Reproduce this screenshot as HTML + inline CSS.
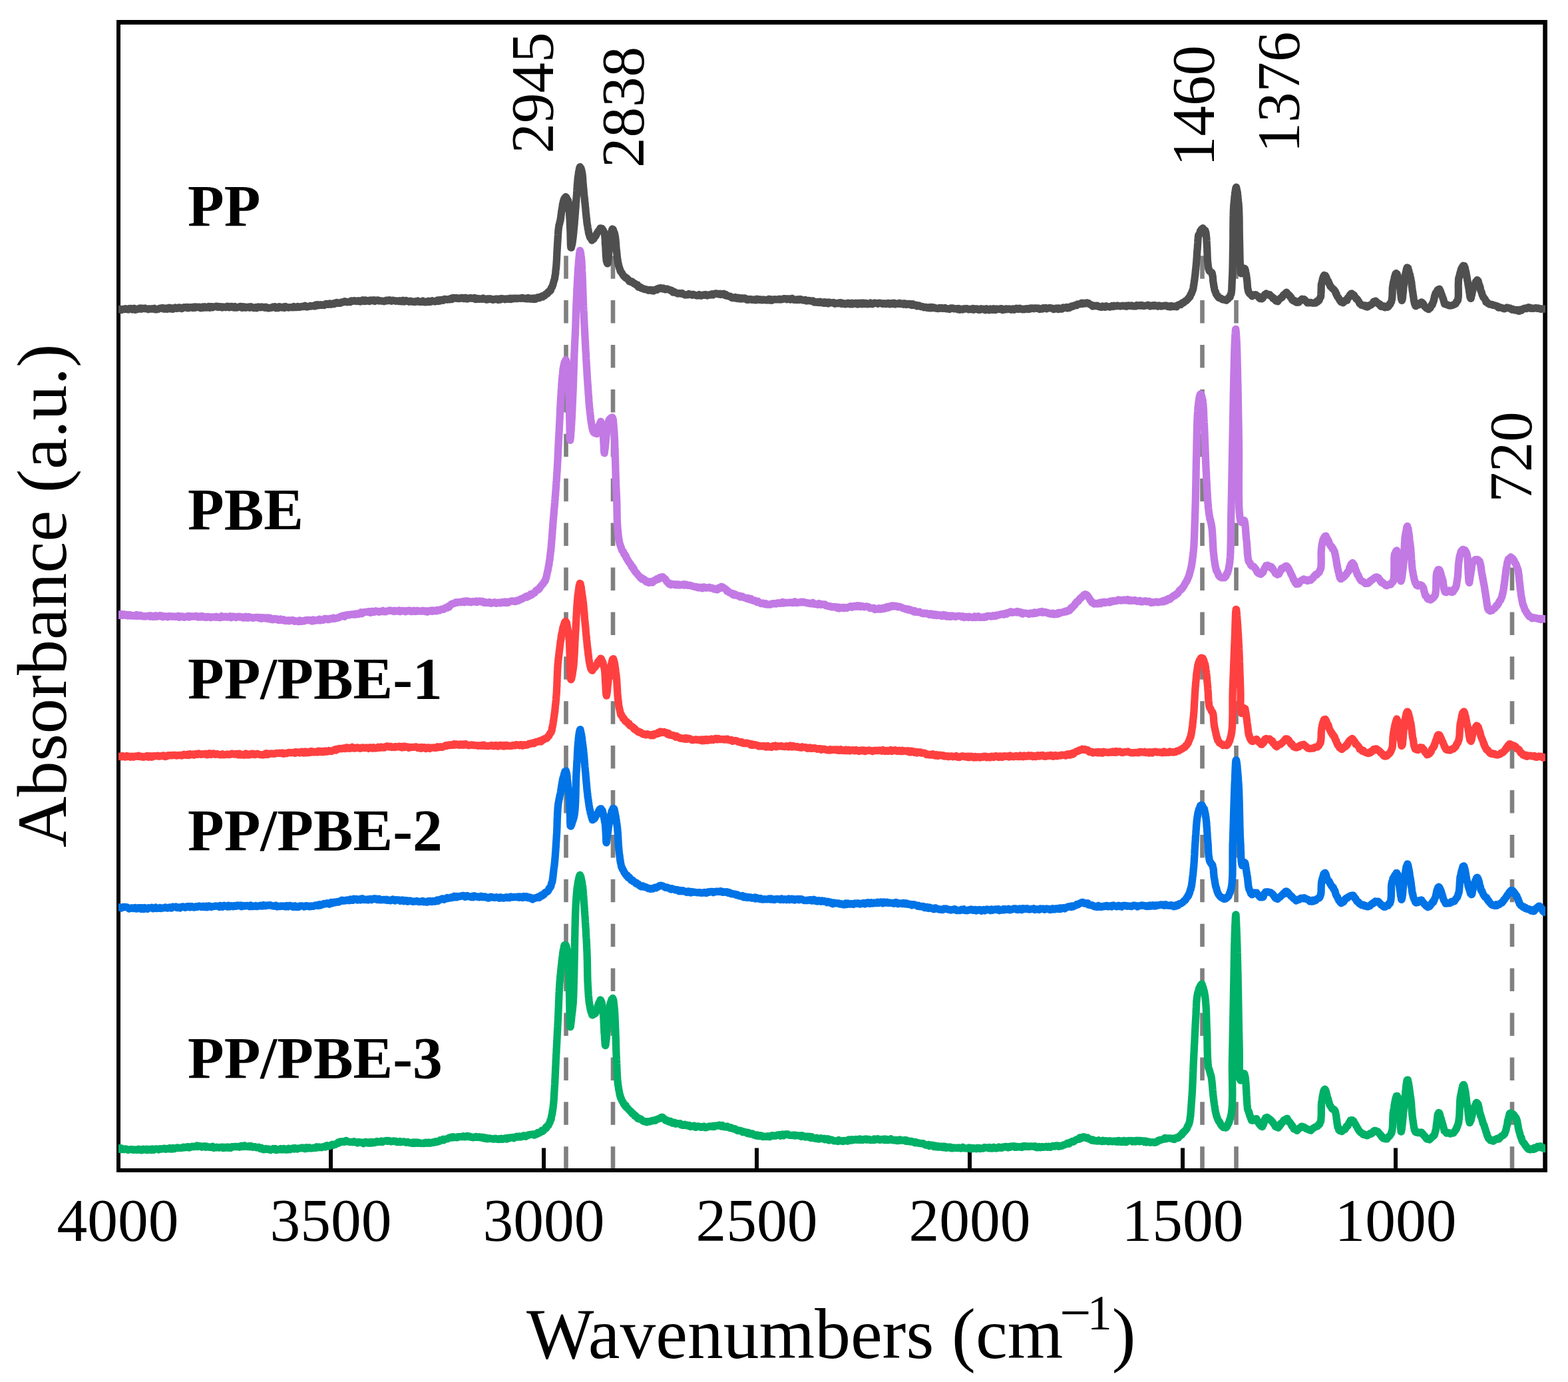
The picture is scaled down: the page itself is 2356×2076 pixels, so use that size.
<!DOCTYPE html>
<html><head><meta charset="utf-8"><title>FTIR spectra</title><style>html,body{margin:0;padding:0;background:#fff;}svg{display:block;}</style></head><body>
<svg width="2356" height="2076" viewBox="0 0 2356 2076">
<rect x="0" y="0" width="2356" height="2076" fill="#fff"/>
<line x1="850.5" y1="384.2" x2="850.5" y2="1755" stroke="#808080" stroke-width="6.6" stroke-dasharray="34.5 32.4"/>
<line x1="921.0" y1="384.2" x2="921.0" y2="1755" stroke="#808080" stroke-width="6.6" stroke-dasharray="34.5 32.4"/>
<line x1="1806.5" y1="384.2" x2="1806.5" y2="1755" stroke="#808080" stroke-width="6.6" stroke-dasharray="34.5 32.4"/>
<line x1="1857.5" y1="384.2" x2="1857.5" y2="1755" stroke="#808080" stroke-width="6.6" stroke-dasharray="34.5 32.4"/>
<line x1="2272" y1="852.5" x2="2272" y2="1755" stroke="#808080" stroke-width="6.6" stroke-dasharray="34.5 32.4"/>
<rect x="494" y="1724.5" width="6" height="32" fill="#000"/>
<rect x="814" y="1724.5" width="6" height="32" fill="#000"/>
<rect x="1134" y="1724.5" width="6" height="32" fill="#000"/>
<rect x="1454" y="1724.5" width="6" height="32" fill="#000"/>
<rect x="1774" y="1724.5" width="6" height="32" fill="#000"/>
<rect x="2094" y="1724.5" width="6" height="32" fill="#000"/>
<rect x="175" y="30" width="6" height="1731" fill="#000"/>
<rect x="2318.3" y="30" width="6.7" height="1731" fill="#000"/>
<rect x="175" y="30" width="2150" height="6.9" fill="#000"/>
<rect x="175" y="1755" width="2150" height="6" fill="#000"/>
<clipPath id="pc"><rect x="178" y="30" width="2144" height="1731"/></clipPath>
<g clip-path="url(#pc)" fill="none" stroke-width="11.3" stroke-linejoin="round" stroke-linecap="round">
<path stroke="#4f4f4f" d="M178.0,464.6L179.5,464.5L181.0,464.7L182.5,465.5L184.0,464.4L185.5,464.5L187.0,464.7L188.4,463.7L189.9,464.4L191.4,464.7L192.8,465.0L194.3,463.5L195.7,463.9L197.2,463.4L198.7,465.0L200.1,464.7L201.6,463.2L203.0,465.3L204.5,465.2L206.0,464.5L207.4,464.4L208.9,463.4L210.4,463.0L211.9,464.2L213.4,463.1L214.9,463.4L216.4,463.5L217.9,463.0L219.4,463.9L220.9,463.8L222.5,464.7L224.0,463.9L225.6,464.2L227.2,463.8L228.8,464.2L230.4,463.7L232.0,463.3L233.6,464.8L235.3,464.8L236.9,464.4L238.6,464.1L240.0,463.2L241.3,462.9L242.7,463.0L244.1,462.5L245.5,464.0L246.9,463.2L248.4,464.1L249.8,463.1L251.3,464.3L252.7,464.0L254.2,462.1L255.7,462.5L257.2,464.0L258.7,463.0L260.2,464.1L261.8,462.7L263.3,462.0L264.8,463.1L266.4,463.4L268.0,462.2L269.5,461.8L271.1,462.3L272.7,463.6L274.2,463.1L275.8,461.6L277.4,461.9L279.0,461.5L280.6,461.3L282.2,462.9L283.8,461.5L285.4,462.3L287.0,462.0L288.6,461.4L290.1,462.5L291.7,461.1L293.3,462.2L294.9,461.0L296.5,461.6L298.1,461.1L299.7,461.2L301.3,462.7L302.8,462.3L304.4,461.1L306.0,462.4L307.5,460.8L309.1,461.2L310.6,462.2L312.2,461.7L313.7,460.4L315.2,462.4L316.7,460.6L318.2,460.7L319.7,461.8L321.2,460.8L322.7,460.7L324.1,460.2L325.6,460.2L327.0,461.3L328.4,460.5L329.8,461.3L331.2,460.7L332.6,460.9L334.0,462.0L335.7,461.0L337.3,461.2L338.9,461.8L340.6,460.3L342.2,460.2L343.8,461.9L345.3,461.7L346.9,460.5L348.5,460.4L350.0,461.6L351.6,462.1L353.1,460.5L354.6,462.2L356.2,462.1L357.7,461.5L359.2,461.1L360.7,460.5L362.2,460.4L363.6,462.4L365.1,460.9L366.6,462.0L368.1,461.0L369.6,462.3L371.0,461.8L372.5,461.2L374.0,461.0L375.4,462.2L376.9,460.8L378.3,461.2L379.8,462.0L381.3,462.7L382.7,462.2L384.2,461.5L385.7,462.9L387.2,461.3L388.6,460.9L390.1,461.5L391.6,461.9L393.1,461.0L394.6,461.3L396.1,461.7L397.6,462.2L399.1,461.2L400.6,461.7L402.2,462.8L403.7,463.0L405.3,462.3L406.9,462.3L408.4,462.1L410.0,461.1L411.6,460.8L413.2,460.7L414.8,462.7L416.4,462.2L417.9,462.7L419.5,460.6L421.1,461.9L422.7,461.5L424.3,462.0L425.9,461.1L427.5,462.5L429.1,460.5L430.7,461.5L432.2,461.8L433.8,462.1L435.3,461.7L436.9,461.6L438.4,461.7L440.0,461.9L441.5,460.6L443.0,461.3L444.5,461.7L445.9,461.6L447.4,460.5L448.8,461.3L450.3,461.4L451.7,460.7L453.1,460.7L454.4,460.1L455.8,460.5L457.1,460.5L458.4,459.2L459.7,460.4L461.0,461.1L462.8,460.7L464.5,460.3L466.1,459.4L467.8,460.0L469.4,459.6L470.9,459.1L472.5,459.9L474.0,458.1L475.5,459.4L477.0,457.7L478.4,458.8L479.9,458.4L481.3,457.7L482.7,458.6L484.2,458.0L485.6,458.1L487.1,458.6L488.5,457.0L490.0,456.3L491.5,456.7L493.0,457.4L494.5,456.2L496.0,455.9L497.5,457.3L498.9,456.6L500.4,455.9L501.8,456.7L503.3,455.2L504.7,455.7L506.1,454.5L507.6,454.8L509.1,455.4L510.5,455.4L512.0,455.1L513.5,453.8L515.1,454.0L516.6,453.2L518.2,452.6L519.9,453.3L521.5,453.8L523.2,453.7L525.0,453.3L526.3,453.7L527.5,452.1L528.8,451.8L530.2,452.4L531.5,451.9L532.9,451.7L534.3,452.1L535.7,452.5L537.1,452.2L538.5,451.7L540.0,452.8L541.4,453.1L542.9,451.9L544.4,451.0L545.9,450.9L547.4,452.7L548.9,450.9L550.5,452.3L552.0,452.0L553.6,451.4L555.1,452.5L556.7,450.8L558.3,451.0L559.8,451.7L561.4,450.8L563.0,452.5L564.6,451.2L566.2,451.0L567.8,450.8L569.3,452.1L570.9,451.7L572.5,452.1L574.1,452.1L575.7,452.5L577.2,452.8L578.8,452.2L580.3,451.1L581.9,451.8L583.4,451.1L585.0,450.7L586.5,451.7L588.0,452.3L589.5,451.1L591.1,451.3L592.6,451.5L594.2,452.3L595.7,451.9L597.3,452.1L598.9,452.5L600.5,451.7L602.1,452.6L603.7,452.9L605.3,451.2L606.9,453.1L608.5,452.7L610.1,451.4L611.7,452.2L613.3,452.6L614.9,453.3L616.6,452.1L618.2,452.6L619.8,453.3L621.4,453.2L622.9,453.6L624.5,452.6L626.1,453.0L627.7,452.1L629.2,453.2L630.8,453.5L632.3,453.1L633.8,453.3L635.3,452.2L636.8,453.7L638.3,453.9L639.7,453.9L641.2,452.9L642.6,453.5L644.0,452.4L645.4,453.7L646.8,453.5L648.1,452.4L649.4,451.7L650.7,452.4L652.0,452.6L653.8,453.0L655.4,452.2L657.1,451.0L658.6,452.5L660.2,450.7L661.6,452.0L663.1,450.4L664.5,450.5L665.9,451.2L667.3,449.6L668.7,449.3L670.1,449.9L671.5,450.0L672.9,450.1L674.4,449.5L675.9,449.8L677.4,448.6L679.0,449.4L680.6,447.4L682.3,447.5L684.0,448.1L685.3,447.5L686.5,448.4L687.9,448.1L689.2,447.9L690.6,448.5L692.0,447.9L693.4,447.4L694.8,447.5L696.2,448.6L697.7,448.7L699.2,447.2L700.7,448.7L702.2,449.0L703.7,448.0L705.3,448.2L706.8,447.4L708.4,448.2L710.0,448.2L711.5,448.5L713.1,447.3L714.7,449.5L716.3,448.6L717.9,448.4L719.5,449.4L721.1,448.9L722.7,448.8L724.3,449.3L725.8,448.0L727.4,449.2L729.0,449.0L730.6,450.2L732.1,450.2L733.7,448.8L735.2,449.3L736.7,448.6L738.3,449.3L739.8,450.2L741.2,450.4L742.7,449.5L744.2,449.2L745.6,448.9L747.0,449.9L748.6,450.5L750.3,448.8L751.9,450.2L753.6,448.4L755.4,448.8L757.1,448.8L758.9,449.8L760.6,448.9L762.4,448.9L764.1,449.4L765.9,448.2L767.6,449.5L769.4,448.1L771.1,448.8L772.8,448.2L774.5,448.0L776.1,448.6L777.8,448.4L779.3,448.1L780.9,448.2L782.4,448.3L783.9,447.5L785.3,447.5L786.6,448.4L787.9,448.4L789.1,448.1L790.3,448.8L791.4,448.2L792.4,448.7L793.4,447.4L794.2,448.5L795.0,448.7L797.0,449.1L798.3,448.1L800.0,448.2L801.3,449.5L802.7,447.8L804.2,449.3L805.8,448.8L807.5,446.9L809.2,446.7L810.8,447.4L812.4,445.9L813.9,444.9L815.4,445.9L816.9,444.2L818.4,444.2L819.9,441.8L821.3,441.4L822.6,441.0L823.8,438.4L825.0,437.5L825.9,437.5L826.8,436.8L827.6,435.6L828.3,432.4L829.0,431.9L829.7,431.0L830.3,428.9L830.9,427.8L831.4,425.2L831.9,423.4L832.3,422.1L832.7,420.6L833.0,420.4L833.3,418.9L833.6,417.6L833.8,415.2L834.1,413.9L834.3,412.4L834.5,412.3L834.7,411.1L834.8,409.3L835.0,405.9L835.2,404.2L835.4,404.5L835.5,402.1L835.7,401.4L835.8,399.0L835.9,397.9L836.0,396.5L836.1,394.8L836.2,393.7L836.3,390.9L836.4,390.8L836.5,389.6L836.5,386.5L836.6,385.6L836.7,384.6L836.8,382.3L836.8,380.3L836.9,378.6L837.0,377.8L837.1,375.2L837.1,375.6L837.2,373.9L837.3,372.2L837.4,371.0L837.5,369.1L837.6,366.9L837.7,365.7L837.8,363.8L837.9,363.2L838.0,361.1L838.1,358.2L838.2,357.9L838.3,355.9L838.4,354.3L838.5,352.8L838.6,350.3L838.7,349.8L838.8,348.3L838.9,346.5L839.1,345.3L839.2,344.0L839.4,342.0L839.6,341.5L839.9,338.2L840.4,337.2L840.8,336.0L841.2,333.4L841.6,332.4L841.9,331.8L842.1,330.4L842.3,328.1L842.5,328.2L842.7,326.0L842.9,323.7L843.1,322.8L843.3,321.0L843.5,319.3L843.7,317.4L844.0,317.2L844.2,315.0L844.4,313.7L844.7,312.1L845.0,310.8L845.3,307.0L845.6,306.7L846.0,305.3L846.3,302.8L846.7,301.8L847.2,299.8L848.0,298.2L849.0,297.0L850.0,295.7L851.1,296.7L852.4,299.7L853.4,300.9L853.8,301.8L854.1,303.9L854.3,304.3L854.5,306.6L854.7,307.3L854.8,309.2L855.0,309.2L855.0,312.0L855.1,314.1L855.2,314.2L855.3,317.8L855.4,317.8L855.5,320.2L855.6,320.9L855.7,323.1L855.8,324.8L855.9,325.1L856.0,328.6L856.1,329.0L856.2,330.8L856.2,332.5L856.3,333.6L856.4,335.0L856.4,337.5L856.5,338.8L856.6,339.8L856.6,342.3L856.7,343.0L856.8,343.9L856.8,345.9L856.9,347.0L857.0,348.9L857.0,352.1L857.1,353.3L857.1,356.5L857.2,358.3L857.2,358.8L857.3,362.9L857.3,364.7L857.4,364.6L857.4,368.1L857.5,368.5L857.6,369.8L857.7,371.8L857.9,370.8L858.0,371.6L858.3,372.1L858.7,370.5L859.1,368.2L859.6,367.3L860.0,364.7L860.4,362.1L860.6,359.8L860.7,359.7L860.9,358.0L861.1,356.1L861.3,354.3L861.4,353.8L861.6,351.4L861.7,350.6L861.9,349.4L862.0,347.3L862.2,345.3L862.3,344.3L862.4,342.3L862.6,341.4L862.7,339.1L862.9,338.5L863.0,336.7L863.2,334.6L863.3,332.1L863.4,330.4L863.5,330.6L863.7,328.9L863.8,327.1L863.9,325.0L864.0,323.3L864.1,322.7L864.3,320.9L864.4,319.5L864.5,318.0L864.6,316.8L864.7,314.0L864.9,312.6L865.0,312.7L865.1,311.0L865.2,309.4L865.3,306.0L865.4,304.5L865.6,303.4L865.7,302.3L865.8,301.2L865.9,298.5L866.0,298.0L866.2,295.4L866.3,293.8L866.4,293.5L866.5,291.7L866.6,290.2L866.7,288.0L866.8,286.6L866.9,284.4L867.0,283.1L867.1,282.3L867.2,281.0L867.4,277.7L867.5,276.2L867.6,276.2L867.7,274.3L867.8,273.2L868.0,270.5L868.1,269.6L868.2,267.9L868.4,267.8L868.5,265.6L868.7,265.0L869.0,263.6L869.3,260.0L869.6,258.3L870.0,256.6L870.3,255.2L870.7,252.7L871.1,251.6L871.5,250.6L872.2,252.9L872.9,252.6L873.6,254.7L874.3,257.9L874.5,258.9L874.8,260.6L875.0,261.2L875.1,263.7L875.3,263.8L875.4,265.7L875.6,268.4L875.7,268.9L875.8,271.1L875.9,273.8L876.0,275.5L876.2,276.4L876.3,277.8L876.5,279.7L876.6,282.0L876.8,282.7L876.9,283.6L877.1,286.4L877.2,287.6L877.4,289.9L877.5,291.5L877.7,293.0L877.8,293.5L878.0,295.9L878.1,296.4L878.3,298.0L878.5,299.7L878.6,302.5L878.8,304.0L878.9,304.2L879.1,306.0L879.3,307.5L879.4,309.0L879.6,310.6L879.7,312.2L879.9,313.3L880.0,315.7L880.2,317.9L880.3,318.9L880.5,321.2L880.6,322.2L880.8,322.9L881.0,325.8L881.1,327.6L881.3,327.8L881.5,328.8L881.6,331.4L881.8,332.9L882.0,334.4L882.2,336.6L882.4,337.3L882.6,338.9L882.9,339.1L883.1,341.9L883.4,344.1L883.7,344.2L884.0,345.8L884.3,348.8L884.6,350.7L884.9,350.3L885.3,352.8L885.6,353.0L886.1,355.5L886.8,357.1L887.7,358.0L888.6,359.3L889.5,361.0L890.7,360.0L891.9,359.1L893.2,356.5L894.4,354.6L895.2,354.6L896.0,352.5L896.8,350.7L897.6,349.3L898.4,348.3L899.2,347.0L900.6,345.6L902.0,342.9L903.4,343.1L904.5,343.3L905.6,345.0L906.7,346.7L907.6,348.7L907.9,350.0L908.3,351.4L908.5,352.1L908.7,353.4L908.9,355.4L909.0,357.3L909.1,358.2L909.2,360.0L909.3,361.1L909.3,364.2L909.4,366.5L909.5,366.9L909.6,368.1L909.8,369.8L909.9,371.9L910.0,373.4L910.1,376.6L910.1,376.3L910.2,378.6L910.3,379.9L910.4,382.8L910.5,384.6L910.6,384.9L910.7,386.1L910.9,388.3L911.0,389.8L911.4,392.8L911.8,393.2L912.3,395.0L912.7,395.9L912.9,395.7L913.1,395.1L913.3,395.1L913.5,393.5L913.7,391.0L913.9,389.1L914.1,387.4L914.3,385.0L914.4,384.2L914.6,381.1L914.8,379.6L915.0,378.2L915.2,375.7L915.4,373.7L915.5,373.5L915.7,371.9L915.8,368.9L915.9,367.6L916.1,366.8L916.2,364.0L916.4,361.7L916.5,359.6L916.7,360.0L916.9,358.0L917.0,355.6L917.2,354.5L917.5,353.1L917.7,351.3L918.0,351.8L918.6,348.9L919.3,346.0L920.0,344.0L920.7,344.4L921.3,344.6L921.8,346.5L922.3,347.8L922.9,349.3L923.3,350.3L923.8,352.3L924.2,354.5L924.5,355.7L924.7,358.5L924.9,359.2L925.1,361.1L925.2,363.5L925.4,363.5L925.5,365.8L925.6,366.6L925.7,369.7L925.8,369.7L926.0,373.2L926.1,374.9L926.3,376.4L926.5,376.3L926.6,378.3L926.8,380.8L927.0,381.0L927.1,383.4L927.3,384.9L927.5,387.5L927.7,388.2L927.9,390.3L928.1,390.6L928.3,393.1L928.5,393.7L928.8,396.2L929.1,395.7L929.5,399.0L929.9,399.4L930.4,401.8L930.9,403.4L931.4,404.1L932.0,407.0L932.6,407.3L933.2,408.6L934.2,409.7L935.3,411.7L936.4,413.4L937.6,415.2L938.8,415.7L940.1,417.6L941.5,417.5L942.9,419.2L944.3,420.4L945.7,422.6L947.1,423.1L948.4,423.5L949.7,422.9L951.1,424.5L952.7,426.2L953.9,425.9L955.1,427.4L956.5,428.1L957.8,428.0L959.2,431.2L960.7,431.7L962.2,431.3L963.6,433.0L965.1,433.0L966.6,433.8L968.1,434.6L969.6,434.5L971.1,434.9L972.7,435.4L974.2,436.2L975.8,435.4L977.3,435.4L978.9,436.6L980.4,435.7L982.0,437.0L983.4,435.8L984.9,435.8L986.4,434.5L987.8,435.1L989.3,433.0L990.9,432.8L992.6,432.5L994.3,433.7L995.5,433.9L996.8,432.9L998.1,433.6L999.5,434.9L1000.8,434.7L1002.2,434.0L1003.7,434.8L1005.1,435.1L1006.6,435.6L1008.1,436.7L1009.6,436.5L1011.1,438.9L1012.6,438.3L1014.2,439.0L1015.7,439.8L1017.2,440.5L1018.8,441.1L1020.3,440.5L1021.8,440.6L1023.3,441.1L1024.7,440.4L1026.2,441.5L1027.7,442.3L1029.2,443.1L1030.7,442.9L1032.2,442.7L1033.7,442.8L1035.2,441.6L1036.8,442.4L1038.3,442.5L1039.8,443.3L1041.4,442.2L1042.9,442.8L1044.4,443.2L1046.0,443.9L1047.5,444.0L1049.0,443.6L1050.6,442.6L1052.1,444.0L1053.6,444.3L1055.1,443.5L1056.7,443.0L1058.2,443.3L1059.8,442.4L1061.4,443.6L1063.0,444.0L1064.6,442.8L1066.2,443.1L1067.8,443.2L1069.4,441.7L1071.0,443.1L1072.6,442.3L1074.1,441.2L1075.7,440.8L1077.2,441.1L1078.6,441.8L1080.1,442.0L1081.5,441.2L1082.8,442.5L1084.1,441.4L1085.4,441.7L1087.2,441.3L1088.8,443.5L1090.2,442.1L1091.6,444.3L1093.0,444.1L1094.4,444.7L1095.8,445.3L1097.4,445.2L1099.1,447.1L1101.0,447.7L1102.1,447.5L1103.3,447.2L1104.5,446.4L1105.8,448.1L1107.1,447.1L1108.5,448.7L1109.9,447.4L1111.3,448.3L1112.8,449.1L1114.4,447.8L1115.9,448.8L1117.5,447.9L1119.1,448.0L1120.7,448.4L1122.3,450.4L1123.9,450.4L1125.6,449.9L1127.2,449.3L1128.9,450.2L1130.5,450.4L1132.2,449.8L1133.8,450.3L1135.5,450.9L1137.1,449.2L1138.7,449.7L1140.2,450.4L1141.8,449.7L1143.3,450.3L1144.8,450.8L1146.2,449.9L1147.6,450.7L1149.0,450.2L1150.6,450.9L1152.2,450.3L1153.8,450.9L1155.3,449.5L1156.8,450.8L1158.2,449.6L1159.7,451.2L1161.1,450.3L1162.5,449.9L1163.9,449.6L1165.3,449.9L1166.8,449.9L1168.2,449.9L1169.6,449.8L1171.1,449.1L1172.6,450.1L1174.2,449.7L1175.7,449.6L1177.4,448.6L1179.1,448.6L1180.8,448.9L1182.1,449.7L1183.4,448.9L1184.7,449.0L1186.0,448.9L1187.4,450.0L1188.8,448.8L1190.2,448.3L1191.7,449.9L1193.2,450.4L1194.6,450.2L1196.1,450.0L1197.7,450.5L1199.2,449.7L1200.7,450.5L1202.3,449.5L1203.8,449.8L1205.4,450.7L1207.0,451.0L1208.6,451.0L1210.2,450.4L1211.8,452.0L1213.4,451.8L1215.0,451.4L1216.6,451.7L1218.2,452.1L1219.9,452.0L1221.5,451.8L1223.1,453.9L1224.7,454.2L1226.3,453.7L1227.8,454.3L1229.4,453.5L1231.0,454.5L1232.5,453.4L1234.1,454.7L1235.6,454.5L1237.1,455.3L1238.6,453.7L1240.1,455.3L1241.5,454.0L1243.0,455.0L1244.4,456.0L1246.0,454.0L1247.7,454.6L1249.3,454.8L1250.9,454.9L1252.5,454.4L1254.0,456.3L1255.6,456.2L1257.2,455.3L1258.7,455.3L1260.3,455.8L1261.8,454.7L1263.3,454.7L1264.8,456.6L1266.4,455.4L1267.9,455.8L1269.4,456.8L1270.9,456.9L1272.4,455.8L1273.9,455.2L1275.4,455.4L1276.9,456.8L1278.4,456.8L1279.9,455.2L1281.4,456.7L1282.9,455.6L1284.4,455.9L1285.9,455.2L1287.4,456.8L1288.9,457.1L1290.5,455.3L1292.0,456.3L1293.5,455.3L1295.1,456.9L1296.7,455.0L1298.2,455.2L1299.8,456.5L1301.4,455.6L1303.0,456.9L1304.6,456.8L1306.2,456.5L1307.8,455.2L1309.3,456.4L1310.9,456.9L1312.5,455.8L1314.1,455.0L1315.7,455.3L1317.3,455.5L1318.9,456.4L1320.4,455.2L1322.0,455.2L1323.6,455.3L1325.1,456.2L1326.6,456.5L1328.2,455.6L1329.7,456.2L1331.2,456.7L1332.6,456.1L1334.1,455.3L1335.6,455.5L1337.0,456.9L1338.4,456.3L1339.8,455.5L1341.5,456.4L1343.1,455.2L1344.8,457.2L1346.4,456.0L1348.1,456.3L1349.7,456.3L1351.3,455.3L1352.9,456.6L1354.5,456.0L1356.0,456.0L1357.6,457.2L1359.1,455.7L1360.6,456.3L1362.1,457.4L1363.5,456.4L1364.9,456.5L1366.3,457.2L1367.7,456.6L1369.0,458.3L1370.3,458.6L1371.6,456.7L1373.4,457.9L1375.0,458.8L1376.5,458.3L1377.9,459.9L1379.4,459.3L1380.8,459.0L1382.3,460.2L1383.9,460.7L1385.6,460.4L1387.5,461.3L1388.6,461.8L1389.8,461.3L1391.1,461.4L1392.3,462.3L1393.6,462.1L1395.0,461.9L1396.4,462.9L1397.8,461.3L1399.2,462.8L1400.7,461.6L1402.2,462.6L1403.7,461.9L1405.2,462.5L1406.8,463.3L1408.4,463.4L1410.0,463.5L1411.6,462.4L1413.3,463.0L1414.9,462.5L1416.6,463.4L1418.3,463.3L1419.9,462.4L1421.6,463.7L1423.3,464.0L1425.0,463.8L1426.7,464.5L1428.3,463.0L1430.0,463.0L1431.7,462.8L1433.3,463.9L1435.0,463.9L1436.4,463.9L1437.8,463.6L1439.3,464.8L1440.7,463.3L1442.2,465.1L1443.6,464.4L1445.1,464.4L1446.6,465.0L1448.0,463.8L1449.5,463.6L1451.0,464.0L1452.5,463.5L1454.1,464.1L1455.6,464.8L1457.1,464.6L1458.6,464.1L1460.2,464.8L1461.7,463.7L1463.2,465.3L1464.8,463.9L1466.3,464.1L1467.9,463.9L1469.4,465.1L1471.0,465.4L1472.5,465.3L1474.1,463.7L1475.6,464.5L1477.2,464.4L1478.7,464.1L1480.3,465.8L1481.9,463.7L1483.4,464.7L1485.0,465.3L1486.5,465.8L1488.1,464.0L1489.6,464.6L1491.2,465.3L1492.7,463.7L1494.2,464.1L1495.8,465.6L1497.3,463.9L1498.8,464.5L1500.3,464.2L1501.9,464.5L1503.4,463.7L1505.0,463.6L1506.5,465.7L1508.1,465.2L1509.7,465.1L1511.2,464.0L1512.8,464.0L1514.4,464.6L1516.0,463.9L1517.6,464.3L1519.2,465.3L1520.8,464.1L1522.4,464.0L1524.0,465.3L1525.6,464.5L1527.2,463.2L1528.8,463.9L1530.4,464.5L1532.0,463.1L1533.6,463.7L1535.1,464.4L1536.7,464.8L1538.2,464.1L1539.8,464.7L1541.3,463.8L1542.8,463.6L1544.3,464.5L1545.8,463.5L1547.3,464.3L1548.8,463.0L1550.2,463.3L1551.7,462.9L1553.1,463.7L1554.5,462.8L1555.8,462.8L1557.2,462.8L1558.5,463.4L1559.8,463.0L1561.1,463.3L1562.4,464.5L1564.2,463.8L1565.9,464.2L1567.6,462.7L1569.3,463.2L1570.9,462.5L1572.5,463.9L1574.1,463.2L1575.7,463.0L1577.3,462.5L1578.8,462.9L1580.3,463.1L1581.8,463.4L1583.2,464.6L1584.7,464.1L1586.1,463.2L1587.5,463.3L1588.8,462.9L1590.1,464.6L1591.5,463.2L1592.7,464.1L1594.0,463.9L1595.8,464.1L1597.6,462.0L1599.2,462.5L1600.8,462.4L1602.4,461.6L1603.9,463.1L1605.4,461.6L1606.9,462.3L1608.4,461.4L1610.0,460.0L1611.5,460.4L1613.0,459.6L1614.5,458.7L1616.0,458.4L1617.5,458.8L1619.0,457.0L1620.5,457.1L1621.9,456.9L1623.3,456.7L1624.7,455.4L1626.0,456.5L1627.7,455.2L1629.4,456.1L1631.0,455.9L1632.6,454.8L1634.1,455.1L1635.5,455.5L1637.1,457.1L1638.5,457.4L1640.0,458.4L1642.0,460.2L1642.9,459.0L1644.0,459.3L1645.1,459.6L1646.4,459.5L1647.7,459.2L1649.1,459.2L1650.5,460.6L1652.0,460.5L1653.6,461.1L1655.2,461.4L1656.9,460.0L1658.6,460.8L1660.3,461.3L1662.0,459.7L1663.8,460.7L1665.5,460.6L1667.3,461.2L1669.0,461.0L1670.8,459.5L1672.5,460.4L1674.2,459.1L1675.8,459.9L1677.4,459.8L1679.0,459.0L1680.5,459.7L1682.1,459.6L1683.6,460.0L1685.1,459.5L1686.6,459.2L1688.2,459.7L1689.7,459.8L1691.2,459.1L1692.7,460.2L1694.3,459.2L1695.8,458.9L1697.3,459.4L1698.8,459.5L1700.4,458.9L1701.9,459.8L1703.4,460.0L1704.9,459.7L1706.5,460.0L1708.0,458.5L1709.5,459.2L1711.0,459.2L1712.6,458.5L1714.1,459.2L1715.6,458.4L1717.1,459.4L1718.7,459.6L1720.3,459.3L1721.9,459.0L1723.5,458.8L1725.2,458.2L1726.8,458.9L1728.4,460.1L1730.1,459.4L1731.7,458.7L1733.4,459.6L1735.0,458.5L1736.6,459.1L1738.2,459.4L1739.7,460.2L1741.3,458.9L1742.8,459.4L1744.2,460.2L1745.7,459.8L1747.0,459.5L1748.4,459.5L1749.6,459.1L1750.8,459.2L1752.0,458.9L1753.9,460.3L1755.6,460.6L1757.2,459.8L1758.7,461.2L1760.1,459.5L1761.6,459.9L1763.0,460.7L1764.5,460.2L1766.1,460.0L1767.7,460.9L1769.3,458.6L1770.9,458.1L1772.4,457.4L1774.0,457.7L1775.4,455.9L1776.8,454.6L1778.2,454.9L1779.5,453.7L1780.8,452.3L1782.0,451.9L1783.1,451.1L1784.2,449.7L1785.3,448.7L1786.2,447.3L1787.1,446.7L1788.0,445.7L1788.8,442.9L1789.5,441.5L1790.2,441.3L1790.9,438.5L1791.5,437.8L1791.9,436.4L1792.4,435.0L1792.7,434.2L1793.0,432.4L1793.3,429.4L1793.6,428.9L1793.8,427.1L1794.1,425.6L1794.3,423.6L1794.5,421.8L1794.8,421.2L1795.0,419.1L1795.2,417.0L1795.4,415.6L1795.6,414.3L1795.8,412.4L1796.0,411.6L1796.1,409.3L1796.3,407.6L1796.4,406.0L1796.6,404.5L1796.8,404.3L1796.9,401.4L1797.0,400.6L1797.2,399.7L1797.3,397.5L1797.5,395.3L1797.6,395.3L1797.7,393.8L1797.9,390.4L1798.0,389.3L1798.1,388.3L1798.2,387.3L1798.3,384.9L1798.4,384.0L1798.5,381.4L1798.6,380.9L1798.7,378.5L1798.8,377.0L1798.9,376.4L1799.0,375.1L1799.2,373.6L1799.3,371.6L1799.4,369.8L1799.5,368.8L1799.6,366.9L1799.7,365.7L1799.8,364.0L1799.9,360.9L1800.0,359.9L1800.1,359.0L1800.3,356.6L1800.5,355.0L1800.8,353.3L1801.2,353.2L1801.9,352.2L1802.7,350.3L1803.6,346.6L1804.5,346.1L1805.5,344.1L1806.4,343.6L1807.3,342.7L1808.6,344.5L1809.9,346.3L1811.0,346.4L1811.4,348.9L1811.7,348.7L1811.9,349.8L1812.2,351.6L1812.4,354.1L1812.5,356.2L1812.7,355.9L1812.8,358.0L1812.9,359.0L1813.0,361.8L1813.1,363.4L1813.2,364.9L1813.3,366.4L1813.4,369.1L1813.5,370.7L1813.6,371.0L1813.7,372.8L1813.8,374.9L1813.8,376.8L1813.9,378.9L1814.0,379.2L1814.0,381.5L1814.0,382.8L1814.1,385.0L1814.1,385.1L1814.2,386.7L1814.3,388.1L1814.3,391.4L1814.4,391.3L1814.6,393.2L1814.7,393.7L1814.9,395.9L1815.1,397.0L1815.3,399.9L1815.5,400.6L1815.8,403.3L1816.1,403.9L1816.5,405.1L1817.0,406.8L1818.2,407.8L1819.6,408.5L1820.8,409.4L1821.3,410.6L1821.7,413.8L1822.0,414.1L1822.2,415.3L1822.4,417.3L1822.6,419.8L1822.7,422.7L1822.9,422.7L1823.2,425.8L1823.5,426.6L1823.7,428.0L1823.9,430.5L1824.2,431.1L1824.5,431.9L1824.8,434.5L1825.2,436.2L1825.7,437.6L1826.4,438.3L1827.1,441.3L1828.0,442.7L1828.9,444.4L1829.8,444.6L1830.8,446.7L1831.8,447.5L1833.3,447.6L1834.8,448.4L1836.4,449.5L1838.0,450.0L1839.5,450.1L1841.1,450.6L1842.6,451.2L1844.0,449.6L1845.2,449.2L1846.3,447.0L1847.3,446.2L1848.2,446.3L1849.0,442.4L1849.4,442.5L1849.7,442.0L1850.0,440.7L1850.2,439.3L1850.4,437.1L1850.5,436.6L1850.7,435.1L1850.8,433.4L1850.9,432.3L1850.9,428.7L1851.0,428.8L1851.1,425.9L1851.1,424.8L1851.2,422.0L1851.3,421.7L1851.4,418.0L1851.5,417.9L1851.5,415.8L1851.6,414.8L1851.7,413.4L1851.7,412.7L1851.8,411.6L1851.8,409.2L1851.9,408.4L1851.9,406.3L1852.0,404.6L1852.0,404.5L1852.0,401.7L1852.1,399.7L1852.1,398.7L1852.1,398.0L1852.2,395.3L1852.2,394.8L1852.2,392.8L1852.2,391.5L1852.3,388.8L1852.3,387.0L1852.3,385.5L1852.3,384.3L1852.4,382.9L1852.4,380.3L1852.4,379.8L1852.4,377.9L1852.5,376.1L1852.5,375.0L1852.5,374.2L1852.6,371.0L1852.6,370.8L1852.6,368.2L1852.7,367.6L1852.7,364.7L1852.7,365.1L1852.7,362.4L1852.7,362.0L1852.8,358.8L1852.8,357.6L1852.8,356.7L1852.8,353.9L1852.8,352.5L1852.8,351.8L1852.8,350.8L1852.8,347.7L1852.8,345.8L1852.8,344.6L1852.9,344.3L1852.9,340.8L1852.9,340.3L1852.9,338.1L1852.9,337.0L1852.9,334.5L1852.9,333.7L1853.0,332.7L1853.0,331.1L1853.0,329.0L1853.0,327.2L1853.1,325.8L1853.1,323.3L1853.1,323.4L1853.2,321.5L1853.2,319.6L1853.3,318.6L1853.3,316.6L1853.4,315.2L1853.5,313.5L1853.5,312.9L1853.6,311.6L1853.7,310.2L1853.8,307.9L1853.9,307.3L1854.1,305.0L1854.3,303.3L1854.5,301.3L1854.7,300.0L1854.9,296.2L1855.1,294.9L1855.3,294.2L1855.5,291.7L1855.7,289.0L1856.0,288.3L1856.2,287.4L1856.4,284.8L1856.6,284.7L1856.9,282.1L1857.1,283.4L1857.3,281.8L1857.5,281.1L1857.7,282.6L1857.9,282.6L1858.1,284.0L1858.4,284.7L1858.6,285.7L1858.8,286.5L1859.0,289.0L1859.3,288.7L1859.5,292.2L1859.7,293.7L1859.9,294.7L1860.1,297.9L1860.3,299.1L1860.5,301.3L1860.7,304.1L1860.9,304.6L1861.1,306.6L1861.2,309.2L1861.3,309.3L1861.4,311.7L1861.5,313.6L1861.6,314.3L1861.6,315.2L1861.7,317.9L1861.7,319.5L1861.8,320.8L1861.8,321.9L1861.9,324.2L1861.9,325.5L1862.0,325.6L1862.0,327.7L1862.0,328.7L1862.0,330.1L1862.1,332.4L1862.1,335.2L1862.1,336.7L1862.1,336.7L1862.1,338.5L1862.1,340.6L1862.2,343.2L1862.2,344.3L1862.2,346.5L1862.2,346.3L1862.2,349.9L1862.3,349.7L1862.3,352.2L1862.3,354.3L1862.3,355.5L1862.4,355.8L1862.4,358.4L1862.4,359.4L1862.5,360.1L1862.5,362.5L1862.6,364.1L1862.6,366.5L1862.6,367.4L1862.7,369.8L1862.7,371.7L1862.7,372.3L1862.8,373.9L1862.8,376.8L1862.8,378.0L1862.8,379.0L1862.9,380.6L1862.9,384.0L1863.0,384.9L1863.0,385.9L1863.0,387.1L1863.1,390.4L1863.1,391.2L1863.2,392.7L1863.2,393.3L1863.3,394.5L1863.3,396.0L1863.4,396.7L1863.5,398.9L1863.5,399.5L1863.6,401.4L1863.7,402.7L1863.8,405.0L1863.9,407.1L1864.1,409.7L1864.4,409.6L1864.8,410.8L1865.4,409.3L1866.2,408.7L1867.1,406.1L1868.1,405.5L1868.9,402.8L1869.7,403.6L1870.2,403.5L1870.6,403.8L1871.0,405.9L1871.4,406.1L1871.7,408.5L1872.0,410.0L1872.3,411.6L1872.6,412.6L1872.9,415.3L1873.1,416.8L1873.4,418.8L1873.6,421.4L1873.8,421.5L1874.0,424.1L1874.1,425.7L1874.2,426.4L1874.3,428.5L1874.4,429.5L1874.6,432.7L1874.8,432.8L1875.0,434.6L1875.4,435.8L1875.8,438.0L1876.7,439.9L1877.7,440.9L1878.8,442.3L1880.0,442.4L1881.3,444.9L1883.1,443.0L1884.9,442.9L1886.9,442.7L1888.1,444.0L1889.4,444.8L1890.8,445.2L1892.1,447.6L1893.4,448.7L1894.7,447.4L1895.9,448.9L1897.1,447.9L1898.2,446.2L1899.3,444.7L1900.3,442.6L1901.4,441.9L1902.6,441.0L1903.9,441.8L1905.2,442.3L1906.6,443.2L1908.0,442.8L1909.4,444.7L1910.5,445.2L1911.6,446.5L1912.8,448.4L1913.9,447.7L1915.0,449.8L1916.2,450.7L1917.3,452.0L1918.4,451.4L1919.7,452.9L1921.1,450.4L1922.4,449.7L1923.8,448.0L1925.1,447.3L1926.3,446.9L1927.5,444.3L1928.6,443.0L1929.7,442.5L1930.8,441.1L1931.9,440.5L1933.0,439.1L1934.1,440.7L1935.2,441.7L1936.3,443.3L1937.4,443.6L1938.6,446.0L1939.8,446.4L1941.0,449.4L1942.2,450.9L1943.5,452.0L1944.8,451.2L1946.1,452.9L1947.5,454.0L1948.8,454.4L1950.3,453.2L1951.8,453.9L1953.3,451.7L1954.8,451.0L1956.3,449.3L1957.8,449.9L1959.1,449.4L1960.4,450.1L1961.6,452.1L1962.9,452.7L1964.2,454.8L1965.6,454.2L1967.1,454.9L1968.7,454.3L1970.5,454.8L1972.2,455.2L1973.9,455.3L1975.5,454.7L1976.9,455.1L1978.3,452.7L1979.5,453.5L1980.7,450.9L1981.8,451.5L1982.8,449.1L1983.6,447.3L1984.0,446.7L1984.4,446.0L1984.6,444.8L1984.8,442.1L1984.9,439.7L1985.0,438.4L1985.1,438.2L1985.1,436.3L1985.1,434.6L1985.2,431.7L1985.2,430.9L1985.3,428.2L1985.4,426.8L1985.6,425.9L1985.9,426.0L1986.3,423.6L1986.8,422.2L1987.4,418.5L1987.9,417.6L1988.5,415.3L1989.1,414.5L1989.8,413.3L1990.4,414.7L1991.3,413.8L1992.2,415.3L1993.1,417.3L1994.0,419.7L1994.9,421.5L1995.6,422.0L1996.2,423.3L1996.8,425.7L1997.4,426.2L1998.0,427.5L1998.6,429.9L1999.4,430.1L2000.4,431.6L2001.6,432.8L2002.7,433.9L2003.9,434.7L2005.0,436.1L2005.8,437.4L2006.5,437.9L2007.2,441.1L2007.9,440.9L2008.5,443.4L2009.2,444.9L2009.9,446.0L2010.7,446.9L2011.7,448.3L2012.8,450.6L2013.9,452.1L2015.1,453.6L2016.3,453.7L2017.9,454.8L2019.6,453.4L2021.3,451.2L2023.0,450.8L2024.0,451.0L2025.1,447.5L2026.1,447.2L2027.0,446.4L2028.0,443.5L2029.0,442.8L2030.0,441.4L2031.0,440.9L2032.1,441.8L2033.2,442.7L2034.4,443.3L2035.5,445.3L2036.6,446.9L2037.7,449.0L2038.8,448.8L2039.9,450.3L2041.0,452.1L2042.0,453.6L2043.0,456.1L2044.2,456.5L2045.5,458.4L2047.0,458.2L2048.7,458.6L2050.4,460.0L2052.2,459.0L2054.0,461.1L2055.7,460.6L2057.1,459.0L2058.6,458.2L2060.0,458.1L2061.4,456.8L2062.8,455.3L2064.2,453.0L2065.6,453.9L2066.9,452.1L2068.3,453.7L2069.6,454.4L2070.8,456.4L2072.1,457.0L2073.3,457.0L2074.6,460.1L2075.9,460.5L2077.5,460.7L2079.1,459.9L2080.8,461.8L2082.3,461.1L2083.8,461.4L2085.1,461.4L2086.4,460.2L2087.6,457.1L2088.7,457.2L2089.6,454.8L2090.5,453.7L2090.9,451.7L2091.2,450.6L2091.5,449.2L2091.7,447.1L2091.8,446.0L2091.9,445.4L2092.0,442.3L2092.0,440.7L2092.0,440.6L2092.1,438.6L2092.1,436.6L2092.2,434.0L2092.3,432.4L2092.4,431.2L2092.6,431.1L2092.8,428.8L2093.1,427.9L2093.5,424.4L2093.9,422.9L2094.4,421.1L2094.9,419.8L2095.3,416.3L2095.8,416.2L2096.3,413.7L2096.8,411.4L2097.3,411.2L2097.8,410.5L2098.2,410.9L2098.6,411.7L2099.0,411.4L2099.5,412.9L2099.9,413.6L2100.3,416.0L2100.7,416.3L2101.1,419.7L2101.5,420.4L2101.8,423.3L2102.2,424.5L2102.6,426.7L2102.9,428.0L2103.2,429.9L2103.5,432.1L2103.7,433.8L2104.0,435.4L2104.2,437.8L2104.4,440.3L2104.7,441.2L2104.9,443.6L2105.1,445.1L2105.3,447.8L2105.5,447.8L2105.7,449.8L2106.0,449.7L2106.2,450.3L2106.4,451.5L2106.6,451.0L2106.8,449.8L2107.0,448.5L2107.2,449.1L2107.4,446.8L2107.6,446.1L2107.7,443.8L2107.9,442.3L2108.1,440.3L2108.3,439.1L2108.5,436.9L2108.7,433.8L2108.9,431.8L2109.1,429.2L2109.3,428.4L2109.5,425.2L2109.8,423.9L2110.0,423.6L2110.3,420.1L2110.6,419.8L2110.9,417.6L2111.2,415.6L2111.5,413.2L2111.9,410.9L2112.2,410.8L2112.5,408.6L2112.9,407.2L2113.3,404.2L2113.6,404.6L2114.0,402.4L2114.3,401.8L2114.7,402.4L2115.2,402.8L2115.6,402.4L2116.1,405.0L2116.6,406.0L2117.1,408.4L2117.6,410.4L2118.1,411.8L2118.6,413.0L2119.0,416.2L2119.4,417.5L2119.7,417.9L2120.0,420.6L2120.2,421.9L2120.5,422.4L2120.7,423.9L2120.9,425.0L2121.1,427.8L2121.3,428.8L2121.5,430.5L2121.7,432.0L2121.9,433.4L2122.1,435.8L2122.4,436.9L2122.6,438.4L2122.9,439.9L2123.2,442.2L2123.5,444.8L2123.8,445.2L2124.1,448.7L2124.3,450.7L2124.6,452.1L2125.0,453.7L2125.4,455.8L2125.8,456.7L2126.3,458.2L2126.9,459.6L2127.6,459.8L2128.7,458.6L2130.0,457.3L2131.5,458.0L2132.9,455.4L2134.4,455.4L2135.8,453.9L2137.0,454.9L2138.2,455.9L2139.4,458.2L2140.6,460.4L2141.8,461.1L2143.0,462.7L2144.1,463.3L2145.2,463.4L2146.5,464.7L2147.7,462.0L2149.0,462.6L2150.1,460.5L2151.2,457.6L2152.2,457.9L2152.9,454.8L2153.4,454.4L2153.9,451.8L2154.3,452.1L2154.7,448.9L2155.1,448.4L2155.5,445.0L2156.0,444.8L2156.5,442.0L2157.3,440.1L2158.1,439.3L2159.0,438.3L2159.8,436.0L2160.7,435.2L2161.6,434.6L2162.3,434.4L2162.9,434.2L2163.6,436.4L2164.3,437.1L2164.9,439.6L2165.6,441.0L2166.3,443.1L2166.9,444.2L2167.5,446.8L2168.1,447.6L2168.6,449.4L2169.0,450.1L2169.4,452.6L2169.9,454.3L2170.5,456.6L2171.3,456.8L2172.2,456.7L2173.6,457.6L2175.2,458.0L2177.0,458.8L2178.9,459.1L2180.8,458.9L2182.5,458.4L2184.0,457.8L2185.7,456.9L2187.3,456.2L2188.6,452.9L2189.8,452.2L2190.2,451.5L2190.5,450.7L2190.7,449.4L2190.9,448.2L2191.1,447.5L2191.2,444.2L2191.3,443.6L2191.3,443.0L2191.3,439.3L2191.3,437.7L2191.3,437.6L2191.3,436.0L2191.3,432.2L2191.2,430.4L2191.2,430.4L2191.2,428.3L2191.3,426.2L2191.3,424.6L2191.4,423.4L2191.5,421.9L2191.6,418.6L2191.8,417.4L2192.1,417.6L2192.5,416.2L2193.0,414.0L2193.6,411.0L2194.2,408.9L2194.8,407.0L2195.4,404.4L2196.1,404.3L2196.8,401.7L2197.4,401.2L2198.0,400.1L2198.6,399.1L2199.2,399.7L2199.6,399.4L2200.0,399.4L2200.4,401.5L2200.8,400.9L2201.2,402.0L2201.5,403.5L2201.9,405.5L2202.3,407.8L2202.7,408.6L2203.0,410.2L2203.4,413.0L2203.7,414.1L2204.0,416.6L2204.4,418.0L2204.7,421.3L2205.0,421.6L2205.3,423.5L2205.6,425.3L2205.9,426.9L2206.2,429.2L2206.6,430.9L2206.9,433.1L2207.2,434.6L2207.5,435.7L2207.8,439.3L2208.1,440.1L2208.3,441.9L2208.6,444.0L2208.9,446.6L2209.2,446.3L2209.5,446.9L2209.8,448.4L2210.2,448.2L2210.6,445.8L2211.0,443.8L2211.4,443.3L2211.8,441.2L2212.2,438.1L2212.7,437.0L2213.3,434.3L2213.9,432.5L2214.5,431.4L2215.2,429.8L2216.0,427.3L2216.7,426.2L2217.5,422.9L2218.2,422.7L2219.0,421.6L2219.7,420.6L2220.2,422.7L2220.7,421.6L2221.2,422.6L2221.7,425.2L2222.2,426.8L2222.6,428.3L2223.1,428.7L2223.6,431.8L2224.1,431.9L2224.6,435.1L2225.1,437.4L2225.6,437.6L2226.2,439.1L2226.8,441.8L2227.4,443.6L2228.1,444.8L2228.9,446.8L2229.6,447.2L2230.4,448.5L2231.2,449.3L2232.1,451.1L2232.9,453.8L2233.8,453.1L2234.8,454.4L2235.8,455.8L2236.8,455.9L2238.3,457.2L2240.0,457.4L2241.8,457.5L2243.6,458.5L2245.4,458.7L2247.0,459.0L2248.5,459.8L2250.1,460.1L2251.4,462.1L2252.8,461.2L2254.4,462.2L2255.8,462.1L2257.4,462.7L2259.0,463.6L2260.7,463.8L2262.5,462.8L2264.3,462.0L2266.1,462.4L2267.5,463.2L2269.0,462.9L2270.5,464.3L2272.0,465.2L2273.5,464.5L2275.1,465.3L2276.6,466.2L2278.2,465.7L2279.7,465.4L2281.2,467.2L2282.6,467.4L2284.3,465.1L2285.9,466.3L2287.5,465.0L2289.0,463.7L2290.6,463.3L2292.2,462.8L2293.8,463.6L2295.5,462.2L2297.0,461.6L2298.6,462.1L2300.2,463.4L2301.9,462.9L2303.6,463.4L2305.3,463.2L2307.0,462.7L2308.6,462.6L2310.2,463.4L2311.6,462.9L2313.0,463.5L2314.9,464.3L2316.5,463.8L2318.1,464.0L2319.7,464.3L2321.3,464.0"/>
<path stroke="#c279e4" d="M178.2,923.4L179.7,924.5L181.2,922.7L182.7,922.5L184.2,924.7L185.7,923.0L187.2,922.9L188.7,924.2L190.1,923.5L191.6,924.8L193.1,923.4L194.6,925.1L196.1,923.7L197.5,924.4L199.0,925.2L200.5,924.7L202.0,925.3L203.4,924.9L204.9,923.5L206.4,925.4L207.9,924.8L209.4,924.3L210.9,924.1L212.3,925.6L213.8,925.1L215.3,925.9L216.8,925.6L218.4,926.1L219.9,925.3L221.4,925.6L222.9,925.5L224.5,924.7L226.0,926.3L227.5,925.0L229.1,926.0L230.7,926.5L232.2,925.9L233.8,924.8L235.4,926.3L237.0,926.0L238.6,925.0L240.0,924.7L241.5,925.8L242.9,924.8L244.4,926.8L245.9,925.9L247.4,925.9L248.9,925.7L250.4,926.3L251.9,926.9L253.5,925.6L255.0,925.7L256.6,926.2L258.2,925.6L259.7,926.3L261.3,926.2L262.9,926.0L264.5,926.5L266.1,926.2L267.7,925.3L269.3,927.3L270.9,925.9L272.5,926.1L274.1,926.0L275.7,927.2L277.3,927.3L278.9,926.3L280.5,926.1L282.1,925.4L283.7,927.2L285.3,925.6L286.8,926.4L288.4,926.0L290.0,926.0L291.6,926.1L293.1,925.7L294.7,925.4L296.2,926.5L297.8,927.1L299.3,926.8L300.8,925.8L302.3,926.9L303.8,925.5L305.3,926.3L306.8,927.2L308.2,927.4L309.7,926.4L311.1,927.3L312.5,926.5L313.9,926.6L315.3,926.8L316.7,927.7L318.0,927.1L319.7,926.6L321.4,927.1L323.1,927.0L324.8,926.3L326.5,927.3L328.2,927.4L329.8,927.0L331.4,927.7L333.1,925.7L334.7,926.7L336.2,927.1L337.8,926.4L339.4,926.1L341.0,927.2L342.5,926.7L344.0,926.3L345.5,925.8L347.1,927.9L348.6,926.5L350.0,926.0L351.5,926.3L353.0,926.4L354.5,927.7L355.9,926.3L357.3,926.5L358.8,926.1L360.2,927.0L361.6,926.4L363.0,926.8L364.4,927.7L365.8,928.1L367.4,928.0L369.1,926.3L370.6,927.1L372.2,928.2L373.7,926.5L375.2,926.9L376.6,927.6L378.1,927.4L379.5,928.3L381.0,928.3L382.4,927.8L383.9,927.4L385.3,927.5L386.8,927.6L388.2,927.3L389.7,928.7L391.2,927.6L392.8,929.3L394.3,928.9L396.0,927.7L397.6,928.8L399.0,929.1L400.4,928.0L401.8,929.1L403.3,928.2L404.7,930.0L406.2,928.4L407.7,929.9L409.2,930.9L410.7,930.7L412.3,929.5L413.8,930.3L415.4,929.6L416.9,930.2L418.5,931.5L420.1,931.6L421.6,930.0L423.2,931.0L424.8,931.7L426.4,930.8L428.0,932.3L429.6,932.7L431.2,932.0L432.8,931.7L434.3,932.9L435.9,932.3L437.5,931.7L439.1,931.9L440.6,931.7L442.2,933.3L443.8,932.6L445.3,933.0L446.8,933.3L448.4,933.7L450.0,931.9L451.5,932.4L453.1,933.4L454.7,933.1L456.3,932.3L457.9,932.8L459.4,931.7L461.0,931.6L462.6,931.3L464.2,931.9L465.8,931.5L467.4,932.1L469.0,933.0L470.6,931.1L472.1,931.9L473.7,932.4L475.3,931.7L476.8,931.5L478.3,931.9L479.9,930.1L481.4,932.0L482.9,931.3L484.4,931.4L485.9,931.3L487.3,929.6L488.8,929.3L490.2,929.4L491.6,930.0L493.0,930.8L494.7,930.5L496.3,929.2L497.9,929.4L499.5,929.4L501.0,928.2L502.6,929.4L504.1,929.0L505.6,928.3L507.1,928.4L508.6,927.8L510.0,927.2L511.5,926.2L513.0,925.8L514.4,925.4L515.9,924.7L517.4,926.3L518.8,924.6L520.3,923.8L521.8,924.1L523.3,923.4L524.8,923.9L526.3,923.4L527.8,922.8L529.2,923.2L530.7,922.8L532.1,922.4L533.6,923.2L535.0,921.8L536.4,922.1L537.8,922.6L539.3,922.5L540.7,921.0L542.2,920.0L543.7,921.8L545.2,920.6L546.7,919.8L548.3,919.4L549.8,919.4L551.5,919.4L553.1,918.8L554.8,918.5L556.6,920.4L557.9,919.9L559.2,918.2L560.5,919.0L561.9,919.6L563.3,918.8L564.7,917.8L566.2,918.3L567.7,918.3L569.2,919.4L570.7,918.7L572.2,918.3L573.8,918.6L575.4,917.3L577.0,918.7L578.6,918.9L580.2,918.6L581.8,917.8L583.5,917.6L585.1,917.0L586.7,917.1L588.4,917.3L590.0,917.9L591.7,918.6L593.3,917.3L594.9,917.9L596.6,918.2L598.2,918.2L599.8,916.8L601.4,918.8L603.0,918.0L604.5,917.4L606.1,917.3L607.6,918.2L609.1,918.8L610.6,917.4L612.1,917.6L613.5,917.9L614.9,917.0L616.3,917.5L617.6,918.6L618.9,917.8L620.2,918.4L622.0,917.2L623.7,918.5L625.4,918.3L627.1,917.1L628.8,917.8L630.4,918.2L632.0,918.0L633.6,918.1L635.2,917.3L636.7,918.1L638.2,917.7L639.7,918.7L641.2,917.8L642.6,919.1L644.0,918.2L645.4,917.4L646.8,917.8L648.1,917.1L649.4,918.4L650.7,916.8L652.0,917.9L653.8,917.1L655.6,917.9L657.2,916.3L658.9,917.2L660.4,917.0L661.9,915.7L663.4,915.1L664.9,915.2L666.5,915.4L668.0,914.0L669.4,912.8L670.8,913.1L672.2,913.1L673.5,910.8L674.9,911.6L676.2,909.8L677.6,908.1L679.0,907.2L680.5,907.0L682.1,906.5L683.8,905.3L685.0,904.7L686.4,905.4L687.7,904.6L689.1,904.7L690.5,904.5L692.0,904.9L693.5,904.5L695.0,903.6L696.6,903.4L698.1,904.8L699.7,902.9L701.3,903.0L702.9,902.9L704.5,904.5L706.2,903.8L707.8,904.7L709.4,904.0L710.9,903.4L712.5,903.6L714.1,904.2L715.6,903.1L717.1,904.4L718.6,903.5L720.1,902.8L721.7,903.5L723.2,904.1L724.7,903.3L726.2,905.1L727.7,905.3L729.2,904.5L730.7,905.6L732.3,905.2L733.8,905.0L735.3,904.4L736.8,906.2L738.3,906.3L739.8,905.3L741.3,905.3L742.9,904.7L744.4,905.9L745.9,906.4L747.4,905.4L748.9,905.1L750.5,905.7L752.1,906.0L753.7,904.6L755.4,904.7L757.0,905.4L758.7,903.9L760.3,905.5L761.9,904.2L763.6,905.2L765.2,904.2L766.8,903.3L768.4,902.8L769.9,902.8L771.4,902.9L772.8,903.7L774.2,903.6L775.6,902.9L776.9,902.0L778.1,902.5L779.2,902.3L781.1,900.9L782.7,899.7L784.2,899.9L785.6,898.7L787.0,897.9L788.4,897.6L790.0,896.1L791.4,897.2L792.8,895.2L794.3,895.8L795.7,894.8L797.2,892.4L798.7,893.6L800.2,892.5L801.6,891.0L803.0,890.9L804.4,889.0L805.6,887.0L806.7,886.3L807.9,885.6L809.0,885.8L810.2,884.6L811.3,881.9L812.4,881.2L813.5,879.5L814.5,878.5L815.5,877.5L816.4,876.4L817.2,874.5L818.0,874.3L818.7,872.1L819.3,872.2L819.9,869.9L820.3,868.4L820.8,867.8L821.2,865.4L821.5,863.8L821.9,862.0L822.2,860.8L822.5,859.1L822.8,858.7L823.2,856.2L823.5,855.6L823.8,853.3L824.0,851.5L824.3,850.6L824.5,849.4L824.8,849.0L825.0,846.0L825.3,844.5L825.5,842.9L825.7,841.6L825.9,841.6L826.1,840.0L826.3,836.8L826.5,834.8L826.7,834.2L826.9,832.8L827.1,830.1L827.3,829.1L827.5,828.2L827.7,825.1L827.8,825.3L828.0,823.7L828.1,822.5L828.3,820.4L828.4,818.8L828.5,817.4L828.7,815.1L828.8,814.4L828.9,812.2L829.0,810.8L829.2,808.7L829.3,807.3L829.4,805.5L829.5,805.0L829.7,802.7L829.8,801.8L829.9,800.1L830.0,797.9L830.1,796.1L830.2,795.5L830.4,794.1L830.5,792.6L830.6,790.6L830.7,789.2L830.8,786.4L831.0,785.4L831.1,785.0L831.2,782.5L831.4,780.3L831.5,779.5L831.6,778.8L831.8,775.7L831.9,774.2L832.0,773.5L832.1,772.7L832.3,770.1L832.4,768.3L832.5,767.9L832.7,764.9L832.8,763.7L832.9,762.9L833.1,761.9L833.2,760.4L833.3,757.6L833.5,756.0L833.6,754.6L833.7,752.5L833.8,751.3L834.0,750.9L834.1,749.8L834.2,746.7L834.3,744.7L834.5,744.6L834.6,743.6L834.7,741.6L834.8,739.3L834.9,738.4L835.0,736.9L835.2,735.3L835.3,733.1L835.4,732.7L835.5,730.6L835.6,727.8L835.7,726.6L835.8,724.3L836.0,723.3L836.1,722.7L836.2,720.4L836.3,718.9L836.4,717.8L836.5,714.7L836.6,713.8L836.7,712.5L836.8,711.0L836.9,709.8L837.0,708.9L837.1,707.1L837.2,705.0L837.3,703.8L837.3,702.0L837.4,701.6L837.5,699.3L837.6,697.9L837.7,695.8L837.8,694.2L837.9,693.4L837.9,691.0L838.0,690.6L838.1,688.7L838.2,687.7L838.2,685.6L838.3,683.8L838.4,681.9L838.4,679.7L838.5,679.6L838.6,678.4L838.6,676.8L838.7,675.4L838.8,672.4L838.9,672.3L838.9,669.9L839.0,668.7L839.1,668.2L839.2,665.7L839.2,664.3L839.3,661.9L839.4,660.7L839.5,659.3L839.5,657.8L839.6,657.0L839.7,654.5L839.8,653.1L839.9,651.6L839.9,651.5L840.0,650.5L840.1,648.5L840.2,646.4L840.3,644.0L840.3,643.9L840.4,640.8L840.5,639.1L840.6,638.6L840.6,637.9L840.7,635.2L840.8,635.0L840.9,632.3L840.9,632.2L841.0,630.2L841.1,628.9L841.1,627.6L841.2,625.7L841.3,622.7L841.4,621.9L841.4,620.3L841.5,619.1L841.6,616.5L841.7,615.7L841.7,613.4L841.8,611.6L841.9,610.6L842.0,609.8L842.1,607.7L842.2,605.8L842.2,603.9L842.3,602.7L842.4,601.3L842.5,599.5L842.6,598.0L842.7,596.2L842.8,594.8L842.9,594.0L843.0,592.3L843.1,590.7L843.2,589.7L843.3,587.6L843.4,584.8L843.5,583.8L843.6,582.5L843.7,581.4L843.8,579.4L843.9,576.8L844.0,576.2L844.1,575.1L844.3,573.9L844.4,571.7L844.5,569.7L844.6,567.9L844.7,567.6L844.9,566.8L845.0,564.1L845.2,563.3L845.4,561.7L845.5,560.0L845.7,557.6L845.9,555.7L846.1,553.9L846.3,553.1L846.5,552.9L846.7,550.5L847.0,550.4L847.2,548.8L847.5,547.2L848.1,544.8L848.7,543.2L849.4,542.3L850.0,540.6L850.7,540.9L851.3,544.2L851.9,545.8L852.5,547.7L852.7,548.8L852.9,549.2L853.0,551.4L853.2,553.2L853.3,553.9L853.4,555.7L853.5,557.2L853.6,557.9L853.7,560.1L853.8,562.4L853.9,563.5L853.9,564.0L854.0,566.7L854.1,568.4L854.1,570.4L854.2,571.9L854.2,574.1L854.3,576.0L854.4,576.0L854.4,578.3L854.5,579.0L854.6,582.5L854.6,581.9L854.7,584.0L854.7,585.9L854.8,587.0L854.8,587.9L854.9,590.1L854.9,591.0L855.0,593.1L855.0,595.1L855.0,595.7L855.1,597.6L855.1,599.5L855.1,600.9L855.2,603.0L855.2,604.7L855.3,606.5L855.3,606.3L855.3,608.5L855.4,609.2L855.4,612.1L855.4,612.9L855.5,615.5L855.5,616.2L855.5,618.4L855.6,618.2L855.6,620.9L855.6,621.9L855.7,624.3L855.7,624.1L855.7,625.7L855.8,628.8L855.8,629.8L855.9,631.9L855.9,633.8L855.9,637.0L856.0,638.2L856.0,640.7L856.0,642.7L856.0,644.7L856.1,645.7L856.1,647.3L856.1,649.6L856.2,652.2L856.2,653.8L856.3,654.4L856.3,656.8L856.3,657.7L856.4,657.3L856.4,659.5L856.5,660.6L856.6,659.5L856.6,660.6L856.7,661.3L856.8,660.8L856.9,660.3L857.0,658.5L857.2,657.7L857.3,657.7L857.4,655.0L857.6,653.5L857.7,651.9L857.8,649.2L858.0,647.5L858.1,645.7L858.3,644.5L858.4,642.6L858.5,639.3L858.6,638.7L858.7,637.9L858.8,636.8L858.8,634.5L858.9,633.3L859.0,631.8L859.1,630.3L859.2,629.2L859.3,627.9L859.3,626.3L859.4,622.7L859.5,622.4L859.6,620.1L859.7,618.2L859.7,616.2L859.8,616.3L859.9,614.6L860.0,612.2L860.0,610.5L860.1,608.3L860.2,608.3L860.2,606.4L860.3,603.6L860.4,603.0L860.4,602.5L860.5,599.5L860.6,598.1L860.6,596.5L860.7,595.0L860.8,592.9L860.8,592.6L860.9,590.3L861.0,589.8L861.0,587.9L861.1,587.3L861.1,585.7L861.2,584.5L861.3,581.5L861.3,581.5L861.4,579.9L861.4,577.3L861.5,575.1L861.5,573.8L861.6,573.6L861.6,572.7L861.7,569.3L861.7,568.2L861.8,567.1L861.8,564.9L861.9,564.7L861.9,563.7L862.0,562.1L862.0,559.1L862.1,559.1L862.1,557.3L862.2,554.3L862.2,554.3L862.3,552.9L862.3,551.2L862.4,549.3L862.4,547.8L862.5,545.6L862.5,542.9L862.6,542.7L862.6,540.8L862.7,538.4L862.7,536.8L862.8,536.9L862.8,535.4L862.9,532.0L862.9,530.4L863.0,530.4L863.1,527.9L863.1,527.6L863.2,525.1L863.3,524.1L863.3,521.1L863.4,521.1L863.5,518.3L863.6,517.2L863.6,515.8L863.7,513.9L863.8,512.2L863.9,511.1L863.9,508.7L864.0,507.4L864.1,505.8L864.2,505.9L864.2,503.1L864.3,503.1L864.4,501.4L864.4,498.3L864.5,498.3L864.6,497.1L864.6,494.4L864.7,493.0L864.8,491.9L864.8,489.9L864.9,487.9L864.9,487.5L865.0,484.9L865.0,483.8L865.1,481.5L865.1,480.8L865.1,480.4L865.2,477.5L865.2,476.1L865.3,475.1L865.3,473.4L865.4,471.3L865.4,470.0L865.5,468.8L865.5,468.6L865.6,467.0L865.6,465.5L865.7,463.7L865.7,462.7L865.8,459.5L865.9,459.1L865.9,457.1L866.0,456.8L866.0,454.2L866.1,453.3L866.2,451.9L866.2,450.7L866.3,448.7L866.4,446.2L866.5,445.3L866.5,444.0L866.6,442.7L866.7,439.5L866.8,439.0L866.8,437.3L866.9,434.4L867.0,432.7L867.1,432.1L867.2,430.5L867.3,428.3L867.3,427.4L867.4,424.8L867.5,424.2L867.6,422.5L867.7,421.7L867.7,419.9L867.8,417.1L867.9,416.7L868.0,414.4L868.1,413.9L868.1,412.9L868.2,411.7L868.3,408.9L868.4,408.2L868.5,405.6L868.6,404.6L868.8,402.8L868.9,401.1L869.0,400.1L869.1,397.5L869.2,396.4L869.3,394.4L869.5,392.8L869.6,392.3L869.7,389.9L869.9,390.0L870.0,387.7L870.2,385.2L870.5,384.6L870.7,380.8L870.9,379.5L871.2,378.8L871.4,376.3L871.7,377.4L872.0,377.5L872.2,379.5L872.5,379.6L872.8,382.6L873.0,385.0L873.3,386.0L873.5,387.1L873.6,389.0L873.8,391.4L873.9,390.9L874.0,393.8L874.1,395.0L874.2,397.0L874.2,397.7L874.3,400.5L874.4,400.3L874.5,402.7L874.5,404.1L874.6,406.5L874.7,407.5L874.8,409.8L874.9,411.1L874.9,413.4L875.0,412.7L875.0,414.6L875.1,415.7L875.1,418.3L875.2,419.9L875.3,419.6L875.3,422.8L875.4,424.5L875.4,425.1L875.5,426.9L875.5,428.9L875.6,430.7L875.6,430.8L875.7,433.4L875.7,433.6L875.8,435.8L875.9,438.6L875.9,439.6L876.0,441.0L876.0,442.5L876.1,444.1L876.1,444.8L876.2,447.6L876.3,450.0L876.3,449.8L876.4,451.2L876.4,454.1L876.5,456.1L876.6,456.8L876.6,457.6L876.7,460.3L876.8,461.9L876.8,462.4L876.9,465.2L877.0,466.2L877.0,468.2L877.1,468.5L877.2,470.3L877.3,472.5L877.3,474.0L877.4,475.9L877.5,477.6L877.6,478.7L877.6,478.6L877.7,481.1L877.8,483.1L877.9,484.9L877.9,485.4L878.0,486.3L878.1,489.0L878.2,489.6L878.2,491.9L878.3,492.7L878.4,495.7L878.5,495.3L878.6,498.0L878.6,500.2L878.7,501.2L878.8,501.6L878.9,504.0L879.0,506.2L879.0,507.3L879.1,509.4L879.2,510.7L879.3,511.3L879.4,512.2L879.4,515.0L879.5,516.1L879.6,518.4L879.7,519.1L879.8,521.3L879.9,521.6L879.9,524.5L880.0,526.4L880.1,527.8L880.2,529.3L880.3,530.7L880.4,531.1L880.5,533.1L880.6,534.5L880.6,536.1L880.7,538.3L880.8,539.4L880.9,541.6L881.0,543.6L881.1,545.4L881.2,544.7L881.2,547.5L881.3,548.9L881.4,550.1L881.5,552.2L881.6,554.0L881.7,554.0L881.8,556.2L881.8,556.6L881.9,558.5L882.0,559.7L882.1,562.4L882.2,564.2L882.3,565.8L882.4,566.6L882.5,568.6L882.6,570.0L882.7,571.3L882.8,571.9L882.9,573.7L883.0,576.7L883.1,577.3L883.2,577.7L883.3,579.7L883.4,580.6L883.5,582.0L883.6,584.0L883.7,585.3L883.8,586.1L883.9,588.6L884.0,590.9L884.1,591.5L884.2,593.0L884.3,594.6L884.5,595.9L884.6,597.6L884.7,598.9L884.8,601.0L884.9,603.6L885.0,604.0L885.2,606.6L885.3,607.3L885.4,609.2L885.6,610.4L885.7,611.7L885.8,614.3L886.0,615.2L886.2,615.9L886.3,617.8L886.5,619.6L886.7,621.5L886.9,622.8L887.1,624.1L887.3,625.8L887.5,628.9L887.7,629.9L887.9,631.7L888.1,633.3L888.3,633.1L888.5,635.4L888.8,637.2L889.0,638.0L889.3,639.8L889.6,641.8L889.9,643.6L890.2,644.2L890.5,645.5L890.9,647.4L891.4,648.0L892.0,649.6L894.0,650.7L896.0,651.1L896.7,651.7L897.3,649.6L897.8,649.2L898.2,646.8L898.7,645.8L899.1,643.3L899.5,642.3L900.0,639.8L900.7,637.7L901.4,636.6L902.1,634.4L902.7,633.1L903.1,634.5L903.5,635.0L903.9,636.2L904.2,636.5L904.6,640.2L904.9,640.4L905.2,642.2L905.5,644.6L905.7,645.7L905.9,647.2L906.0,649.3L906.1,650.8L906.3,652.8L906.4,654.8L906.5,656.1L906.6,658.1L906.6,658.7L906.7,659.7L906.8,662.5L906.9,664.6L907.0,664.3L907.1,667.0L907.2,668.4L907.3,671.7L907.4,671.6L907.5,674.5L907.5,675.9L907.6,677.5L907.7,679.5L907.9,678.6L908.0,679.5L908.2,680.8L908.3,678.9L908.5,676.8L908.7,676.6L908.9,675.0L909.1,673.7L909.3,671.6L909.6,669.7L909.8,666.3L910.0,664.6L910.2,664.0L910.3,661.8L910.5,660.3L910.6,658.0L910.8,656.7L911.0,654.9L911.1,653.7L911.3,652.7L911.4,650.0L911.6,648.5L911.8,646.4L912.0,645.5L912.2,644.4L912.5,642.9L912.7,641.6L913.0,640.1L913.4,638.6L913.8,636.9L914.3,635.2L914.7,631.6L915.2,632.1L915.8,629.7L916.4,629.8L917.0,628.6L918.5,627.4L920.0,627.0L920.5,627.7L920.9,630.1L921.2,629.6L921.4,631.1L921.6,634.1L921.8,635.6L921.9,637.6L922.1,638.2L922.2,642.1L922.3,643.6L922.5,643.9L922.6,646.3L922.7,647.0L922.8,648.1L922.9,650.2L923.0,652.4L923.1,651.7L923.2,654.9L923.2,656.6L923.3,656.3L923.4,659.6L923.5,659.2L923.5,661.5L923.6,662.4L923.7,664.4L923.7,666.0L923.8,668.5L923.8,669.8L923.9,672.6L924.0,673.8L924.0,673.9L924.1,675.5L924.1,677.6L924.2,680.4L924.2,681.9L924.3,683.5L924.3,685.1L924.4,686.3L924.4,687.3L924.5,689.4L924.5,690.7L924.6,692.3L924.6,694.1L924.7,694.9L924.7,695.5L924.7,698.2L924.8,699.8L924.8,701.9L924.8,702.9L924.9,704.7L924.9,706.2L924.9,706.4L925.0,709.1L925.0,709.8L925.0,710.9L925.1,712.4L925.1,714.0L925.2,715.3L925.2,717.5L925.2,717.9L925.3,719.9L925.4,721.8L925.4,724.0L925.5,724.9L925.5,726.0L925.6,727.1L925.6,729.2L925.7,731.2L925.8,730.7L925.8,733.0L925.9,734.2L926.0,736.8L926.0,738.1L926.1,738.1L926.2,741.6L926.3,742.0L926.3,742.9L926.4,744.4L926.5,745.8L926.5,747.8L926.6,749.0L926.6,751.9L926.7,752.2L926.8,754.3L926.8,756.3L926.8,757.4L926.9,758.6L926.9,760.5L926.9,762.0L927.0,763.9L927.0,765.5L927.0,766.5L927.0,768.9L927.1,770.8L927.1,772.7L927.1,773.5L927.2,774.4L927.2,775.3L927.2,777.9L927.3,780.7L927.3,782.2L927.4,783.2L927.4,783.6L927.5,785.1L927.6,786.5L927.7,788.6L927.8,791.2L927.9,791.0L928.0,793.7L928.1,794.8L928.3,795.8L928.4,797.8L928.6,798.6L928.8,801.5L928.9,803.7L929.1,804.0L929.3,807.0L929.5,807.0L929.7,808.7L929.9,811.0L930.1,811.4L930.4,812.4L930.7,814.8L931.0,816.2L931.3,816.8L931.6,818.1L932.0,819.1L932.6,821.0L933.3,822.5L934.0,825.1L934.7,827.0L935.5,827.7L936.3,828.3L937.1,830.3L937.9,832.6L938.7,832.7L939.5,834.9L940.2,834.7L941.0,837.7L941.8,839.3L942.6,840.0L943.4,842.1L944.2,842.8L945.0,844.6L945.8,845.3L946.7,846.4L947.6,847.6L948.5,849.6L949.3,851.4L950.2,851.1L951.2,853.9L952.1,853.8L953.0,856.5L954.0,858.0L955.0,859.7L956.0,860.3L957.0,861.5L958.0,862.8L959.0,864.0L960.1,865.2L961.1,866.3L962.2,867.8L963.3,867.7L964.4,870.0L965.6,869.2L966.7,869.7L968.2,870.6L969.7,872.6L971.2,874.0L972.7,873.0L974.3,875.2L975.8,874.6L977.3,875.1L978.9,873.7L980.5,875.0L982.0,873.1L983.6,871.7L985.1,871.7L986.7,869.7L988.3,870.3L989.8,869.9L991.4,867.5L992.9,867.1L994.5,866.8L996.0,866.6L997.2,868.0L998.4,869.3L999.5,869.7L1000.6,871.6L1001.8,873.5L1002.9,874.7L1004.1,875.1L1005.4,877.4L1006.7,876.6L1008.2,878.6L1009.8,877.3L1011.4,878.1L1013.1,877.7L1014.8,878.8L1016.5,877.8L1018.3,878.9L1020.0,878.0L1021.5,879.1L1023.1,878.7L1024.7,878.3L1026.3,877.8L1027.9,879.1L1029.5,877.8L1031.1,878.1L1032.8,879.4L1034.4,879.4L1036.0,879.2L1037.6,879.3L1039.2,880.1L1040.8,880.6L1042.5,881.1L1044.1,881.4L1045.8,881.3L1047.4,882.5L1048.9,882.2L1050.5,883.0L1051.9,882.1L1053.3,882.5L1055.0,883.7L1056.6,882.1L1058.1,881.8L1059.6,883.1L1061.1,882.9L1062.7,883.0L1064.1,882.8L1065.6,882.1L1067.1,883.2L1068.6,883.6L1070.1,883.2L1071.7,883.8L1073.2,885.2L1074.6,885.1L1076.0,885.5L1077.7,885.9L1079.4,883.3L1081.0,882.7L1082.5,883.7L1084.0,881.3L1085.3,881.7L1087.0,882.8L1088.4,883.5L1090.0,885.1L1091.2,885.5L1092.4,887.9L1093.8,887.6L1095.2,889.7L1096.7,890.1L1098.3,891.1L1100.0,891.1L1101.2,893.4L1102.4,891.9L1103.7,894.2L1105.0,892.8L1106.4,894.0L1107.9,894.5L1109.3,895.3L1110.8,894.9L1112.3,896.9L1113.9,895.8L1115.5,895.9L1117.0,897.4L1118.6,897.7L1120.2,898.0L1121.8,899.2L1123.1,899.4L1124.5,898.6L1125.8,900.4L1127.2,900.8L1128.6,899.5L1130.0,901.0L1131.5,902.3L1132.9,901.8L1134.4,902.2L1135.8,903.1L1137.3,904.4L1138.8,903.1L1140.3,905.0L1141.7,905.6L1143.2,906.6L1144.7,906.3L1146.2,905.9L1147.7,907.1L1149.2,907.5L1150.7,906.5L1152.1,908.2L1153.6,907.9L1155.1,908.0L1156.6,908.2L1158.1,908.1L1159.5,907.0L1161.0,906.9L1162.5,906.4L1163.9,907.0L1165.4,906.5L1166.8,907.1L1168.3,905.8L1169.8,905.6L1171.3,906.2L1172.8,906.5L1174.3,905.6L1175.8,904.4L1177.4,906.1L1178.9,905.1L1180.5,905.7L1182.1,905.2L1183.7,905.4L1185.4,905.2L1186.8,905.0L1188.2,905.3L1189.7,904.9L1191.2,905.5L1192.7,905.4L1194.2,903.8L1195.7,904.6L1197.3,905.6L1198.8,905.1L1200.4,905.1L1202.0,904.7L1203.6,904.1L1205.2,904.9L1206.8,904.1L1208.5,904.6L1210.1,905.3L1211.7,905.4L1213.3,906.0L1214.9,906.0L1216.5,906.5L1218.1,906.2L1219.7,906.9L1221.3,905.4L1222.8,906.5L1224.3,907.7L1225.9,907.4L1227.4,907.8L1228.8,908.2L1230.3,906.6L1231.7,907.5L1233.1,908.5L1234.8,907.5L1236.4,908.2L1238.0,907.8L1239.6,907.8L1241.2,910.0L1242.8,909.9L1244.3,910.4L1245.9,911.0L1247.4,910.6L1248.9,911.6L1250.4,911.8L1251.9,911.4L1253.3,911.8L1254.8,911.5L1256.3,912.3L1257.7,913.4L1259.2,911.9L1260.6,914.1L1262.0,912.6L1263.5,913.3L1264.9,913.0L1266.5,912.4L1268.0,913.6L1269.5,912.5L1271.0,912.8L1272.5,913.5L1274.0,912.4L1275.5,911.9L1276.9,911.2L1278.4,910.6L1279.9,912.1L1281.3,911.1L1282.8,910.4L1284.3,911.2L1285.8,910.5L1287.3,909.7L1288.8,911.2L1290.3,910.0L1291.8,909.9L1293.3,911.4L1294.8,910.4L1296.3,910.7L1297.8,911.8L1299.3,911.6L1300.8,911.1L1302.4,911.0L1303.9,911.4L1305.4,911.9L1307.0,913.5L1308.5,913.1L1310.0,913.7L1311.5,913.5L1313.0,913.2L1314.5,915.5L1316.0,914.9L1317.5,915.1L1319.0,915.0L1320.5,913.7L1322.1,915.3L1323.6,915.2L1325.1,913.5L1326.6,914.6L1328.1,914.6L1329.6,912.5L1331.1,913.7L1332.6,911.5L1334.0,912.7L1335.5,912.9L1337.0,910.7L1338.5,911.2L1340.0,910.0L1341.4,911.0L1342.9,909.9L1344.4,910.9L1345.9,910.3L1347.4,910.5L1348.9,911.8L1350.4,911.1L1351.9,911.3L1353.4,912.0L1355.0,912.6L1356.5,913.6L1358.0,913.9L1359.5,914.4L1361.0,915.1L1362.5,914.6L1363.9,916.0L1365.4,915.1L1366.9,915.6L1368.3,917.0L1369.8,917.5L1371.3,917.1L1372.8,919.0L1374.3,917.4L1375.7,919.3L1377.2,919.0L1378.6,919.5L1380.1,919.5L1381.5,919.0L1382.9,920.1L1384.4,921.0L1385.9,921.4L1387.4,921.9L1388.9,921.0L1390.5,921.8L1392.1,921.2L1393.5,922.1L1394.9,922.2L1396.3,923.3L1397.7,921.9L1399.1,922.0L1400.6,923.4L1402.0,924.0L1403.5,922.6L1405.0,924.1L1406.5,923.0L1408.0,924.7L1409.5,924.4L1411.0,923.6L1412.6,924.1L1414.2,925.2L1415.8,925.6L1417.4,923.7L1419.0,924.7L1420.6,924.1L1422.2,926.1L1423.9,926.2L1425.3,925.1L1426.7,926.2L1428.2,924.9L1429.6,926.3L1431.1,925.0L1432.7,925.3L1434.2,925.9L1435.8,926.5L1437.3,926.0L1438.9,925.3L1440.5,925.2L1442.1,925.5L1443.7,925.9L1445.3,926.8L1446.9,925.8L1448.6,927.5L1450.2,927.0L1451.8,926.3L1453.4,926.9L1455.0,927.5L1456.6,926.3L1458.2,927.2L1459.7,927.2L1461.3,927.6L1462.8,927.3L1464.4,925.9L1465.9,927.7L1467.3,926.3L1468.8,927.1L1470.2,926.0L1471.6,927.4L1473.3,927.5L1474.9,927.3L1476.5,927.0L1478.1,927.4L1479.7,926.4L1481.3,927.0L1482.9,925.7L1484.5,925.2L1486.0,925.3L1487.5,925.5L1489.0,926.2L1490.5,926.0L1492.0,924.8L1493.5,925.6L1494.9,925.7L1496.4,924.4L1497.8,924.9L1499.2,923.8L1500.6,923.8L1502.0,923.2L1503.4,923.2L1505.0,922.4L1506.6,922.7L1508.2,923.3L1509.7,921.5L1511.3,921.2L1512.8,922.3L1514.3,920.6L1515.8,920.0L1517.2,919.4L1518.7,918.8L1520.1,920.3L1521.5,919.7L1522.9,920.0L1524.3,919.7L1525.7,919.1L1527.4,919.9L1529.0,918.5L1530.5,919.9L1532.1,920.5L1533.6,919.5L1535.1,921.6L1536.6,922.2L1538.2,920.9L1539.9,921.1L1541.6,921.1L1543.0,921.4L1544.5,921.7L1546.1,922.6L1547.7,921.2L1549.3,921.0L1550.9,921.8L1552.6,921.9L1554.3,919.9L1556.0,921.4L1557.6,920.9L1559.3,919.9L1560.9,920.1L1562.5,919.0L1564.1,919.7L1565.6,918.7L1567.0,920.3L1568.7,919.9L1570.4,919.4L1572.0,919.7L1573.5,920.9L1575.0,920.6L1576.5,921.9L1578.1,921.8L1579.6,922.5L1581.2,921.2L1582.9,921.4L1584.3,922.9L1585.8,922.3L1587.3,921.6L1588.8,922.7L1590.4,920.4L1592.0,921.4L1593.6,920.1L1595.1,920.2L1596.7,919.6L1598.3,919.6L1599.8,918.4L1601.2,918.2L1602.6,918.8L1604.0,917.1L1605.2,917.2L1606.6,917.4L1607.9,916.0L1609.1,913.4L1610.3,913.6L1611.4,912.1L1612.5,910.7L1613.5,910.0L1614.6,909.1L1615.7,906.5L1616.8,906.3L1617.9,903.8L1619.0,903.5L1620.2,903.0L1621.3,901.4L1622.5,899.1L1623.7,899.0L1624.8,897.1L1626.0,896.6L1627.2,895.5L1628.3,894.0L1629.5,893.3L1630.6,892.7L1631.7,894.6L1632.9,893.7L1633.9,894.6L1635.0,896.4L1636.1,897.6L1637.2,899.4L1638.3,901.9L1639.4,902.6L1640.7,905.1L1641.9,905.1L1643.3,906.9L1644.7,907.2L1646.1,906.2L1647.6,906.9L1649.1,907.1L1650.7,905.8L1652.3,905.3L1653.9,906.8L1655.6,904.6L1657.3,904.6L1659.0,904.2L1660.7,905.5L1662.4,904.8L1663.8,904.4L1665.2,904.2L1666.7,905.0L1668.2,903.1L1669.7,904.2L1671.2,902.8L1672.7,902.5L1674.2,903.2L1675.7,902.4L1677.3,902.5L1678.8,902.5L1680.3,900.9L1681.9,901.5L1683.4,901.4L1684.9,902.2L1686.3,902.0L1687.8,901.2L1689.4,901.0L1691.0,901.9L1692.6,901.9L1694.2,900.4L1695.7,902.2L1697.3,902.5L1698.8,901.4L1700.4,902.4L1702.0,902.1L1703.5,901.8L1705.1,901.5L1706.8,902.7L1708.4,903.3L1710.1,902.7L1711.6,903.3L1713.1,902.4L1714.7,904.0L1716.3,903.9L1718.0,903.5L1719.7,902.8L1721.3,902.7L1723.0,903.8L1724.7,903.6L1726.4,903.2L1728.1,904.0L1729.7,905.4L1731.4,904.6L1732.9,905.0L1734.5,904.5L1736.0,904.2L1737.4,903.9L1738.7,904.7L1740.0,904.9L1741.9,904.3L1743.6,903.9L1745.3,903.9L1746.9,902.7L1748.4,903.9L1749.9,903.3L1751.3,901.2L1752.7,902.3L1754.2,901.4L1755.6,899.4L1756.9,900.4L1758.2,899.9L1759.6,898.0L1761.0,896.8L1762.1,896.7L1763.2,895.0L1764.3,894.4L1765.5,894.7L1766.6,893.0L1767.8,892.1L1769.0,892.1L1770.1,890.8L1771.3,888.6L1772.4,886.9L1773.5,885.7L1774.5,885.9L1775.4,884.5L1776.3,884.3L1777.1,882.2L1778.0,881.2L1778.8,880.4L1779.6,878.5L1780.4,877.2L1781.2,875.6L1782.0,874.6L1782.7,873.7L1783.4,871.8L1784.1,871.0L1784.8,868.7L1785.4,867.8L1786.0,865.8L1786.5,864.8L1786.9,864.0L1787.4,861.2L1787.8,859.7L1788.2,858.7L1788.5,857.4L1788.9,855.8L1789.2,855.3L1789.5,853.6L1789.8,852.1L1790.1,851.3L1790.4,848.4L1790.6,848.6L1790.9,846.7L1791.1,844.0L1791.4,843.5L1791.6,842.0L1791.8,838.5L1792.1,837.6L1792.3,836.6L1792.5,834.0L1792.7,832.4L1792.8,831.4L1792.9,830.1L1793.1,829.8L1793.2,827.9L1793.3,826.3L1793.4,826.3L1793.6,823.5L1793.7,822.6L1793.8,821.9L1793.9,820.7L1794.0,818.0L1794.0,816.5L1794.1,815.5L1794.2,813.8L1794.3,812.4L1794.4,810.9L1794.4,808.6L1794.5,807.0L1794.6,806.3L1794.6,804.1L1794.7,803.0L1794.7,800.5L1794.8,799.7L1794.8,797.7L1794.9,796.8L1794.9,796.1L1795.0,792.9L1795.0,791.4L1795.1,790.1L1795.1,788.4L1795.2,786.3L1795.2,784.7L1795.3,784.4L1795.3,783.1L1795.4,779.7L1795.4,779.7L1795.5,778.1L1795.5,776.4L1795.6,774.8L1795.6,771.7L1795.7,770.6L1795.8,770.4L1795.8,768.2L1795.8,767.4L1795.9,764.8L1795.9,764.6L1796.0,763.3L1796.0,760.2L1796.1,760.0L1796.1,759.1L1796.2,755.5L1796.2,754.4L1796.2,754.4L1796.3,752.4L1796.3,750.2L1796.3,748.2L1796.4,748.3L1796.4,744.9L1796.5,745.4L1796.5,741.8L1796.5,740.9L1796.5,739.7L1796.6,738.3L1796.6,737.3L1796.6,734.8L1796.7,734.4L1796.7,731.5L1796.7,730.0L1796.8,729.9L1796.8,726.8L1796.8,725.7L1796.9,723.2L1796.9,723.2L1796.9,721.0L1796.9,720.2L1797.0,718.3L1797.0,716.2L1797.0,713.8L1797.1,712.9L1797.1,711.7L1797.1,709.9L1797.1,708.5L1797.2,706.6L1797.2,705.0L1797.2,705.0L1797.3,703.2L1797.3,700.8L1797.3,700.3L1797.3,697.2L1797.4,697.0L1797.4,694.7L1797.4,693.3L1797.5,692.3L1797.5,691.0L1797.5,689.0L1797.6,687.5L1797.6,686.4L1797.6,685.7L1797.7,684.3L1797.7,682.6L1797.8,680.6L1797.8,679.5L1797.8,675.8L1797.9,676.0L1797.9,673.2L1797.9,670.8L1798.0,669.5L1798.0,669.3L1798.0,667.2L1798.1,664.3L1798.1,663.1L1798.1,662.8L1798.1,661.3L1798.2,659.6L1798.2,657.9L1798.2,656.3L1798.3,654.6L1798.3,652.1L1798.4,650.1L1798.4,649.1L1798.4,646.5L1798.5,646.1L1798.5,644.0L1798.5,642.3L1798.6,641.3L1798.6,640.4L1798.7,638.5L1798.7,636.3L1798.7,636.8L1798.8,633.8L1798.8,633.2L1798.9,632.5L1798.9,630.8L1799.0,629.0L1799.1,628.8L1799.1,625.8L1799.2,625.6L1799.2,623.6L1799.3,623.3L1799.4,620.9L1799.5,620.2L1799.7,617.6L1799.8,615.3L1799.9,613.7L1800.0,612.0L1800.2,611.3L1800.3,610.6L1800.5,609.3L1800.6,607.6L1800.8,604.7L1801.0,604.6L1801.2,602.5L1801.5,600.3L1801.8,598.2L1802.2,597.6L1802.6,594.2L1803.0,594.4L1803.4,592.2L1803.8,591.9L1804.4,593.5L1805.0,593.2L1805.7,595.5L1806.3,598.6L1806.8,600.3L1807.0,600.4L1807.2,601.2L1807.4,604.0L1807.5,604.8L1807.7,606.8L1807.8,606.4L1807.9,608.1L1808.0,610.4L1808.1,611.1L1808.2,614.1L1808.3,614.2L1808.4,615.4L1808.5,617.9L1808.6,618.7L1808.6,621.1L1808.7,624.0L1808.8,625.2L1808.8,626.5L1808.9,628.8L1809.0,631.0L1809.1,631.1L1809.2,634.9L1809.3,636.0L1809.3,636.2L1809.4,637.0L1809.5,639.4L1809.5,640.4L1809.6,640.8L1809.7,643.2L1809.7,644.4L1809.8,646.0L1809.8,646.2L1809.9,648.8L1810.0,650.0L1810.0,652.4L1810.1,653.6L1810.1,655.1L1810.2,656.3L1810.3,657.1L1810.3,659.9L1810.4,660.2L1810.4,663.3L1810.5,663.9L1810.5,665.3L1810.6,666.8L1810.7,668.6L1810.7,670.2L1810.8,671.1L1810.8,673.2L1810.9,674.0L1811.0,676.8L1811.0,677.4L1811.1,679.3L1811.1,680.4L1811.2,683.1L1811.3,683.7L1811.3,686.2L1811.4,688.2L1811.4,688.6L1811.5,690.7L1811.6,692.2L1811.6,694.1L1811.7,695.3L1811.8,697.0L1811.9,699.6L1811.9,699.3L1812.0,702.8L1812.1,704.3L1812.1,705.2L1812.2,706.9L1812.3,708.3L1812.4,709.2L1812.5,710.2L1812.6,711.7L1812.6,714.4L1812.7,716.2L1812.8,717.9L1812.9,720.1L1813.0,720.2L1813.0,722.5L1813.1,723.4L1813.2,726.4L1813.3,726.3L1813.4,729.1L1813.5,731.3L1813.5,731.6L1813.6,734.8L1813.7,735.2L1813.8,738.1L1813.9,738.2L1814.0,741.1L1814.1,741.5L1814.2,744.1L1814.3,745.9L1814.4,746.7L1814.5,748.6L1814.6,750.2L1814.7,752.0L1814.8,753.3L1814.9,754.4L1815.0,756.0L1815.1,757.2L1815.2,757.9L1815.3,758.7L1815.4,762.1L1815.6,761.7L1815.7,763.6L1815.8,764.4L1815.9,765.7L1816.1,766.8L1816.2,768.8L1816.4,769.1L1816.5,771.8L1816.8,773.1L1817.1,773.8L1817.4,775.5L1817.7,778.2L1818.0,780.1L1818.3,780.3L1818.7,780.8L1819.0,782.7L1819.3,784.7L1819.7,785.6L1820.0,787.9L1820.3,787.9L1820.5,791.5L1820.8,791.3L1821.0,793.8L1821.1,794.8L1821.3,797.0L1821.4,797.4L1821.5,798.7L1821.6,800.2L1821.7,802.9L1821.8,804.0L1821.9,804.8L1822.0,806.5L1822.1,808.0L1822.2,809.0L1822.2,812.5L1822.3,813.9L1822.4,815.8L1822.5,816.4L1822.6,817.1L1822.6,818.7L1822.7,820.6L1822.8,822.8L1822.9,824.0L1823.0,826.9L1823.1,828.3L1823.2,828.8L1823.4,829.9L1823.5,831.4L1823.6,832.9L1823.8,834.2L1824.0,835.2L1824.2,838.5L1824.5,839.9L1824.7,842.2L1824.9,842.3L1825.1,844.2L1825.4,846.6L1825.6,847.3L1825.9,849.8L1826.2,851.0L1826.5,851.4L1826.8,853.7L1827.1,854.4L1827.4,856.7L1827.8,856.3L1828.2,857.4L1828.9,859.3L1829.6,860.4L1830.3,861.9L1831.1,864.8L1832.0,865.2L1833.0,866.6L1834.9,867.6L1836.9,867.9L1838.8,867.3L1840.0,867.7L1841.1,865.3L1842.2,865.2L1843.1,861.8L1844.0,861.2L1844.5,860.8L1845.0,858.6L1845.5,856.9L1845.9,855.7L1846.2,854.1L1846.5,851.9L1846.9,850.8L1847.1,848.4L1847.4,847.1L1847.7,845.1L1847.8,844.2L1847.9,843.5L1848.0,840.9L1848.1,839.9L1848.2,839.5L1848.3,837.7L1848.4,838.0L1848.5,836.6L1848.6,834.3L1848.6,833.7L1848.7,831.8L1848.8,830.6L1848.8,829.9L1848.9,828.2L1848.9,825.9L1849.0,824.4L1849.0,824.0L1849.1,823.1L1849.1,821.1L1849.1,819.4L1849.2,817.8L1849.2,816.2L1849.2,815.2L1849.2,813.1L1849.3,811.2L1849.3,809.3L1849.3,807.9L1849.3,806.4L1849.4,804.9L1849.4,802.2L1849.4,801.2L1849.4,800.7L1849.4,797.9L1849.4,797.0L1849.5,795.0L1849.5,794.0L1849.5,791.4L1849.5,788.7L1849.5,788.0L1849.5,787.1L1849.6,785.5L1849.6,783.1L1849.6,780.7L1849.6,779.7L1849.7,776.8L1849.7,776.6L1849.7,774.9L1849.8,772.2L1849.8,771.6L1849.8,770.5L1849.9,769.1L1849.9,767.6L1849.9,765.9L1850.0,764.0L1850.0,762.7L1850.0,761.1L1850.1,759.3L1850.1,758.3L1850.1,756.0L1850.2,755.4L1850.2,754.4L1850.2,752.1L1850.2,751.9L1850.3,750.5L1850.3,749.1L1850.3,746.8L1850.4,746.0L1850.4,742.8L1850.4,741.5L1850.5,739.9L1850.5,738.9L1850.5,736.7L1850.6,735.9L1850.6,735.5L1850.6,733.2L1850.6,730.8L1850.7,730.2L1850.7,728.9L1850.7,727.5L1850.8,724.8L1850.8,723.5L1850.8,722.2L1850.8,721.0L1850.9,720.1L1850.9,717.8L1850.9,716.7L1851.0,714.9L1851.0,713.0L1851.0,710.8L1851.1,711.1L1851.1,709.4L1851.1,707.5L1851.1,705.7L1851.2,704.6L1851.2,701.8L1851.2,699.9L1851.3,699.3L1851.3,697.4L1851.3,695.4L1851.3,694.2L1851.4,694.1L1851.4,692.1L1851.4,689.0L1851.5,687.9L1851.5,687.5L1851.5,685.7L1851.5,683.3L1851.6,682.4L1851.6,681.6L1851.6,678.1L1851.7,678.6L1851.7,675.7L1851.7,674.0L1851.8,673.0L1851.8,671.5L1851.8,669.2L1851.8,668.0L1851.9,667.5L1851.9,665.0L1851.9,663.1L1852.0,662.4L1852.0,661.0L1852.0,660.2L1852.0,658.2L1852.1,656.7L1852.1,655.6L1852.1,653.5L1852.2,651.8L1852.2,650.3L1852.2,648.3L1852.3,647.5L1852.3,645.3L1852.3,644.8L1852.3,642.4L1852.4,641.5L1852.4,638.2L1852.4,637.9L1852.5,635.2L1852.5,634.3L1852.5,632.3L1852.6,630.0L1852.6,630.1L1852.6,628.0L1852.6,625.8L1852.7,624.8L1852.7,623.8L1852.7,620.6L1852.8,619.4L1852.8,619.0L1852.8,617.7L1852.9,615.9L1852.9,613.1L1852.9,611.4L1852.9,609.6L1853.0,607.9L1853.0,606.5L1853.0,605.6L1853.1,604.4L1853.1,601.4L1853.1,600.3L1853.2,600.1L1853.2,598.5L1853.2,595.8L1853.2,595.8L1853.3,592.6L1853.3,591.1L1853.3,590.0L1853.4,588.8L1853.4,588.3L1853.4,585.2L1853.5,585.2L1853.5,583.1L1853.5,582.4L1853.5,580.8L1853.6,579.6L1853.6,577.5L1853.6,576.1L1853.7,574.4L1853.7,572.7L1853.7,572.0L1853.8,569.5L1853.8,568.3L1853.8,568.7L1853.8,566.2L1853.9,564.9L1853.9,564.0L1853.9,562.1L1854.0,560.7L1854.0,560.5L1854.0,558.0L1854.1,557.3L1854.1,554.7L1854.2,552.6L1854.2,550.9L1854.3,549.7L1854.3,546.8L1854.3,546.8L1854.4,543.5L1854.4,543.0L1854.5,539.8L1854.5,539.4L1854.5,536.9L1854.6,536.4L1854.6,534.2L1854.7,533.8L1854.7,530.6L1854.8,530.7L1854.8,528.8L1854.8,526.6L1854.9,525.9L1854.9,523.7L1855.0,522.1L1855.0,521.6L1855.1,520.4L1855.1,518.2L1855.2,517.5L1855.2,515.0L1855.3,515.4L1855.3,514.4L1855.4,513.2L1855.4,510.9L1855.5,510.5L1855.6,508.4L1855.7,505.2L1855.8,503.0L1856.0,502.3L1856.1,501.1L1856.2,498.9L1856.3,497.2L1856.4,496.9L1856.6,494.6L1856.7,496.0L1856.8,494.4L1857.0,496.6L1857.1,496.5L1857.2,499.0L1857.4,499.9L1857.5,502.9L1857.6,504.0L1857.8,506.5L1857.9,507.2L1858.0,510.8L1858.1,510.6L1858.1,512.8L1858.2,512.8L1858.2,513.6L1858.3,515.0L1858.3,517.0L1858.4,517.3L1858.4,519.1L1858.5,520.0L1858.5,521.8L1858.6,523.8L1858.6,524.5L1858.7,527.1L1858.7,527.7L1858.8,529.5L1858.8,531.2L1858.9,533.0L1858.9,534.3L1858.9,535.0L1859.0,538.0L1859.0,539.2L1859.1,540.2L1859.1,542.7L1859.1,543.2L1859.2,546.2L1859.2,547.2L1859.3,549.7L1859.3,550.2L1859.3,553.1L1859.4,554.5L1859.4,555.3L1859.5,558.3L1859.5,559.1L1859.5,562.0L1859.6,562.1L1859.6,563.1L1859.6,564.8L1859.6,566.6L1859.7,567.7L1859.7,569.4L1859.7,570.6L1859.8,572.7L1859.8,573.3L1859.8,574.0L1859.9,576.8L1859.9,577.1L1859.9,578.1L1859.9,578.9L1860.0,581.9L1860.0,583.1L1860.0,583.6L1860.1,586.8L1860.1,586.5L1860.1,589.0L1860.2,590.5L1860.2,591.6L1860.2,593.0L1860.2,595.1L1860.3,596.4L1860.3,597.5L1860.3,599.1L1860.4,600.9L1860.4,602.3L1860.4,603.7L1860.4,606.4L1860.5,607.5L1860.5,609.8L1860.5,609.6L1860.6,612.5L1860.6,613.7L1860.6,614.7L1860.6,616.7L1860.7,618.9L1860.7,619.9L1860.7,620.9L1860.7,622.6L1860.8,625.3L1860.8,625.3L1860.8,627.0L1860.9,629.8L1860.9,631.3L1860.9,633.4L1860.9,634.1L1861.0,635.4L1861.0,638.5L1861.0,638.6L1861.0,641.1L1861.1,641.3L1861.1,643.6L1861.1,645.3L1861.1,647.0L1861.2,647.5L1861.2,650.8L1861.2,652.7L1861.2,653.7L1861.2,655.5L1861.3,657.2L1861.3,658.9L1861.3,660.2L1861.3,660.8L1861.4,661.6L1861.4,663.7L1861.4,664.5L1861.4,667.0L1861.4,669.5L1861.5,671.0L1861.5,671.1L1861.5,673.6L1861.5,674.4L1861.5,677.2L1861.5,677.5L1861.5,678.9L1861.5,681.6L1861.5,684.1L1861.5,684.7L1861.5,686.5L1861.5,689.0L1861.5,690.1L1861.5,692.1L1861.5,693.5L1861.5,694.8L1861.5,696.7L1861.5,698.6L1861.5,699.5L1861.5,701.5L1861.5,703.0L1861.5,705.9L1861.4,707.2L1861.4,709.3L1861.4,710.5L1861.4,713.0L1861.4,714.9L1861.4,715.1L1861.4,716.7L1861.4,720.2L1861.4,720.5L1861.4,723.9L1861.4,724.2L1861.4,725.7L1861.4,726.9L1861.4,729.7L1861.4,731.4L1861.4,731.8L1861.4,734.9L1861.4,735.0L1861.4,737.6L1861.4,740.1L1861.4,739.7L1861.4,743.1L1861.4,744.4L1861.4,744.9L1861.5,747.0L1861.5,747.4L1861.5,750.0L1861.5,752.0L1861.5,752.0L1861.6,752.7L1861.6,754.0L1861.6,756.0L1861.7,757.9L1861.7,759.9L1861.7,760.9L1861.8,761.9L1861.8,762.6L1861.9,764.0L1861.9,764.8L1862.0,764.7L1862.0,767.2L1862.1,767.3L1862.2,767.7L1862.2,770.4L1862.3,770.9L1862.4,770.1L1862.6,773.2L1862.8,774.3L1863.0,778.0L1863.2,778.7L1863.5,780.6L1863.8,782.5L1864.1,783.7L1864.5,783.0L1865.0,784.6L1866.2,783.3L1867.6,781.4L1868.8,781.9L1869.2,781.8L1869.5,782.4L1869.8,782.1L1870.1,783.3L1870.3,784.7L1870.6,786.0L1870.8,787.4L1871.0,789.8L1871.1,790.0L1871.3,791.6L1871.5,794.4L1871.6,796.4L1871.7,798.9L1871.9,799.7L1872.0,803.2L1872.2,803.4L1872.3,805.9L1872.5,807.4L1872.6,808.9L1872.8,810.7L1873.0,812.6L1873.2,813.8L1873.4,815.4L1873.5,818.2L1873.6,818.9L1873.7,821.9L1873.9,822.4L1874.0,823.4L1874.1,825.4L1874.2,828.6L1874.3,829.7L1874.4,832.1L1874.6,832.7L1874.7,834.1L1874.9,835.8L1875.1,837.4L1875.4,839.5L1875.6,841.3L1876.0,842.1L1876.3,843.5L1876.7,843.6L1877.2,844.9L1878.2,845.6L1879.4,848.9L1880.7,850.1L1882.0,850.7L1883.3,850.9L1884.5,852.0L1885.6,853.6L1886.6,854.4L1887.4,856.2L1888.2,857.0L1889.0,859.5L1890.0,860.7L1891.4,861.1L1892.9,862.1L1894.4,862.5L1895.9,861.3L1896.8,859.6L1897.6,859.9L1898.4,857.8L1899.1,855.9L1899.9,853.9L1900.6,852.9L1901.4,852.0L1902.3,849.7L1903.2,849.7L1904.6,849.3L1906.0,850.5L1907.5,850.5L1909.0,852.5L1910.5,851.6L1911.5,854.4L1912.5,854.3L1913.6,856.8L1914.6,857.6L1915.6,858.8L1916.5,861.5L1917.5,862.0L1918.5,861.8L1919.4,863.1L1920.5,862.5L1921.5,862.4L1922.5,860.0L1923.5,858.5L1924.6,857.0L1925.6,854.0L1926.7,853.9L1928.3,853.8L1930.0,851.7L1931.7,850.4L1933.3,850.4L1934.2,851.2L1935.1,852.6L1935.9,853.5L1936.7,855.7L1937.5,856.7L1938.2,858.4L1939.0,860.1L1939.9,862.5L1940.6,863.3L1941.4,865.0L1942.1,866.4L1942.9,868.5L1943.7,870.8L1944.4,870.9L1945.3,872.9L1946.1,875.4L1946.9,874.7L1947.8,877.4L1948.7,875.9L1949.9,876.3L1951.1,877.0L1952.3,875.6L1953.5,873.3L1954.8,872.5L1956.1,871.3L1957.5,871.2L1959.1,869.8L1960.9,871.6L1962.6,871.2L1964.4,872.5L1966.1,871.0L1967.8,870.8L1969.2,871.6L1970.5,870.4L1971.9,868.7L1973.2,868.1L1974.5,865.4L1975.7,864.6L1976.9,863.1L1978.0,863.7L1979.2,862.4L1980.3,861.4L1981.3,859.7L1982.3,859.4L1983.2,856.6L1983.9,855.0L1984.2,855.2L1984.5,853.9L1984.8,852.5L1984.9,850.9L1985.1,849.3L1985.1,846.3L1985.2,845.3L1985.2,843.7L1985.2,843.0L1985.2,840.0L1985.2,839.0L1985.2,837.4L1985.1,835.1L1985.1,833.3L1985.1,831.5L1985.1,830.1L1985.2,828.8L1985.3,826.6L1985.4,826.7L1985.6,823.6L1985.8,822.2L1986.0,819.7L1986.2,818.7L1986.4,817.9L1986.7,816.2L1987.0,815.2L1987.3,813.5L1987.6,811.5L1988.0,811.7L1988.7,809.3L1989.6,807.2L1990.4,806.2L1991.3,805.3L1992.2,805.2L1993.2,808.0L1994.1,808.9L1995.0,810.7L1995.7,811.7L1996.4,813.2L1997.1,815.5L1997.8,817.6L1998.6,818.5L1999.4,820.4L2000.2,820.4L2001.1,821.1L2002.0,824.4L2002.9,823.8L2003.7,826.1L2004.5,827.2L2004.9,828.1L2005.3,828.9L2005.7,831.4L2006.0,832.5L2006.4,833.6L2006.7,835.8L2007.0,838.0L2007.3,838.3L2007.6,840.7L2007.9,842.5L2008.1,842.8L2008.4,845.8L2008.7,847.5L2008.9,849.2L2009.2,849.1L2009.5,852.6L2009.8,853.2L2010.1,854.3L2010.4,855.7L2010.8,858.3L2011.3,858.9L2011.6,860.7L2012.0,862.4L2012.4,864.9L2012.9,865.7L2013.4,868.3L2014.0,868.4L2014.8,869.7L2015.7,868.9L2016.7,868.3L2017.9,867.7L2019.1,866.0L2020.4,865.5L2021.7,863.4L2022.9,862.6L2024.0,860.4L2025.0,859.1L2025.8,858.6L2026.6,857.4L2027.3,855.2L2027.9,852.3L2028.5,851.2L2029.1,850.1L2029.7,848.5L2030.3,847.6L2030.9,846.6L2031.6,846.8L2032.2,845.4L2032.9,846.6L2033.6,847.8L2034.3,848.0L2035.0,849.7L2035.6,851.7L2036.3,853.8L2037.0,856.8L2037.7,857.4L2038.4,860.0L2039.0,861.3L2039.7,863.5L2040.5,863.5L2041.3,865.3L2042.0,866.9L2042.8,868.8L2043.6,870.3L2044.5,871.5L2045.6,872.7L2046.9,873.1L2048.2,873.7L2049.7,874.7L2051.3,876.5L2052.8,876.3L2054.4,876.3L2055.7,876.3L2057.0,875.2L2058.3,873.0L2059.6,872.6L2061.0,871.1L2062.4,870.5L2063.7,869.4L2065.1,868.3L2066.4,867.2L2067.6,867.0L2068.8,866.9L2070.0,867.9L2071.2,868.0L2072.3,870.3L2073.5,871.1L2074.6,873.7L2075.7,875.1L2076.8,874.3L2077.9,876.2L2079.4,876.5L2080.9,878.2L2082.3,879.3L2083.8,879.8L2085.2,878.4L2086.8,878.2L2088.4,878.2L2089.9,877.8L2091.4,875.1L2092.6,874.4L2093.0,873.8L2093.4,873.3L2093.7,872.3L2094.0,870.6L2094.2,869.2L2094.4,867.3L2094.5,866.4L2094.6,864.1L2094.7,862.2L2094.8,861.1L2094.8,859.5L2094.8,857.8L2094.8,855.2L2094.8,853.3L2094.8,850.2L2094.8,850.2L2094.8,846.4L2094.8,846.2L2094.8,842.7L2094.8,842.1L2094.8,840.1L2094.8,839.4L2094.9,836.3L2095.0,836.1L2095.1,835.0L2095.3,833.3L2095.5,832.4L2096.2,831.3L2096.9,829.4L2097.7,827.7L2098.4,827.1L2098.8,827.0L2099.1,828.0L2099.5,829.3L2099.8,828.9L2100.1,830.3L2100.5,834.0L2100.8,834.9L2101.1,836.5L2101.4,838.3L2101.7,840.4L2102.0,843.1L2102.3,844.1L2102.6,846.3L2102.8,849.7L2103.0,851.1L2103.2,853.0L2103.4,853.5L2103.5,855.7L2103.7,859.0L2103.8,861.0L2103.9,861.9L2104.0,865.1L2104.1,865.5L2104.2,869.0L2104.4,869.8L2104.5,870.4L2104.7,872.4L2104.8,872.6L2105.0,873.0L2105.2,872.7L2105.4,870.7L2105.6,871.8L2105.9,871.0L2106.1,867.8L2106.3,868.1L2106.6,866.5L2106.8,864.7L2107.1,862.5L2107.3,860.4L2107.6,857.0L2107.8,856.7L2108.1,853.7L2108.3,852.4L2108.5,849.4L2108.7,848.8L2108.8,845.6L2109.0,845.3L2109.1,844.6L2109.2,842.6L2109.3,840.8L2109.4,839.9L2109.5,838.1L2109.6,835.5L2109.7,834.4L2109.7,832.9L2109.8,831.4L2109.9,828.2L2110.0,827.1L2110.0,826.5L2110.1,822.8L2110.2,822.2L2110.3,820.6L2110.3,818.6L2110.4,816.4L2110.5,815.1L2110.6,813.8L2110.7,813.4L2110.8,811.3L2110.9,808.4L2111.0,808.2L2111.2,806.8L2111.3,806.5L2111.4,805.3L2111.6,804.0L2111.9,802.1L2112.3,799.7L2112.7,798.0L2113.0,796.3L2113.4,794.5L2113.8,792.1L2114.2,792.0L2114.6,790.5L2114.8,791.6L2115.1,792.1L2115.4,793.5L2115.6,793.5L2115.9,794.2L2116.1,795.8L2116.4,798.8L2116.6,800.0L2116.9,801.6L2117.1,802.3L2117.4,805.6L2117.6,806.7L2117.8,809.7L2118.1,811.9L2118.3,813.9L2118.5,815.1L2118.8,815.9L2119.0,819.6L2119.2,819.4L2119.3,821.7L2119.5,822.0L2119.6,824.8L2119.8,825.4L2119.9,826.9L2120.0,829.1L2120.1,830.6L2120.3,832.9L2120.4,834.9L2120.5,835.4L2120.6,836.7L2120.7,839.8L2120.8,841.6L2121.0,841.7L2121.1,843.4L2121.2,845.4L2121.3,847.3L2121.5,849.4L2121.6,850.2L2121.8,852.4L2121.9,853.5L2122.1,854.8L2122.3,856.4L2122.5,858.6L2122.7,858.2L2122.9,859.2L2123.2,861.1L2123.4,863.3L2123.8,864.8L2124.2,865.8L2124.6,868.5L2125.1,870.8L2125.5,872.5L2126.0,872.8L2126.5,875.5L2127.1,875.2L2127.7,876.0L2128.4,879.1L2129.2,879.1L2130.5,880.2L2132.1,879.3L2133.7,878.7L2135.2,878.9L2136.6,879.8L2137.4,882.0L2138.1,882.2L2138.7,883.0L2139.2,885.0L2139.7,888.2L2140.2,888.5L2140.7,891.7L2141.2,892.7L2141.8,894.9L2142.5,894.5L2143.6,896.4L2144.7,898.8L2145.8,900.1L2147.1,899.1L2148.3,899.4L2149.5,901.0L2150.8,900.3L2152.2,898.2L2153.5,898.3L2154.7,896.3L2155.7,895.1L2156.1,894.3L2156.5,894.0L2156.8,891.9L2157.1,889.8L2157.3,888.4L2157.4,887.2L2157.6,884.9L2157.7,883.1L2157.7,881.7L2157.8,880.0L2157.8,879.2L2157.8,876.2L2157.8,875.4L2157.8,874.4L2157.9,870.8L2157.9,869.2L2157.9,868.9L2158.0,868.0L2158.1,865.0L2158.2,864.4L2158.4,863.4L2158.6,861.2L2159.2,858.9L2159.9,858.2L2160.7,855.8L2161.5,856.1L2162.0,855.6L2162.6,855.7L2163.2,857.1L2163.8,858.0L2164.4,859.8L2165.1,862.3L2165.7,865.6L2166.3,866.7L2166.9,868.3L2167.4,871.1L2167.8,871.5L2168.1,872.6L2168.4,875.0L2168.7,877.6L2168.9,878.2L2169.1,880.1L2169.4,882.7L2169.6,883.8L2169.9,885.8L2170.3,886.7L2170.7,887.0L2171.2,889.1L2171.8,889.4L2173.2,889.8L2174.8,888.1L2176.4,887.3L2177.7,887.0L2178.9,889.0L2180.0,889.2L2181.0,889.4L2182.1,889.7L2183.4,888.8L2184.6,885.3L2185.8,885.3L2186.7,883.2L2187.3,882.8L2187.8,881.0L2188.2,879.6L2188.5,878.9L2188.8,875.9L2189.1,873.8L2189.3,873.0L2189.5,872.3L2189.8,869.1L2190.0,868.5L2190.2,866.9L2190.3,866.3L2190.5,863.5L2190.6,862.0L2190.7,860.4L2190.8,859.1L2190.9,858.4L2190.9,856.8L2191.0,855.7L2191.1,853.5L2191.2,851.8L2191.3,850.4L2191.4,847.9L2191.5,847.1L2191.7,845.1L2191.9,844.7L2192.2,842.7L2192.4,840.6L2192.6,839.4L2192.9,838.0L2193.2,834.8L2193.5,835.1L2193.8,833.7L2194.2,832.7L2194.9,829.1L2195.6,828.0L2196.5,826.7L2198.0,825.4L2199.6,826.0L2201.1,826.3L2202.5,828.7L2203.2,829.7L2203.7,831.4L2204.2,833.4L2204.6,834.4L2204.8,836.6L2205.0,837.4L2205.1,838.2L2205.2,840.9L2205.3,842.9L2205.4,843.3L2205.4,845.4L2205.5,847.3L2205.5,848.8L2205.6,849.8L2205.7,851.9L2205.8,855.1L2205.9,855.0L2206.0,856.7L2206.1,860.2L2206.2,861.8L2206.3,863.8L2206.5,865.6L2206.6,867.0L2206.7,869.2L2206.8,870.4L2207.0,873.6L2207.1,872.6L2207.3,873.5L2207.5,874.2L2207.7,875.4L2207.9,874.6L2208.2,872.2L2208.5,871.0L2208.7,868.6L2209.0,867.1L2209.3,864.6L2209.6,864.3L2209.8,862.2L2210.1,859.6L2210.4,858.2L2210.7,856.1L2210.9,855.9L2211.1,852.9L2211.3,850.9L2211.6,849.6L2211.8,849.0L2212.1,847.7L2212.4,845.7L2212.8,843.6L2213.3,844.0L2214.8,842.6L2216.5,840.7L2218.1,840.8L2219.6,840.4L2221.2,841.1L2222.5,843.0L2223.2,843.1L2223.7,845.5L2224.2,846.3L2224.5,847.7L2224.7,848.9L2225.0,851.4L2225.2,851.3L2225.5,853.2L2225.7,856.2L2225.9,856.8L2226.2,859.6L2226.4,860.8L2226.7,862.7L2227.0,863.4L2227.3,864.4L2227.6,868.0L2227.9,869.4L2228.2,869.1L2228.5,871.8L2228.8,872.9L2229.1,875.5L2229.4,875.7L2229.7,878.1L2230.0,879.2L2230.2,880.0L2230.5,882.2L2230.7,883.3L2230.9,885.4L2231.2,887.5L2231.4,888.8L2231.6,888.5L2231.8,890.9L2232.0,891.6L2232.3,894.7L2232.5,894.7L2232.8,897.6L2233.0,898.9L2233.3,899.5L2233.6,902.5L2233.9,904.6L2234.2,906.1L2234.4,908.6L2234.7,909.9L2235.1,911.4L2235.4,913.8L2235.8,914.8L2236.3,915.3L2236.8,916.4L2237.5,916.4L2238.8,917.9L2240.2,916.2L2241.8,917.1L2243.3,914.8L2244.4,914.6L2245.5,913.9L2246.6,913.0L2247.7,910.8L2248.8,909.2L2249.8,909.5L2250.8,906.9L2251.7,906.4L2252.5,904.0L2253.3,902.9L2254.1,901.8L2254.8,901.5L2255.5,899.0L2256.1,897.5L2256.7,896.8L2257.1,894.5L2257.5,892.0L2257.9,892.5L2258.2,891.0L2258.5,888.0L2258.7,888.0L2259.0,886.2L2259.2,884.2L2259.5,883.3L2259.7,880.3L2260.0,878.3L2260.2,878.8L2260.4,876.7L2260.6,874.1L2260.9,873.3L2261.0,871.0L2261.2,870.2L2261.4,868.4L2261.6,865.5L2261.8,865.0L2262.0,863.6L2262.2,862.7L2262.4,860.2L2262.6,859.3L2262.8,855.9L2263.1,854.9L2263.3,853.4L2263.6,852.0L2263.9,851.0L2264.3,848.2L2264.6,846.3L2264.9,844.3L2265.3,844.0L2265.7,843.0L2266.2,840.2L2266.7,839.9L2268.3,838.5L2270.0,836.9L2271.0,837.5L2272.1,839.3L2273.2,839.4L2274.2,842.4L2275.1,842.1L2276.0,844.7L2276.8,846.5L2277.6,846.9L2278.3,848.7L2278.9,850.3L2279.5,852.3L2279.9,853.2L2280.4,854.3L2280.8,855.4L2281.2,857.4L2281.5,859.7L2281.7,862.0L2281.9,861.7L2282.1,863.8L2282.3,864.7L2282.4,867.5L2282.6,868.7L2282.8,870.2L2282.9,872.8L2283.1,874.2L2283.3,875.5L2283.5,875.9L2283.7,879.2L2283.8,879.6L2284.0,881.0L2284.1,882.3L2284.3,885.6L2284.5,886.9L2284.7,887.2L2284.9,888.4L2285.1,890.8L2285.3,892.8L2285.5,893.8L2285.8,895.6L2286.1,897.8L2286.4,898.2L2286.7,900.0L2287.0,902.2L2287.4,903.8L2287.7,906.0L2288.1,907.1L2288.5,908.9L2289.0,910.0L2289.5,910.3L2290.0,912.7L2290.7,914.2L2291.4,916.7L2292.2,917.0L2293.0,918.7L2293.8,920.6L2294.7,921.2L2295.7,923.0L2296.7,924.5L2297.9,926.1L2299.3,925.9L2300.7,927.5L2302.1,928.7L2303.6,927.7L2305.0,927.9L2306.6,928.5L2308.3,928.4L2310.0,929.2L2311.6,929.9L2313.3,929.2L2315.0,930.7L2316.7,930.3L2318.3,929.1L2320.0,929.6L2321.7,930.0"/>
<path stroke="#ff4040" d="M178.2,1136.1L179.7,1136.3L181.2,1136.4L182.7,1136.8L184.2,1135.6L185.7,1136.5L187.2,1137.0L188.8,1137.0L190.3,1135.5L191.8,1136.5L193.3,1136.4L194.8,1136.2L196.3,1137.2L197.8,1136.3L199.3,1136.1L200.8,1137.2L202.3,1136.5L203.8,1135.8L205.3,1135.9L206.8,1136.3L208.3,1135.3L209.8,1136.5L211.3,1136.8L212.8,1136.2L214.3,1137.1L215.8,1137.3L217.3,1136.4L218.9,1136.7L220.4,1135.5L221.9,1135.3L223.4,1137.4L224.9,1135.8L226.4,1135.7L227.9,1137.2L229.5,1136.8L231.0,1135.4L232.5,1135.8L234.0,1135.6L235.5,1135.7L237.1,1135.1L238.6,1136.2L240.1,1135.6L241.6,1135.8L243.1,1135.3L244.7,1135.0L246.2,1134.8L247.8,1136.6L249.4,1136.3L250.9,1135.8L252.5,1134.7L254.1,1134.7L255.7,1134.6L257.3,1134.9L258.9,1134.3L260.5,1134.6L262.1,1134.4L263.7,1134.3L265.3,1135.2L266.9,1134.7L268.5,1134.6L270.1,1134.3L271.7,1134.6L273.2,1135.0L274.8,1133.9L276.4,1133.2L277.9,1134.0L279.5,1133.7L281.0,1134.5L282.6,1133.0L284.1,1134.5L285.6,1132.6L287.1,1133.6L288.5,1133.3L290.0,1133.0L291.4,1134.2L292.8,1133.7L294.2,1132.4L295.6,1133.1L297.0,1133.3L298.3,1132.0L299.6,1132.1L300.9,1133.2L302.2,1133.4L303.9,1132.8L305.6,1132.7L307.2,1132.8L308.8,1132.3L310.3,1133.6L311.8,1133.8L313.2,1132.7L314.6,1131.7L316.0,1132.5L317.4,1133.4L318.8,1132.4L320.2,1131.9L321.6,1132.1L323.0,1133.3L324.4,1133.1L325.9,1132.4L327.4,1133.1L329.0,1133.5L330.6,1133.9L332.3,1133.6L334.0,1132.8L335.3,1133.6L336.6,1133.8L337.9,1133.7L339.2,1133.5L340.6,1133.1L341.9,1133.0L343.3,1133.7L344.8,1133.2L346.2,1133.4L347.6,1132.4L349.1,1132.1L350.6,1132.5L352.1,1133.2L353.6,1133.2L355.1,1132.4L356.6,1132.4L358.2,1134.0L359.7,1132.1L361.3,1134.0L362.9,1133.7L364.4,1133.3L366.0,1134.2L367.6,1133.5L369.2,1132.0L370.8,1134.1L372.4,1132.9L374.0,1134.0L375.6,1133.8L377.2,1132.3L378.8,1132.1L380.4,1132.1L382.0,1133.7L383.6,1133.7L385.2,1132.5L386.7,1132.2L388.3,1132.8L389.9,1133.7L391.5,1133.6L393.0,1133.8L394.5,1134.0L396.1,1133.5L397.6,1133.6L399.1,1131.8L400.7,1131.7L402.2,1133.6L403.7,1133.0L405.3,1132.3L406.9,1131.8L408.5,1132.2L410.0,1132.1L411.6,1132.4L413.2,1132.2L414.8,1131.6L416.4,1131.3L418.0,1131.5L419.6,1131.2L421.2,1131.1L422.8,1131.7L424.4,1131.0L426.0,1132.4L427.6,1131.8L429.2,1131.5L430.8,1131.8L432.3,1130.8L433.9,1130.3L435.5,1130.3L437.0,1130.8L438.6,1130.7L440.1,1130.4L441.6,1130.4L443.1,1131.5L444.6,1129.6L446.1,1130.5L447.6,1130.3L449.0,1130.0L450.4,1130.9L451.9,1129.7L453.3,1129.2L454.6,1129.4L456.0,1131.1L457.3,1129.7L458.6,1129.1L459.9,1130.9L461.2,1130.1L463.0,1130.7L464.7,1129.3L466.3,1130.3L467.9,1128.5L469.5,1128.9L471.1,1130.0L472.6,1129.4L474.1,1129.9L475.6,1129.0L477.1,1130.0L478.5,1128.2L480.0,1129.4L481.4,1128.3L482.8,1128.3L484.2,1129.7L485.7,1128.6L487.1,1129.4L488.6,1128.1L490.0,1129.0L491.5,1129.2L493.0,1128.5L494.5,1127.5L496.0,1128.2L497.5,1128.6L499.1,1128.1L500.6,1127.1L502.1,1126.7L503.6,1125.8L505.1,1127.0L506.6,1125.4L508.1,1125.2L509.7,1124.5L511.2,1124.5L512.7,1124.8L514.2,1124.7L515.7,1123.8L517.2,1124.1L518.7,1124.6L520.2,1123.0L521.8,1122.9L523.3,1123.6L524.8,1124.3L526.3,1124.2L527.8,1123.4L529.3,1122.3L530.8,1123.9L532.4,1124.2L533.9,1124.0L535.4,1123.2L536.9,1122.9L538.4,1123.3L539.9,1123.8L541.4,1124.3L543.0,1123.2L544.5,1123.3L546.0,1122.9L547.5,1123.5L549.0,1123.5L550.5,1123.0L552.1,1123.4L553.6,1124.4L555.1,1122.8L556.6,1122.9L558.1,1122.9L559.6,1124.1L561.1,1122.8L562.6,1123.9L564.0,1124.0L565.5,1123.8L567.0,1123.6L568.4,1122.1L569.9,1122.6L571.4,1123.3L572.8,1121.9L574.3,1122.6L575.8,1123.1L577.3,1123.2L578.8,1121.8L580.4,1121.2L581.9,1120.9L583.5,1121.5L585.1,1122.0L586.7,1121.3L588.4,1122.5L589.8,1122.1L591.3,1122.1L592.7,1122.5L594.3,1121.5L595.8,1122.2L597.4,1121.6L599.0,1121.5L600.7,1121.1L602.3,1122.7L604.0,1123.0L605.7,1121.1L607.3,1122.7L609.0,1121.3L610.7,1122.2L612.4,1122.0L614.1,1123.4L615.8,1122.4L617.4,1122.7L619.1,1122.4L620.7,1122.3L622.3,1122.3L623.8,1122.0L625.4,1122.0L626.9,1123.2L628.3,1123.7L629.8,1123.6L631.1,1122.7L632.5,1124.4L633.7,1122.4L634.9,1123.2L636.1,1123.0L638.0,1122.7L639.7,1124.5L641.3,1124.0L642.8,1122.8L644.2,1122.9L645.7,1124.3L647.1,1123.3L648.6,1123.2L650.2,1123.1L652.0,1123.0L653.3,1123.5L654.6,1122.7L656.0,1123.2L657.4,1121.8L658.8,1122.6L660.3,1122.5L661.8,1121.6L663.3,1122.5L664.9,1122.4L666.4,1121.5L668.0,1120.7L669.6,1119.8L671.2,1120.6L672.8,1119.5L674.4,1119.0L676.0,1119.6L677.6,1118.6L679.2,1119.4L680.7,1119.4L682.3,1117.6L683.8,1118.9L685.3,1117.8L686.8,1118.1L688.3,1118.9L689.8,1119.4L691.2,1118.0L692.7,1119.0L694.1,1118.1L695.6,1119.4L697.1,1117.8L698.5,1118.9L700.0,1117.7L701.5,1118.8L703.0,1119.3L704.5,1119.8L706.0,1119.5L707.6,1119.1L709.1,1118.9L710.7,1119.4L712.3,1119.5L713.9,1119.5L715.6,1119.8L717.0,1119.9L718.4,1120.3L719.9,1119.7L721.4,1120.3L722.9,1120.0L724.4,1119.3L725.9,1120.2L727.5,1119.3L729.0,1120.4L730.6,1120.6L732.2,1120.6L733.8,1120.7L735.4,1120.3L737.0,1119.9L738.6,1119.5L740.3,1120.3L741.9,1120.9L743.5,1119.8L745.1,1119.5L746.7,1120.7L748.3,1121.1L749.9,1119.6L751.4,1119.5L753.0,1119.4L754.5,1120.4L756.1,1121.0L757.5,1119.7L759.0,1120.9L760.5,1119.3L761.9,1119.6L763.3,1120.3L765.0,1120.7L766.7,1120.1L768.4,1120.5L770.2,1119.7L771.9,1119.6L773.7,1119.9L775.4,1118.6L777.1,1119.0L778.8,1119.2L780.5,1119.8L782.2,1118.7L783.8,1118.6L785.3,1120.2L786.8,1119.3L788.2,1118.6L789.6,1119.3L790.9,1119.0L792.1,1119.1L793.2,1118.4L794.2,1118.4L795.1,1117.1L797.0,1117.4L798.3,1116.9L800.0,1116.1L801.2,1116.0L802.6,1116.8L804.2,1115.0L805.8,1114.4L807.5,1114.4L809.2,1113.6L810.9,1112.8L812.6,1114.2L814.1,1112.7L815.6,1110.9L817.0,1111.2L818.3,1109.6L819.7,1109.4L821.0,1109.4L822.2,1108.5L823.4,1106.1L824.5,1105.8L825.5,1103.9L826.4,1101.7L827.2,1101.1L827.8,1100.7L828.3,1099.3L828.8,1097.7L829.2,1096.8L829.5,1093.9L829.8,1093.0L830.1,1091.6L830.4,1090.1L830.8,1088.2L831.1,1086.3L831.3,1083.9L831.6,1082.8L831.8,1082.0L832.0,1079.6L832.2,1078.7L832.4,1077.4L832.6,1075.6L832.8,1074.2L833.0,1073.7L833.2,1071.5L833.4,1069.4L833.6,1069.5L833.8,1068.3L833.9,1065.1L834.1,1064.6L834.3,1061.7L834.4,1060.4L834.6,1058.6L834.8,1058.1L834.9,1056.3L835.1,1055.3L835.2,1053.3L835.4,1051.9L835.5,1050.6L835.6,1048.4L835.8,1046.0L835.9,1044.4L836.0,1044.5L836.1,1042.9L836.2,1041.0L836.3,1040.2L836.4,1038.3L836.5,1035.8L836.5,1033.8L836.6,1032.7L836.7,1032.2L836.8,1030.5L836.8,1027.0L836.9,1025.4L836.9,1024.7L837.0,1024.2L837.1,1022.5L837.1,1020.8L837.2,1017.6L837.2,1016.3L837.3,1016.0L837.4,1013.7L837.4,1012.0L837.5,1011.9L837.5,1008.3L837.6,1007.9L837.7,1007.4L837.8,1005.6L837.8,1004.7L837.9,1002.0L838.0,1001.3L838.1,1001.0L838.2,997.4L838.4,996.3L838.5,995.9L838.7,992.5L838.8,992.3L839.0,990.8L839.1,988.3L839.3,988.4L839.5,986.5L839.6,983.6L839.8,984.0L840.0,982.3L840.2,979.8L840.4,977.2L840.6,977.4L840.8,975.6L841.0,974.4L841.2,971.5L841.3,970.8L841.5,970.0L841.7,968.2L841.9,965.4L842.1,964.1L842.4,962.8L842.6,961.2L842.8,960.8L843.0,959.1L843.3,955.5L843.5,955.3L843.8,952.8L844.0,952.9L844.3,950.8L844.5,950.3L844.8,949.0L845.1,947.9L845.6,944.3L846.1,942.1L846.6,941.6L847.1,939.0L847.7,937.9L848.2,935.6L848.8,934.4L849.3,934.3L849.8,933.2L850.2,933.7L850.6,934.2L851.0,935.7L851.4,935.7L851.8,938.1L852.2,940.1L852.5,942.2L852.9,944.7L853.2,945.6L853.6,948.9L853.9,950.4L854.2,951.7L854.4,953.9L854.6,954.8L854.8,956.9L854.9,956.9L855.1,960.3L855.2,960.6L855.3,961.4L855.4,963.1L855.5,965.2L855.6,966.6L855.6,969.4L855.7,970.0L855.8,972.8L855.8,973.0L855.9,974.8L855.9,977.7L856.0,979.1L856.0,980.9L856.1,980.7L856.2,982.2L856.2,985.2L856.3,985.9L856.4,987.0L856.4,988.7L856.5,991.1L856.5,992.9L856.6,995.7L856.6,998.4L856.7,998.7L856.7,1002.1L856.8,1003.7L856.8,1006.3L856.8,1008.6L856.9,1010.3L857.0,1010.4L857.0,1013.4L857.1,1015.1L857.2,1015.6L857.2,1016.1L857.3,1018.8L857.4,1019.4L857.6,1020.3L857.7,1020.7L857.9,1020.8L858.1,1019.1L858.4,1020.4L858.7,1019.4L859.1,1016.7L859.4,1016.0L859.8,1014.5L860.1,1011.4L860.5,1009.1L860.8,1007.5L861.1,1005.8L861.4,1002.9L861.6,1002.4L861.7,1001.8L861.8,999.3L862.0,999.2L862.1,996.3L862.2,995.9L862.3,995.1L862.4,992.8L862.5,991.1L862.6,989.6L862.7,988.3L862.8,986.9L862.9,985.4L863.0,983.5L863.1,982.7L863.2,980.3L863.2,978.8L863.3,977.7L863.4,977.0L863.5,974.0L863.5,972.2L863.6,971.8L863.7,969.8L863.8,967.1L863.8,967.3L863.9,964.0L864.0,963.3L864.1,960.8L864.2,960.5L864.3,957.8L864.3,956.8L864.4,955.6L864.5,953.8L864.6,951.4L864.7,949.9L864.8,949.0L864.9,947.4L865.0,946.2L865.1,943.2L865.2,941.6L865.2,939.9L865.3,940.0L865.4,937.0L865.5,936.6L865.6,934.3L865.7,933.7L865.8,931.4L865.8,930.1L865.9,926.8L866.0,926.9L866.1,924.1L866.2,921.7L866.3,921.8L866.4,918.8L866.5,918.1L866.6,915.1L866.7,914.4L866.7,912.9L866.8,911.3L866.9,910.6L867.0,907.9L867.1,907.8L867.3,904.7L867.4,905.0L867.5,902.1L867.6,901.6L867.7,900.9L867.8,899.0L867.9,898.2L868.0,895.3L868.2,896.1L868.3,892.9L868.4,893.3L868.7,891.4L869.0,889.1L869.3,886.8L869.6,884.4L869.9,883.2L870.2,879.8L870.6,879.8L870.9,878.4L871.2,876.3L871.5,876.7L871.8,876.8L872.1,876.7L872.4,879.2L872.7,880.3L872.9,881.5L873.2,881.5L873.5,884.8L873.8,887.1L874.1,888.6L874.4,891.1L874.6,893.2L874.9,894.6L875.2,896.7L875.4,897.5L875.6,899.9L875.8,900.2L875.9,901.5L876.1,903.0L876.3,904.4L876.4,905.3L876.6,907.0L876.7,908.8L876.9,910.2L877.0,911.3L877.2,914.4L877.3,916.2L877.5,916.7L877.6,919.2L877.8,921.1L877.9,920.9L878.0,923.7L878.2,925.3L878.3,926.0L878.4,929.2L878.6,930.6L878.7,931.6L878.9,933.2L879.0,935.4L879.2,935.3L879.3,938.6L879.5,939.3L879.6,940.4L879.8,941.8L879.9,944.0L880.1,944.6L880.2,947.7L880.3,948.4L880.5,951.0L880.6,952.7L880.8,953.9L880.9,954.0L881.1,955.8L881.2,958.2L881.4,960.5L881.5,961.3L881.7,962.3L881.8,964.7L882.0,965.5L882.1,967.2L882.3,968.4L882.4,970.9L882.6,971.6L882.7,971.8L882.9,974.4L883.0,975.1L883.2,975.9L883.4,978.4L883.6,979.6L883.8,982.8L884.0,982.8L884.2,985.2L884.4,985.6L884.6,987.8L884.8,990.1L885.0,991.3L885.3,993.1L885.5,994.3L885.8,995.7L886.0,996.2L886.3,998.8L886.7,1000.1L887.2,1000.6L887.6,1004.2L888.1,1004.2L888.7,1005.9L889.4,1006.9L890.2,1007.2L891.2,1004.8L892.2,1003.9L893.3,1002.9L894.4,1001.7L895.4,999.7L896.4,998.9L897.4,998.1L898.3,994.4L899.2,993.4L900.1,992.6L901.0,991.3L901.8,990.7L902.6,989.1L903.2,989.2L903.8,990.8L904.4,992.2L905.0,993.5L905.5,994.5L906.0,995.4L906.5,998.5L906.9,999.4L907.4,1000.8L907.7,1002.5L908.1,1004.9L908.4,1006.4L908.6,1008.2L908.8,1009.5L908.9,1011.1L909.0,1012.9L909.1,1013.5L909.2,1016.4L909.3,1017.6L909.3,1019.5L909.4,1020.5L909.4,1022.0L909.5,1024.2L909.6,1025.3L909.8,1026.1L909.9,1029.2L910.0,1029.6L910.1,1031.8L910.2,1035.0L910.3,1036.2L910.4,1037.4L910.5,1040.8L910.6,1041.7L910.7,1041.7L910.9,1043.4L911.0,1044.1L911.2,1044.2L911.3,1045.0L911.5,1043.4L911.7,1042.4L911.8,1043.1L912.0,1041.3L912.2,1039.7L912.4,1039.0L912.5,1036.8L912.7,1035.4L912.9,1032.3L913.1,1030.2L913.4,1028.3L913.6,1026.5L913.8,1024.7L914.0,1021.9L914.3,1020.8L914.5,1019.8L914.8,1017.7L915.1,1014.5L915.4,1013.9L915.7,1012.5L916.1,1009.4L916.4,1009.5L916.8,1007.0L917.2,1004.5L917.5,1002.5L917.9,1000.8L918.3,998.4L918.7,997.1L919.1,995.3L919.5,993.5L919.9,992.5L920.3,990.6L920.6,991.1L921.0,989.8L921.3,989.7L921.6,989.6L921.9,991.4L922.2,991.4L922.5,992.7L922.8,993.8L923.1,995.3L923.4,996.4L923.7,997.9L924.0,1000.8L924.3,1002.6L924.5,1003.3L924.8,1005.2L925.0,1007.6L925.3,1010.6L925.5,1011.4L925.8,1013.0L926.0,1015.2L926.1,1016.7L926.3,1018.4L926.4,1019.1L926.6,1020.8L926.7,1023.6L926.8,1024.6L926.9,1025.0L927.0,1027.2L927.1,1028.0L927.2,1031.4L927.3,1031.4L927.4,1034.5L927.5,1034.5L927.6,1036.1L927.6,1038.0L927.7,1039.5L927.8,1041.2L927.9,1042.8L928.0,1044.4L928.2,1045.2L928.3,1047.9L928.4,1049.4L928.6,1049.8L928.7,1051.0L928.9,1052.1L929.1,1053.7L929.3,1056.2L929.6,1058.2L929.8,1060.6L930.1,1062.0L930.3,1062.1L930.6,1063.9L930.9,1065.3L931.2,1066.6L931.6,1067.9L932.0,1070.5L932.5,1072.8L933.1,1074.3L933.7,1073.6L934.5,1075.4L935.4,1077.0L936.3,1079.4L937.3,1079.0L938.3,1081.0L939.4,1083.2L940.6,1084.2L941.8,1084.0L943.0,1085.9L944.2,1087.4L945.4,1087.2L946.6,1089.9L947.7,1090.6L949.0,1090.9L950.2,1091.9L951.4,1092.4L952.7,1095.3L954.0,1094.7L955.3,1096.5L956.6,1097.7L957.9,1098.4L959.3,1099.6L960.6,1099.2L961.9,1100.8L963.3,1100.4L964.8,1102.1L966.3,1102.8L967.9,1102.6L969.4,1103.6L971.0,1103.9L972.6,1102.7L974.2,1103.4L975.7,1103.5L977.3,1104.6L978.8,1104.9L980.4,1103.4L982.1,1104.5L983.8,1102.4L985.5,1102.3L987.1,1102.5L988.7,1100.6L990.3,1101.3L991.8,1099.0L993.2,1099.2L994.4,1100.3L996.3,1100.1L998.0,1099.5L1000.0,1101.0L1001.0,1101.4L1002.2,1100.7L1003.4,1103.1L1004.7,1101.6L1006.0,1104.1L1007.5,1104.1L1009.0,1104.5L1010.5,1104.4L1012.1,1104.7L1013.7,1105.7L1015.3,1107.3L1016.9,1105.9L1018.6,1107.2L1020.2,1107.9L1021.8,1109.0L1023.2,1108.7L1024.6,1109.6L1026.0,1109.3L1027.4,1109.0L1028.9,1110.3L1030.4,1108.6L1031.9,1110.4L1033.4,1109.0L1035.0,1109.3L1036.5,1109.5L1038.1,1110.5L1039.6,1111.5L1041.2,1111.6L1042.8,1111.4L1044.3,1111.0L1045.9,1110.9L1047.4,1111.4L1049.0,1111.2L1050.5,1111.7L1052.1,1112.1L1053.6,1110.9L1055.1,1112.8L1056.6,1111.0L1058.1,1112.6L1059.7,1110.7L1061.2,1110.5L1062.7,1112.5L1064.2,1111.0L1065.7,1111.0L1067.2,1111.7L1068.7,1110.1L1070.3,1111.1L1071.8,1111.5L1073.3,1110.5L1074.8,1109.4L1076.3,1109.5L1077.8,1111.0L1079.4,1109.5L1080.9,1110.6L1082.4,1110.4L1083.9,1110.7L1085.4,1110.5L1086.9,1110.4L1088.4,1111.1L1090.0,1111.1L1091.5,1110.2L1093.0,1110.1L1094.5,1111.4L1096.0,1111.6L1097.5,1112.1L1099.0,1111.5L1100.6,1113.4L1102.1,1112.8L1103.6,1112.7L1105.1,1112.5L1106.6,1112.8L1108.1,1113.3L1109.6,1114.5L1111.1,1114.3L1112.7,1115.4L1114.2,1114.6L1115.7,1116.1L1117.2,1116.6L1118.7,1116.2L1120.2,1116.8L1121.7,1116.0L1123.3,1116.7L1124.8,1116.8L1126.3,1117.2L1127.8,1118.8L1129.3,1117.7L1130.8,1119.4L1132.3,1119.2L1133.8,1118.5L1135.4,1119.1L1136.9,1119.4L1138.4,1119.8L1139.9,1121.1L1141.4,1120.7L1142.9,1120.6L1144.4,1121.0L1146.0,1120.7L1147.5,1120.4L1149.0,1121.1L1150.5,1122.1L1152.0,1122.1L1153.4,1120.5L1154.9,1121.8L1156.3,1122.1L1157.8,1121.8L1159.2,1122.4L1160.6,1120.9L1162.0,1120.6L1163.5,1121.0L1164.9,1120.1L1166.4,1121.8L1167.9,1120.8L1169.4,1121.2L1170.9,1120.8L1172.5,1120.8L1174.1,1120.4L1175.7,1121.3L1177.3,1121.5L1179.1,1121.7L1180.8,1120.8L1182.1,1120.7L1183.4,1121.0L1184.7,1121.9L1186.0,1120.6L1187.4,1120.0L1188.8,1121.1L1190.2,1122.0L1191.7,1120.5L1193.2,1121.1L1194.6,1121.8L1196.1,1122.0L1197.7,1121.4L1199.2,1122.5L1200.7,1122.8L1202.3,1122.7L1203.8,1123.2L1205.4,1121.7L1207.0,1122.5L1208.6,1122.7L1210.2,1122.6L1211.8,1123.0L1213.4,1124.3L1215.0,1124.0L1216.6,1123.0L1218.2,1124.3L1219.9,1124.3L1221.5,1123.6L1223.1,1124.0L1224.7,1123.7L1226.3,1124.5L1227.8,1125.3L1229.4,1124.6L1231.0,1124.6L1232.5,1124.6L1234.1,1126.4L1235.6,1124.9L1237.1,1125.5L1238.6,1125.1L1240.1,1125.8L1241.5,1126.5L1243.0,1126.8L1244.4,1126.3L1246.0,1127.1L1247.7,1125.8L1249.3,1126.8L1250.9,1126.2L1252.5,1126.0L1254.1,1126.4L1255.6,1126.0L1257.2,1127.0L1258.7,1126.1L1260.3,1127.3L1261.8,1127.5L1263.4,1125.9L1264.9,1126.8L1266.4,1127.4L1267.9,1127.5L1269.4,1127.5L1270.9,1126.2L1272.4,1127.8L1273.9,1126.5L1275.4,1126.3L1277.0,1128.0L1278.5,1127.3L1280.0,1126.8L1281.5,1126.7L1283.0,1127.3L1284.5,1127.9L1286.0,1126.6L1287.5,1127.7L1289.0,1127.5L1290.6,1128.5L1292.1,1127.5L1293.6,1127.0L1295.2,1127.9L1296.8,1126.9L1298.3,1126.9L1299.9,1128.6L1301.5,1127.9L1303.1,1127.4L1304.6,1127.1L1306.2,1127.0L1307.8,1127.6L1309.4,1127.6L1311.0,1128.7L1312.6,1127.6L1314.2,1127.4L1315.8,1127.7L1317.3,1127.2L1318.9,1127.6L1320.5,1127.4L1322.0,1127.0L1323.6,1127.3L1325.1,1128.2L1326.7,1126.7L1328.2,1127.8L1329.7,1128.5L1331.2,1127.8L1332.7,1127.5L1334.1,1128.4L1335.6,1128.1L1337.0,1127.3L1338.4,1126.6L1339.8,1128.6L1341.5,1127.6L1343.1,1127.4L1344.7,1126.7L1346.3,1127.2L1347.8,1128.4L1349.4,1128.2L1350.9,1127.3L1352.4,1128.6L1353.9,1128.7L1355.4,1127.3L1356.9,1128.5L1358.3,1128.0L1359.8,1128.1L1361.3,1128.0L1362.7,1128.6L1364.2,1127.8L1365.6,1129.8L1367.1,1128.1L1368.6,1130.1L1370.1,1128.1L1371.6,1129.1L1373.1,1129.0L1374.6,1130.7L1376.1,1129.5L1377.5,1131.1L1378.9,1130.0L1380.4,1129.7L1381.8,1130.5L1383.2,1130.0L1384.7,1131.2L1386.1,1130.8L1387.5,1131.1L1389.0,1131.2L1390.5,1131.9L1392.0,1133.6L1393.5,1132.9L1395.1,1133.3L1396.7,1134.0L1398.3,1133.3L1399.9,1134.1L1401.6,1132.8L1403.4,1134.2L1404.7,1135.0L1406.0,1134.0L1407.3,1133.6L1408.7,1135.5L1410.1,1135.3L1411.5,1134.4L1413.0,1134.1L1414.5,1134.8L1416.0,1135.1L1417.5,1134.7L1419.0,1136.1L1420.6,1135.6L1422.2,1136.2L1423.8,1135.7L1425.4,1136.7L1427.0,1136.1L1428.6,1135.9L1430.3,1135.9L1431.9,1136.8L1433.5,1136.4L1435.2,1136.3L1436.8,1135.5L1438.5,1137.2L1440.1,1136.8L1441.7,1137.6L1443.4,1136.3L1445.0,1136.0L1446.6,1135.7L1448.2,1136.4L1449.8,1136.8L1451.3,1136.3L1452.9,1137.4L1454.4,1136.2L1455.9,1137.9L1457.4,1136.2L1458.9,1136.3L1460.3,1136.2L1461.7,1137.7L1463.1,1138.0L1464.4,1137.6L1465.7,1136.6L1467.0,1137.9L1468.7,1137.7L1470.5,1136.7L1472.1,1138.1L1473.7,1137.8L1475.3,1136.7L1476.9,1137.3L1478.4,1136.1L1479.9,1136.3L1481.4,1136.2L1482.9,1137.8L1484.3,1136.9L1485.7,1137.2L1487.2,1137.9L1488.6,1136.4L1490.0,1136.1L1491.5,1136.3L1492.9,1137.7L1494.4,1136.3L1495.8,1135.7L1497.3,1135.7L1498.8,1136.3L1500.3,1137.4L1501.8,1135.9L1503.2,1137.1L1504.7,1136.1L1506.1,1137.5L1507.6,1136.6L1509.0,1135.7L1510.4,1135.9L1511.9,1136.3L1513.3,1136.0L1514.7,1136.0L1516.2,1137.1L1517.7,1135.0L1519.2,1135.7L1520.7,1136.5L1522.3,1136.8L1523.9,1136.7L1525.5,1135.6L1527.1,1135.5L1528.8,1136.6L1530.6,1135.9L1531.9,1136.7L1533.2,1134.8L1534.6,1136.2L1536.0,1136.1L1537.4,1136.7L1538.9,1135.0L1540.4,1135.8L1542.0,1136.3L1543.6,1135.4L1545.2,1134.7L1546.8,1135.9L1548.4,1134.8L1550.1,1134.8L1551.8,1136.6L1553.4,1135.4L1555.1,1136.5L1556.9,1136.5L1558.6,1134.7L1560.3,1134.9L1562.0,1136.0L1563.7,1134.7L1565.4,1134.6L1567.1,1134.5L1568.8,1136.2L1570.4,1136.3L1572.1,1136.2L1573.7,1135.1L1575.3,1134.8L1576.9,1135.4L1578.5,1134.3L1580.0,1134.6L1581.5,1136.2L1583.0,1136.3L1584.4,1134.9L1585.8,1134.5L1587.2,1135.3L1588.5,1135.9L1589.7,1135.1L1590.9,1135.0L1592.1,1135.2L1593.2,1135.2L1594.2,1134.2L1596.2,1134.2L1598.1,1134.3L1599.8,1134.2L1601.4,1135.2L1602.9,1133.2L1604.3,1132.7L1605.7,1133.6L1607.1,1134.3L1608.6,1133.9L1610.1,1131.7L1611.6,1133.1L1613.1,1132.4L1614.6,1130.3L1616.2,1129.5L1617.7,1128.7L1619.2,1128.6L1620.7,1128.0L1622.1,1126.6L1623.5,1126.7L1624.8,1126.4L1626.0,1125.3L1627.9,1126.3L1629.7,1125.4L1631.3,1126.5L1633.0,1126.3L1634.3,1126.7L1635.5,1128.3L1636.8,1129.5L1638.2,1129.6L1640.0,1129.2L1641.0,1129.5L1642.1,1131.1L1643.2,1130.5L1644.5,1130.0L1645.8,1130.3L1647.1,1129.7L1648.6,1130.7L1650.1,1129.4L1651.6,1131.1L1653.2,1129.7L1654.8,1130.0L1656.4,1131.3L1658.1,1129.2L1659.8,1129.7L1661.5,1130.2L1663.2,1130.2L1664.9,1130.5L1666.6,1130.4L1668.3,1129.6L1670.0,1130.2L1671.7,1129.0L1673.3,1130.2L1674.8,1130.3L1676.2,1128.5L1677.7,1130.2L1679.2,1129.3L1680.7,1128.8L1682.3,1128.9L1683.8,1129.2L1685.4,1130.4L1686.9,1130.6L1688.5,1130.1L1690.1,1129.5L1691.7,1129.4L1693.3,1129.3L1694.8,1129.0L1696.4,1129.9L1698.0,1130.4L1699.6,1130.8L1701.2,1130.7L1702.8,1131.0L1704.3,1130.3L1705.9,1130.7L1707.5,1130.5L1709.0,1130.6L1710.6,1130.9L1712.1,1129.4L1713.6,1129.3L1715.1,1129.7L1716.6,1130.1L1718.2,1130.2L1719.8,1129.3L1721.4,1130.6L1723.0,1130.5L1724.6,1129.9L1726.2,1131.1L1727.9,1129.7L1729.5,1129.8L1731.1,1131.2L1732.7,1129.6L1734.3,1129.4L1735.9,1129.1L1737.4,1129.7L1739.0,1130.2L1740.5,1129.7L1742.0,1130.1L1743.5,1130.2L1744.9,1130.0L1746.3,1130.9L1747.7,1130.3L1749.0,1128.8L1750.3,1130.6L1751.5,1130.1L1752.7,1130.2L1754.6,1130.4L1756.4,1130.4L1758.0,1129.0L1759.6,1129.4L1761.1,1130.0L1762.6,1129.7L1764.1,1130.1L1765.6,1129.1L1767.1,1129.3L1768.5,1128.2L1769.9,1127.6L1771.3,1127.8L1772.7,1126.7L1774.2,1125.9L1775.6,1125.3L1776.9,1124.4L1778.2,1123.5L1779.4,1122.7L1780.6,1122.1L1781.6,1120.2L1782.6,1119.6L1783.6,1119.0L1784.4,1117.0L1785.2,1116.6L1785.9,1114.1L1786.5,1113.0L1787.1,1111.4L1787.7,1109.5L1788.3,1108.2L1788.8,1107.4L1789.2,1106.2L1789.5,1103.1L1789.8,1103.3L1790.1,1101.5L1790.4,1099.8L1790.7,1097.7L1790.9,1096.4L1791.1,1095.3L1791.3,1093.1L1791.5,1093.1L1791.7,1091.6L1791.9,1090.2L1792.1,1086.6L1792.2,1085.2L1792.4,1085.3L1792.6,1082.8L1792.8,1080.4L1792.9,1079.8L1793.1,1077.8L1793.2,1076.7L1793.4,1075.6L1793.5,1072.7L1793.6,1071.3L1793.8,1070.6L1793.9,1069.8L1794.0,1067.3L1794.1,1065.9L1794.2,1064.0L1794.3,1061.4L1794.4,1061.7L1794.5,1059.3L1794.6,1056.9L1794.7,1055.0L1794.8,1054.2L1794.8,1053.4L1794.9,1051.8L1795.0,1050.2L1795.1,1048.9L1795.2,1046.6L1795.3,1044.2L1795.4,1042.5L1795.5,1041.8L1795.6,1040.0L1795.7,1038.0L1795.8,1038.1L1795.9,1034.7L1796.0,1033.6L1796.1,1032.0L1796.3,1031.0L1796.4,1029.8L1796.5,1027.0L1796.7,1025.4L1796.8,1024.8L1796.9,1023.6L1797.1,1021.1L1797.2,1020.4L1797.4,1018.2L1797.5,1016.4L1797.7,1014.5L1797.8,1012.9L1798.0,1011.8L1798.1,1011.6L1798.3,1009.7L1798.5,1008.5L1798.7,1007.6L1798.9,1006.3L1799.2,1003.3L1799.6,1001.2L1799.9,999.1L1800.3,998.9L1800.6,996.3L1801.0,996.2L1801.5,995.0L1802.0,992.3L1803.1,991.6L1804.2,988.6L1805.4,988.2L1806.3,989.4L1807.3,988.9L1808.2,990.9L1809.0,992.6L1809.5,995.1L1809.9,996.6L1810.3,997.0L1810.7,997.8L1811.0,1000.9L1811.3,1001.4L1811.6,1003.9L1811.9,1006.5L1812.1,1007.3L1812.3,1008.3L1812.5,1009.6L1812.6,1010.8L1812.8,1012.3L1813.0,1013.6L1813.1,1015.7L1813.3,1017.7L1813.4,1017.3L1813.5,1019.3L1813.7,1021.9L1813.8,1023.9L1814.0,1024.9L1814.1,1026.2L1814.2,1027.4L1814.4,1029.9L1814.5,1030.2L1814.7,1032.2L1814.8,1035.0L1814.9,1035.9L1815.1,1037.7L1815.2,1038.4L1815.3,1039.8L1815.4,1043.1L1815.5,1043.3L1815.5,1045.8L1815.6,1047.7L1815.7,1049.0L1815.8,1050.5L1815.9,1052.6L1816.1,1054.2L1816.2,1054.7L1816.4,1056.7L1816.6,1058.9L1816.8,1060.0L1817.0,1060.5L1817.3,1062.2L1817.6,1063.0L1818.4,1064.0L1819.3,1065.5L1820.3,1068.1L1821.2,1069.1L1822.0,1070.0L1822.4,1071.4L1822.7,1072.2L1822.9,1073.2L1823.1,1075.2L1823.3,1076.9L1823.4,1078.6L1823.5,1079.6L1823.7,1082.8L1823.8,1083.7L1823.9,1084.4L1824.1,1087.5L1824.3,1088.0L1824.6,1090.9L1824.9,1092.0L1825.2,1093.6L1825.5,1094.8L1825.9,1097.5L1826.2,1097.9L1826.5,1099.1L1826.9,1101.7L1827.3,1103.7L1827.7,1104.3L1828.1,1106.5L1828.5,1108.5L1829.0,1108.6L1829.5,1111.6L1830.1,1111.7L1830.7,1113.3L1831.4,1113.8L1832.1,1115.8L1833.4,1116.7L1834.8,1117.3L1836.3,1118.1L1837.9,1119.7L1839.5,1119.2L1840.9,1119.1L1842.2,1118.5L1843.2,1119.8L1844.2,1119.0L1845.1,1117.7L1845.9,1116.8L1846.7,1114.0L1847.5,1113.3L1848.1,1110.9L1848.8,1108.1L1849.4,1106.2L1849.6,1105.2L1849.9,1104.2L1850.1,1103.1L1850.3,1102.2L1850.4,1102.4L1850.6,1099.4L1850.8,1099.1L1850.9,1098.5L1851.0,1097.3L1851.2,1094.4L1851.3,1094.7L1851.4,1092.3L1851.5,1091.6L1851.6,1090.0L1851.6,1089.1L1851.7,1087.8L1851.7,1085.9L1851.8,1083.1L1851.8,1081.8L1851.9,1080.2L1851.9,1078.2L1851.9,1076.9L1852.0,1075.2L1852.0,1075.2L1852.0,1072.8L1852.0,1071.7L1852.0,1070.2L1852.0,1068.2L1852.0,1066.3L1852.0,1063.7L1852.0,1061.9L1852.0,1060.4L1852.0,1059.7L1852.0,1056.8L1852.0,1055.5L1852.0,1054.4L1852.0,1051.2L1852.0,1050.7L1852.0,1047.7L1852.0,1046.5L1852.0,1045.8L1852.1,1044.1L1852.1,1043.2L1852.1,1040.9L1852.2,1039.8L1852.2,1038.0L1852.2,1035.2L1852.3,1035.3L1852.4,1031.8L1852.4,1031.8L1852.5,1029.5L1852.5,1027.6L1852.6,1026.2L1852.7,1025.6L1852.7,1024.4L1852.8,1021.9L1852.8,1021.2L1852.9,1018.4L1853.0,1018.0L1853.0,1016.6L1853.1,1014.5L1853.2,1012.2L1853.2,1010.4L1853.3,1008.5L1853.3,1008.4L1853.4,1006.9L1853.5,1004.0L1853.5,1002.2L1853.6,1002.3L1853.6,1000.6L1853.7,998.3L1853.8,995.7L1853.8,995.8L1853.9,993.0L1854.0,992.1L1854.0,989.8L1854.1,989.7L1854.1,987.6L1854.2,984.8L1854.3,984.7L1854.3,982.2L1854.4,981.9L1854.4,979.3L1854.5,978.4L1854.6,977.1L1854.6,975.0L1854.7,973.0L1854.7,972.1L1854.8,970.0L1854.9,970.2L1854.9,967.7L1855.0,965.6L1855.0,965.2L1855.1,963.8L1855.1,962.9L1855.2,961.1L1855.3,958.5L1855.3,956.5L1855.4,956.8L1855.5,954.0L1855.5,951.6L1855.6,949.3L1855.7,948.3L1855.7,946.5L1855.8,944.0L1855.9,941.1L1855.9,939.3L1856.0,938.5L1856.0,935.5L1856.1,934.1L1856.2,930.8L1856.2,930.2L1856.3,929.1L1856.4,927.3L1856.4,925.7L1856.5,923.1L1856.6,921.6L1856.6,920.7L1856.7,919.3L1856.8,918.7L1856.9,917.3L1856.9,917.7L1857.0,917.2L1857.1,915.5L1857.2,915.8L1857.3,916.2L1857.4,916.4L1857.5,915.6L1857.6,915.7L1857.7,915.6L1857.8,916.4L1857.9,918.3L1858.1,918.5L1858.2,920.4L1858.3,922.5L1858.4,922.7L1858.5,924.6L1858.7,927.1L1858.8,927.7L1858.9,930.2L1859.1,932.3L1859.2,932.7L1859.3,934.4L1859.5,937.5L1859.6,938.9L1859.7,940.3L1859.8,942.5L1860.0,945.3L1860.1,946.6L1860.2,949.3L1860.3,950.5L1860.5,952.4L1860.6,954.4L1860.7,957.4L1860.8,957.9L1860.9,959.6L1861.0,961.1L1861.1,963.8L1861.2,965.6L1861.2,965.7L1861.3,968.7L1861.4,969.4L1861.5,970.4L1861.5,971.9L1861.6,974.2L1861.7,975.2L1861.7,977.0L1861.8,977.3L1861.9,979.7L1861.9,981.8L1862.0,982.3L1862.0,983.8L1862.1,985.4L1862.2,986.8L1862.2,988.7L1862.3,990.1L1862.3,991.2L1862.4,993.8L1862.5,995.3L1862.5,997.4L1862.6,998.2L1862.6,1001.3L1862.7,1001.2L1862.7,1003.5L1862.8,1004.2L1862.8,1006.7L1862.9,1008.0L1862.9,1009.8L1863.0,1010.8L1863.1,1012.8L1863.1,1014.9L1863.2,1015.6L1863.2,1017.1L1863.3,1018.3L1863.3,1020.4L1863.4,1021.4L1863.4,1023.9L1863.5,1024.9L1863.5,1025.7L1863.6,1028.1L1863.6,1030.2L1863.7,1030.5L1863.7,1031.7L1863.8,1033.3L1863.8,1034.4L1863.9,1037.2L1863.9,1038.0L1863.9,1038.9L1864.0,1042.1L1864.0,1044.0L1864.0,1045.6L1864.0,1048.1L1864.0,1050.5L1864.0,1051.7L1863.9,1053.2L1863.9,1054.6L1863.9,1057.2L1864.0,1059.5L1864.0,1059.8L1864.0,1063.4L1864.1,1064.1L1864.1,1064.8L1864.2,1066.5L1864.3,1068.0L1864.5,1068.6L1864.6,1069.0L1864.8,1070.6L1865.0,1070.8L1865.3,1071.5L1866.0,1069.5L1866.9,1068.1L1867.9,1064.8L1868.8,1063.5L1869.6,1063.9L1870.0,1064.4L1870.4,1064.9L1870.8,1064.5L1871.1,1066.0L1871.4,1068.3L1871.7,1070.6L1872.0,1071.0L1872.3,1072.7L1872.6,1075.1L1872.9,1077.2L1873.1,1078.9L1873.4,1080.6L1873.6,1082.7L1873.9,1085.8L1874.1,1087.1L1874.4,1088.8L1874.6,1089.9L1874.7,1091.5L1874.9,1093.0L1875.1,1094.4L1875.2,1095.7L1875.4,1097.0L1875.6,1099.6L1875.8,1100.8L1876.1,1102.2L1876.4,1104.7L1876.8,1104.0L1877.4,1105.9L1878.1,1109.0L1878.8,1109.9L1879.5,1111.6L1880.4,1112.6L1881.3,1113.5L1882.6,1113.5L1883.9,1112.5L1885.4,1111.3L1886.9,1110.8L1888.1,1110.4L1889.4,1112.6L1890.8,1113.6L1892.1,1115.5L1893.4,1115.4L1894.7,1118.1L1895.9,1118.3L1897.1,1115.9L1898.2,1116.3L1899.3,1114.5L1900.3,1110.8L1901.4,1109.9L1902.6,1109.5L1904.2,1110.2L1905.9,1110.6L1907.7,1110.0L1909.4,1112.5L1910.5,1113.3L1911.7,1113.0L1912.8,1116.3L1913.9,1116.5L1915.0,1117.5L1916.1,1120.0L1917.3,1120.8L1918.4,1121.8L1919.7,1119.9L1921.1,1119.2L1922.4,1118.2L1923.7,1118.4L1925.0,1116.9L1926.3,1116.1L1927.7,1114.5L1929.1,1113.3L1930.4,1111.6L1931.7,1109.9L1933.0,1110.0L1934.1,1110.0L1935.2,1111.8L1936.3,1111.7L1937.4,1113.8L1938.6,1115.4L1939.8,1118.0L1941.0,1117.3L1942.2,1119.6L1943.5,1121.5L1944.8,1121.9L1946.1,1122.7L1947.5,1122.1L1948.8,1122.9L1950.3,1121.7L1951.8,1121.8L1953.3,1119.8L1954.8,1119.3L1956.3,1118.8L1957.8,1119.0L1959.1,1118.3L1960.4,1120.1L1961.6,1120.6L1962.9,1121.9L1964.2,1122.9L1965.6,1124.1L1967.1,1124.0L1968.7,1124.5L1970.5,1124.2L1972.2,1124.1L1973.9,1124.0L1975.5,1122.3L1976.9,1122.3L1978.3,1121.8L1979.5,1122.1L1980.7,1121.0L1981.8,1119.7L1982.8,1117.6L1983.6,1116.9L1984.0,1115.7L1984.4,1114.2L1984.6,1112.1L1984.8,1112.1L1985.0,1108.7L1985.1,1108.1L1985.1,1106.8L1985.2,1105.1L1985.2,1102.8L1985.2,1100.9L1985.3,1099.4L1985.4,1098.7L1985.5,1097.6L1985.7,1096.1L1985.9,1093.6L1986.3,1092.1L1986.7,1089.4L1987.2,1087.7L1987.7,1085.5L1988.2,1084.9L1988.7,1082.8L1989.3,1081.2L1989.8,1080.9L1990.4,1080.7L1991.3,1080.3L1992.2,1083.6L1993.1,1083.5L1994.0,1086.5L1994.9,1089.2L1995.6,1088.6L1996.2,1090.3L1996.8,1093.1L1997.4,1094.7L1998.0,1095.8L1998.7,1097.5L1999.4,1098.7L2000.1,1100.3L2000.9,1100.3L2001.7,1102.8L2002.6,1104.3L2003.4,1104.1L2004.2,1106.4L2005.0,1106.4L2005.7,1108.4L2006.3,1111.1L2006.9,1111.7L2007.6,1112.3L2008.2,1115.1L2008.8,1116.2L2009.4,1117.8L2010.0,1119.1L2010.7,1118.9L2011.8,1120.9L2012.8,1123.2L2013.9,1123.6L2015.2,1124.8L2016.3,1125.6L2017.6,1124.1L2019.0,1123.1L2020.4,1121.8L2021.7,1121.6L2023.0,1119.0L2024.0,1119.3L2025.0,1117.6L2026.0,1114.7L2027.0,1113.9L2028.0,1112.3L2028.9,1111.5L2029.9,1110.8L2030.9,1110.5L2031.9,1109.4L2032.9,1111.6L2033.9,1111.8L2034.9,1113.9L2035.9,1114.4L2036.8,1117.9L2037.8,1117.4L2038.8,1118.7L2039.9,1119.9L2041.0,1121.1L2042.0,1122.2L2043.1,1125.4L2044.2,1125.4L2045.5,1126.4L2046.8,1128.3L2048.2,1127.1L2049.6,1129.4L2051.1,1129.5L2052.6,1130.8L2054.2,1130.8L2055.7,1131.7L2057.0,1131.3L2058.4,1131.2L2059.7,1128.9L2061.1,1129.4L2062.5,1127.7L2063.9,1125.6L2065.3,1126.9L2066.6,1125.0L2068.0,1124.9L2069.2,1125.5L2070.5,1126.9L2071.8,1127.4L2073.1,1128.4L2074.3,1130.8L2075.6,1131.0L2076.8,1132.1L2078.0,1134.1L2079.2,1135.4L2080.4,1134.7L2081.5,1136.2L2082.9,1134.2L2084.4,1135.2L2085.8,1133.7L2087.2,1132.4L2088.4,1131.1L2089.5,1129.2L2090.5,1126.9L2091.0,1126.0L2091.4,1124.2L2091.8,1123.5L2092.0,1123.2L2092.2,1120.3L2092.4,1120.4L2092.5,1118.0L2092.6,1115.9L2092.6,1114.7L2092.7,1112.7L2092.8,1111.9L2092.8,1108.6L2092.9,1108.5L2093.1,1106.1L2093.3,1104.6L2093.5,1103.6L2093.8,1100.0L2094.1,1100.1L2094.5,1096.3L2094.9,1094.9L2095.3,1092.4L2095.7,1090.4L2096.1,1088.3L2096.5,1088.1L2096.9,1086.1L2097.3,1083.9L2097.7,1083.8L2098.1,1081.6L2098.5,1081.7L2098.8,1080.0L2099.1,1080.9L2099.4,1081.9L2099.8,1082.2L2100.1,1084.9L2100.4,1085.5L2100.7,1088.4L2100.9,1088.6L2101.2,1091.5L2101.5,1093.9L2101.8,1095.4L2102.1,1097.2L2102.3,1098.9L2102.6,1100.6L2102.9,1102.1L2103.2,1104.9L2103.6,1107.2L2103.9,1107.7L2104.2,1111.7L2104.5,1112.7L2104.9,1113.9L2105.2,1116.2L2105.5,1117.2L2105.8,1120.1L2106.1,1120.5L2106.4,1119.6L2106.6,1119.4L2106.8,1119.1L2107.0,1119.3L2107.1,1118.4L2107.3,1118.1L2107.5,1116.7L2107.6,1113.5L2107.8,1112.9L2108.0,1111.2L2108.1,1109.0L2108.3,1106.3L2108.4,1105.0L2108.6,1102.6L2108.8,1102.2L2108.9,1100.0L2109.1,1097.0L2109.3,1094.7L2109.5,1094.2L2109.7,1091.6L2109.9,1090.5L2110.1,1088.0L2110.3,1086.2L2110.5,1085.0L2110.8,1082.3L2111.2,1080.9L2111.6,1078.5L2111.9,1077.2L2112.3,1076.0L2112.7,1073.9L2113.1,1072.2L2113.5,1070.5L2113.9,1070.7L2114.3,1069.2L2114.7,1069.3L2115.1,1069.2L2115.5,1070.7L2116.0,1070.6L2116.4,1072.5L2116.9,1073.7L2117.3,1076.2L2117.8,1077.7L2118.2,1079.0L2118.6,1081.9L2119.0,1083.9L2119.4,1084.9L2119.7,1085.7L2120.0,1087.6L2120.2,1090.4L2120.4,1090.2L2120.7,1092.2L2120.9,1095.2L2121.1,1095.2L2121.3,1097.5L2121.5,1098.6L2121.7,1101.8L2121.9,1102.1L2122.1,1103.7L2122.4,1106.7L2122.6,1108.2L2122.9,1109.3L2123.2,1109.9L2123.5,1112.4L2123.8,1113.0L2124.0,1115.9L2124.3,1118.1L2124.6,1120.1L2125.0,1120.2L2125.3,1121.6L2125.8,1123.7L2126.3,1125.1L2126.9,1124.7L2127.6,1125.8L2129.0,1126.2L2130.6,1126.5L2132.4,1124.2L2134.1,1122.7L2135.8,1123.1L2136.9,1123.2L2138.0,1126.1L2139.0,1125.5L2140.1,1128.1L2141.1,1129.7L2142.2,1131.0L2143.2,1131.5L2144.2,1133.7L2145.2,1133.5L2146.2,1132.8L2147.2,1132.6L2148.2,1131.8L2149.1,1130.1L2150.1,1129.5L2151.1,1126.0L2152.0,1125.0L2152.9,1123.3L2153.8,1123.0L2154.6,1120.0L2155.3,1120.0L2155.9,1116.8L2156.6,1115.8L2157.2,1113.0L2157.7,1111.7L2158.3,1110.9L2158.8,1109.2L2159.4,1107.0L2159.9,1105.4L2160.5,1104.1L2161.0,1104.6L2161.6,1103.8L2162.3,1104.1L2163.0,1104.3L2163.8,1105.8L2164.5,1108.1L2165.2,1108.5L2166.0,1110.9L2166.7,1113.6L2167.5,1113.8L2168.2,1115.9L2168.9,1117.7L2169.6,1118.9L2170.3,1121.7L2171.0,1121.7L2171.8,1123.0L2172.6,1125.6L2173.5,1126.4L2174.5,1126.2L2175.9,1126.8L2177.5,1126.7L2179.2,1127.0L2180.9,1125.5L2182.5,1125.1L2183.9,1125.1L2185.1,1123.2L2186.3,1122.5L2187.4,1121.2L2188.4,1118.5L2189.3,1117.0L2190.2,1116.2L2191.0,1114.2L2191.4,1112.6L2191.8,1111.6L2192.1,1111.3L2192.3,1109.3L2192.5,1108.5L2192.7,1106.7L2192.9,1105.4L2193.0,1103.6L2193.1,1102.0L2193.2,1100.0L2193.3,1097.2L2193.4,1096.5L2193.5,1093.8L2193.6,1093.2L2193.7,1091.3L2193.9,1089.4L2194.0,1088.1L2194.3,1085.9L2194.5,1086.2L2194.9,1083.9L2195.3,1081.3L2195.8,1080.1L2196.2,1076.4L2196.7,1074.0L2197.2,1073.3L2197.7,1070.7L2198.2,1069.9L2198.7,1069.9L2199.2,1070.0L2199.6,1068.8L2200.0,1071.3L2200.5,1070.2L2200.9,1071.7L2201.3,1074.9L2201.8,1075.5L2202.2,1076.5L2202.6,1080.0L2203.1,1081.5L2203.5,1083.2L2203.9,1086.6L2204.3,1088.1L2204.7,1089.4L2205.1,1091.8L2205.4,1092.1L2205.8,1093.7L2206.1,1096.4L2206.4,1098.2L2206.7,1099.1L2207.0,1101.8L2207.3,1104.6L2207.6,1106.0L2207.9,1106.9L2208.2,1108.6L2208.5,1111.3L2208.8,1111.2L2209.1,1112.2L2209.5,1112.4L2209.8,1113.0L2210.2,1113.5L2210.6,1112.3L2211.0,1111.1L2211.3,1110.3L2211.7,1107.0L2212.1,1106.0L2212.5,1103.5L2213.0,1102.5L2213.4,1100.0L2213.9,1097.7L2214.5,1097.8L2215.5,1095.4L2216.5,1094.3L2217.6,1091.5L2218.7,1090.0L2219.7,1090.2L2220.3,1091.9L2220.9,1092.6L2221.4,1092.4L2221.9,1094.9L2222.4,1096.1L2223.0,1098.5L2223.5,1099.0L2224.0,1100.5L2224.5,1103.2L2225.0,1105.9L2225.6,1107.2L2226.2,1108.5L2226.8,1110.2L2227.4,1111.2L2228.0,1113.0L2228.7,1114.6L2229.3,1117.4L2230.0,1117.5L2230.6,1120.8L2231.3,1121.4L2232.1,1123.6L2232.8,1123.9L2233.6,1126.3L2234.4,1126.1L2235.6,1126.7L2236.9,1129.0L2238.2,1130.6L2239.6,1131.8L2241.1,1132.3L2242.6,1131.7L2244.2,1132.9L2245.8,1132.5L2247.6,1133.7L2249.4,1134.0L2251.2,1133.9L2252.9,1133.2L2254.4,1132.7L2255.7,1130.8L2257.0,1130.7L2258.2,1130.3L2259.3,1129.2L2260.4,1127.7L2261.5,1126.9L2262.6,1124.5L2263.8,1124.8L2264.9,1121.3L2266.0,1119.8L2267.1,1120.3L2268.3,1117.7L2269.6,1117.9L2270.8,1119.0L2272.1,1119.6L2273.4,1119.7L2274.8,1120.0L2276.2,1121.3L2277.6,1121.7L2278.9,1124.7L2280.2,1125.2L2281.4,1125.2L2282.6,1126.4L2283.7,1128.2L2284.8,1130.7L2285.9,1131.3L2287.1,1131.8L2288.3,1134.0L2289.6,1133.8L2291.1,1135.2L2292.7,1134.3L2294.3,1136.4L2295.9,1135.2L2297.7,1135.1L2299.5,1135.1L2301.3,1135.8L2302.7,1136.1L2304.2,1135.7L2305.7,1135.5L2307.2,1137.2L2308.8,1137.4L2310.4,1136.8L2312.0,1136.0L2313.7,1136.6L2315.3,1136.1L2316.9,1137.3L2318.5,1138.4L2320.1,1137.5"/>
<path stroke="#0073e6" d="M178.2,1362.9L179.7,1362.8L181.2,1363.2L182.6,1364.0L184.0,1362.6L185.4,1362.8L186.8,1362.4L188.3,1362.7L189.7,1362.6L191.1,1363.0L192.5,1363.9L194.0,1365.1L195.4,1364.5L196.9,1363.9L198.5,1364.0L200.0,1364.7L201.7,1364.0L203.3,1363.5L205.0,1365.2L206.8,1364.8L208.0,1363.7L209.3,1363.6L210.6,1363.6L211.9,1365.5L213.2,1363.7L214.6,1364.8L215.9,1365.5L217.3,1363.5L218.8,1364.2L220.2,1364.4L221.7,1365.3L223.1,1363.7L224.6,1363.8L226.1,1363.8L227.7,1363.3L229.2,1364.6L230.7,1364.9L232.3,1364.0L233.9,1363.1L235.4,1364.5L237.0,1364.5L238.6,1364.3L240.2,1363.5L241.8,1364.6L243.4,1364.1L245.0,1363.9L246.7,1363.8L248.3,1363.0L249.9,1363.5L251.5,1364.1L253.1,1363.8L254.7,1363.0L256.3,1364.0L257.9,1364.0L259.5,1362.2L261.1,1362.4L262.7,1362.5L264.2,1362.0L265.8,1363.6L267.3,1363.3L268.9,1363.0L270.4,1364.0L271.9,1362.5L273.4,1362.2L274.9,1361.9L276.5,1362.4L278.0,1363.4L279.5,1362.9L281.0,1361.7L282.5,1362.4L284.0,1361.5L285.5,1362.8L287.1,1361.6L288.6,1361.7L290.1,1362.7L291.6,1363.1L293.1,1362.6L294.6,1361.8L296.1,1362.5L297.7,1361.7L299.2,1361.0L300.7,1361.6L302.2,1362.5L303.7,1362.3L305.2,1361.3L306.7,1362.7L308.3,1362.6L309.8,1361.4L311.3,1362.8L312.8,1361.2L314.3,1360.8L315.8,1361.7L317.3,1362.5L318.9,1361.8L320.4,1361.7L321.9,1361.5L323.4,1361.0L324.9,1361.0L326.4,1361.2L327.9,1361.5L329.5,1362.4L331.0,1360.4L332.5,1360.8L334.0,1362.3L335.5,1361.6L337.0,1360.3L338.5,1361.1L340.1,1361.5L341.6,1362.1L343.1,1360.2L344.6,1362.0L346.1,1361.7L347.6,1360.6L349.1,1361.1L350.7,1361.8L352.2,1360.5L353.7,1361.4L355.2,1361.1L356.7,1360.0L358.2,1360.4L359.7,1360.7L361.3,1360.1L362.8,1361.9L364.3,1360.3L365.8,1360.3L367.3,1361.1L368.8,1360.9L370.3,1360.4L371.9,1360.4L373.4,1360.8L374.9,1361.7L376.4,1359.8L377.9,1361.7L379.4,1361.7L380.9,1361.1L382.5,1361.4L384.0,1360.5L385.5,1361.7L387.0,1361.3L388.5,1361.1L390.0,1360.6L391.5,1360.1L393.1,1361.1L394.6,1361.2L396.1,1359.6L397.6,1360.3L399.1,1360.8L400.7,1360.1L402.2,1359.9L403.7,1360.1L405.3,1359.7L406.9,1359.9L408.5,1360.6L410.0,1360.8L411.6,1361.2L413.2,1360.5L414.8,1360.1L416.4,1361.9L418.0,1361.3L419.6,1361.5L421.2,1361.5L422.8,1360.8L424.4,1361.4L426.0,1360.8L427.6,1361.6L429.2,1362.0L430.8,1360.3L432.4,1362.0L433.9,1360.6L435.5,1360.4L437.0,1360.6L438.6,1361.7L440.1,1362.3L441.6,1362.5L443.1,1360.8L444.6,1361.4L446.1,1362.6L447.6,1362.5L449.0,1362.3L450.5,1361.0L451.9,1361.1L453.3,1360.8L454.6,1361.0L456.0,1361.3L457.3,1362.1L458.6,1361.8L459.9,1360.6L461.2,1360.6L463.0,1361.1L464.7,1361.9L466.3,1360.9L467.9,1361.5L469.5,1361.1L471.1,1361.4L472.6,1360.4L474.1,1359.9L475.6,1359.9L477.1,1360.5L478.5,1359.2L480.0,1358.8L481.4,1360.0L482.8,1359.0L484.2,1359.1L485.7,1357.9L487.1,1357.4L488.6,1357.6L490.0,1357.8L491.5,1356.7L493.0,1357.0L494.5,1358.2L496.0,1356.9L497.5,1355.7L498.9,1357.1L500.3,1355.7L501.8,1355.2L503.2,1355.9L504.6,1355.6L506.0,1354.6L507.5,1355.1L508.9,1355.1L510.4,1353.7L511.9,1353.7L513.4,1352.3L514.9,1353.3L516.5,1352.4L518.0,1353.0L519.7,1352.9L521.3,1351.8L523.0,1352.3L524.8,1352.8L526.1,1351.0L527.4,1352.2L528.7,1351.5L530.1,1352.4L531.5,1350.4L532.9,1351.0L534.4,1350.5L535.9,1350.6L537.4,1352.0L538.9,1351.1L540.4,1350.7L542.0,1352.0L543.6,1350.0L545.2,1349.9L546.8,1351.5L548.4,1351.1L550.0,1351.7L551.7,1350.9L553.3,1351.9L554.9,1350.6L556.6,1350.4L558.2,1351.8L559.9,1351.1L561.5,1350.0L563.1,1350.0L564.8,1350.0L566.4,1351.6L568.0,1351.5L569.6,1350.3L571.2,1351.9L572.7,1351.9L574.3,1351.6L575.8,1351.5L577.3,1351.3L578.8,1351.9L580.3,1351.3L581.7,1352.5L583.1,1351.8L584.5,1352.0L585.8,1352.6L587.1,1352.8L588.4,1351.9L590.2,1351.0L591.9,1352.0L593.5,1353.0L595.1,1351.6L596.7,1351.8L598.3,1352.0L599.8,1352.0L601.3,1353.4L602.8,1353.0L604.3,1352.1L605.7,1353.2L607.1,1353.8L608.6,1352.5L610.0,1353.0L611.4,1352.7L612.9,1354.3L614.3,1353.8L615.8,1353.0L617.2,1353.6L618.7,1353.6L620.2,1354.5L621.7,1354.2L623.2,1354.2L624.7,1354.0L626.3,1353.4L627.8,1354.1L629.3,1354.7L630.8,1354.5L632.3,1354.6L633.8,1353.7L635.4,1353.4L636.9,1355.0L638.4,1354.8L639.9,1354.6L641.4,1355.2L642.9,1353.7L644.4,1354.6L646.0,1353.5L647.5,1354.1L649.0,1354.6L650.5,1353.5L652.0,1353.7L653.5,1354.3L655.0,1353.0L656.6,1352.1L658.1,1353.4L659.6,1352.5L661.1,1351.4L662.6,1350.9L664.1,1350.0L665.6,1349.8L667.1,1351.4L668.7,1350.1L670.2,1350.2L671.7,1348.6L673.2,1349.6L674.7,1349.0L676.2,1349.0L677.7,1347.9L679.2,1348.5L680.8,1347.5L682.3,1346.4L683.8,1347.9L685.3,1346.4L686.8,1347.7L688.3,1346.8L689.8,1346.4L691.4,1346.6L692.9,1346.2L694.4,1345.5L695.9,1345.5L697.4,1345.6L698.9,1347.4L700.4,1346.2L702.0,1345.5L703.5,1346.4L705.0,1346.9L706.5,1347.0L708.0,1347.7L709.5,1346.5L711.1,1347.9L712.6,1345.8L714.1,1346.2L715.6,1347.0L717.1,1347.4L718.6,1346.9L720.1,1347.8L721.6,1347.3L723.0,1346.2L724.5,1347.2L726.0,1347.8L727.4,1347.0L728.9,1347.0L730.4,1348.1L731.8,1347.8L733.3,1349.0L734.8,1349.0L736.3,1347.7L737.8,1347.2L739.4,1347.6L740.9,1348.2L742.5,1348.3L744.1,1348.4L745.7,1347.7L747.4,1348.2L748.8,1348.4L750.3,1349.2L751.8,1347.8L753.4,1348.9L755.1,1348.3L756.8,1349.1L758.5,1348.8L760.3,1347.7L762.0,1348.7L763.8,1347.9L765.6,1348.8L767.4,1347.0L769.3,1347.5L771.1,1347.9L772.9,1347.3L774.6,1347.4L776.4,1347.8L778.1,1347.0L779.8,1348.3L781.5,1347.0L783.0,1347.8L784.6,1348.4L786.1,1346.5L787.5,1348.2L788.8,1346.7L790.1,1347.3L791.3,1346.7L792.4,1348.5L793.4,1347.3L794.3,1347.9L795.1,1349.0L797.0,1348.1L798.4,1349.0L800.0,1351.0L801.1,1349.5L802.4,1349.5L803.8,1349.4L805.4,1348.4L806.9,1348.6L808.6,1347.3L810.2,1348.5L811.8,1346.7L813.3,1344.8L814.8,1345.5L816.1,1343.5L817.3,1344.0L818.5,1341.2L819.7,1340.4L820.8,1339.9L821.9,1339.8L823.0,1338.9L824.0,1337.7L824.9,1334.8L825.8,1333.8L826.6,1333.4L827.4,1331.9L827.9,1331.0L828.4,1327.8L828.9,1326.4L829.2,1325.9L829.6,1325.4L829.9,1323.7L830.2,1321.6L830.4,1320.7L830.6,1318.6L830.8,1317.9L831.0,1315.1L831.2,1314.5L831.4,1311.5L831.6,1310.8L831.8,1308.5L832.0,1306.8L832.2,1304.9L832.4,1303.1L832.5,1302.0L832.7,1301.9L832.9,1300.5L833.0,1299.1L833.2,1297.2L833.3,1296.1L833.5,1295.1L833.6,1294.0L833.7,1291.2L833.9,1290.5L834.0,1289.1L834.1,1287.7L834.3,1285.7L834.4,1283.2L834.5,1282.9L834.6,1280.8L834.7,1279.6L834.9,1278.1L835.0,1275.3L835.1,1273.4L835.2,1273.4L835.3,1271.5L835.4,1268.5L835.5,1267.0L835.6,1266.2L835.7,1265.2L835.8,1262.5L835.9,1262.2L836.0,1259.8L836.1,1259.0L836.2,1256.6L836.3,1255.0L836.4,1253.3L836.5,1252.9L836.6,1251.2L836.7,1248.4L836.7,1246.9L836.8,1246.8L836.9,1243.9L836.9,1243.8L837.0,1242.2L837.0,1240.2L837.1,1237.1L837.1,1235.4L837.2,1235.3L837.2,1232.8L837.3,1230.3L837.3,1228.9L837.4,1227.7L837.5,1226.0L837.5,1224.0L837.6,1224.0L837.7,1221.0L837.7,1220.0L837.8,1219.5L837.9,1218.2L838.0,1216.9L838.1,1214.3L838.2,1212.9L838.3,1212.6L838.4,1211.8L838.5,1210.5L838.6,1209.4L838.9,1206.7L839.2,1205.6L839.5,1204.3L839.8,1202.1L840.2,1199.6L840.5,1199.7L840.9,1196.5L841.2,1194.9L841.5,1194.0L841.9,1192.4L842.1,1192.3L842.4,1190.3L842.6,1188.1L842.9,1186.7L843.1,1184.8L843.4,1184.2L843.6,1181.9L843.9,1179.7L844.1,1179.3L844.4,1177.4L844.7,1174.9L845.0,1174.6L845.3,1171.1L845.6,1171.6L845.9,1169.3L846.4,1167.4L847.0,1166.1L847.6,1163.0L848.2,1161.1L848.8,1159.1L849.4,1159.1L849.9,1158.8L850.2,1158.9L850.4,1158.1L850.7,1160.3L850.9,1160.3L851.2,1160.5L851.4,1161.8L851.6,1163.0L851.9,1164.5L852.1,1166.9L852.3,1169.1L852.5,1170.8L852.7,1173.2L852.9,1175.2L853.1,1176.3L853.3,1178.8L853.5,1180.9L853.7,1182.0L853.8,1184.7L854.0,1186.0L854.2,1188.2L854.3,1190.1L854.5,1192.0L854.6,1192.7L854.8,1193.2L854.9,1194.8L855.0,1197.8L855.2,1199.2L855.3,1201.3L855.4,1201.4L855.5,1204.4L855.6,1206.3L855.7,1206.7L855.8,1207.3L855.8,1210.1L855.9,1210.3L856.0,1213.3L856.1,1214.8L856.1,1215.4L856.2,1218.0L856.3,1218.2L856.4,1220.7L856.4,1221.3L856.5,1224.2L856.5,1224.9L856.6,1227.5L856.6,1229.7L856.6,1232.8L856.6,1234.6L856.7,1234.8L856.8,1237.2L856.9,1239.4L857.0,1240.7L857.2,1240.3L857.5,1239.9L857.8,1241.1L858.2,1239.2L858.7,1239.2L859.2,1237.4L859.8,1235.4L860.3,1233.6L860.9,1232.6L861.4,1229.9L861.9,1229.2L862.4,1227.4L862.8,1225.4L863.0,1223.9L863.2,1223.1L863.3,1222.6L863.5,1220.2L863.6,1219.6L863.7,1217.4L863.9,1217.3L864.0,1216.6L864.1,1213.8L864.2,1213.2L864.3,1210.6L864.4,1211.0L864.5,1207.5L864.6,1206.4L864.6,1205.2L864.7,1204.4L864.8,1202.3L864.8,1199.7L864.9,1199.3L864.9,1196.4L865.0,1195.4L865.0,1195.1L865.1,1192.4L865.1,1189.7L865.1,1188.5L865.2,1186.9L865.2,1185.0L865.2,1184.6L865.3,1181.8L865.3,1181.0L865.4,1179.1L865.4,1178.2L865.4,1175.4L865.5,1173.0L865.5,1172.8L865.6,1171.0L865.6,1168.3L865.7,1167.7L865.7,1165.4L865.8,1165.8L865.9,1163.3L865.9,1162.4L866.0,1160.6L866.1,1158.9L866.2,1157.8L866.3,1154.3L866.4,1153.4L866.5,1152.4L866.6,1150.0L866.6,1149.5L866.7,1146.5L866.8,1145.7L866.9,1143.6L867.0,1141.9L867.1,1141.0L867.2,1139.5L867.3,1137.9L867.4,1134.8L867.5,1133.6L867.5,1131.1L867.6,1130.9L867.7,1129.0L867.8,1127.2L867.9,1125.7L868.0,1123.9L868.1,1122.0L868.2,1121.1L868.3,1120.2L868.4,1117.5L868.5,1116.5L868.7,1115.3L868.8,1115.1L868.9,1113.3L869.0,1113.0L869.1,1110.8L869.2,1109.2L869.5,1107.4L869.7,1104.8L870.0,1103.8L870.2,1101.7L870.5,1099.8L870.8,1098.9L871.1,1097.6L871.4,1096.2L871.7,1096.8L871.9,1095.8L872.2,1097.4L872.4,1097.7L872.7,1099.6L873.0,1101.0L873.2,1101.8L873.5,1102.6L873.8,1105.7L874.1,1106.2L874.4,1108.3L874.6,1110.6L874.9,1113.9L875.2,1115.0L875.4,1117.6L875.7,1119.0L875.9,1120.5L876.0,1120.6L876.2,1124.0L876.4,1124.3L876.5,1125.0L876.7,1127.5L876.8,1129.7L877.0,1130.3L877.1,1132.2L877.3,1132.6L877.4,1134.3L877.6,1136.2L877.7,1137.2L877.9,1140.1L878.0,1140.3L878.1,1142.9L878.3,1145.0L878.4,1145.5L878.6,1149.0L878.7,1149.7L878.8,1151.6L879.0,1153.2L879.1,1154.4L879.3,1155.6L879.4,1157.7L879.6,1159.4L879.7,1160.2L879.9,1161.0L880.0,1164.6L880.2,1164.8L880.3,1167.8L880.5,1169.6L880.6,1169.1L880.7,1172.6L880.9,1173.0L881.0,1175.8L881.2,1177.2L881.3,1177.7L881.5,1180.5L881.6,1180.6L881.8,1183.9L881.9,1184.8L882.1,1187.3L882.2,1187.7L882.4,1189.8L882.5,1190.4L882.7,1191.8L882.9,1192.8L883.0,1195.7L883.2,1197.7L883.4,1197.9L883.6,1198.5L883.7,1199.8L884.0,1201.9L884.3,1204.9L884.5,1205.7L884.8,1207.8L885.1,1210.4L885.3,1211.6L885.6,1211.9L885.9,1215.4L886.2,1216.4L886.5,1216.7L886.8,1217.9L887.1,1221.1L887.4,1221.1L887.8,1222.8L888.2,1224.2L888.7,1227.0L889.2,1228.1L889.7,1230.1L890.3,1231.7L891.0,1230.4L891.8,1230.6L892.7,1230.4L893.6,1229.1L894.6,1227.4L895.6,1224.6L896.6,1223.7L897.7,1221.9L898.8,1220.8L899.9,1217.5L901.0,1215.8L902.1,1215.0L903.1,1215.0L903.6,1216.2L904.2,1216.7L904.7,1216.9L905.2,1217.7L905.7,1219.9L906.1,1222.8L906.6,1222.7L907.0,1226.3L907.4,1227.1L907.7,1229.4L908.1,1230.7L908.4,1233.6L908.7,1234.8L909.0,1236.1L909.2,1237.4L909.4,1239.2L909.6,1240.0L909.7,1242.5L909.8,1244.7L909.9,1244.4L910.0,1246.9L910.1,1248.5L910.2,1250.1L910.3,1252.6L910.4,1253.6L910.5,1255.5L910.6,1256.9L910.6,1259.5L910.7,1262.8L910.8,1263.8L910.9,1265.1L911.1,1265.9L911.2,1265.7L911.4,1265.2L911.5,1264.7L911.7,1263.7L911.9,1262.0L912.1,1260.3L912.3,1257.7L912.5,1258.0L912.7,1255.2L913.0,1252.9L913.2,1251.1L913.4,1250.0L913.7,1248.0L914.0,1244.9L914.2,1242.6L914.5,1241.1L914.8,1238.6L915.1,1237.9L915.4,1236.7L915.6,1234.2L915.9,1232.2L916.4,1232.1L916.8,1228.5L917.3,1226.4L917.7,1225.1L918.2,1223.4L918.7,1220.8L919.2,1218.5L919.7,1217.3L920.2,1217.3L920.7,1216.5L921.1,1214.3L921.6,1215.0L921.9,1215.4L922.3,1215.9L922.6,1214.8L923.0,1215.8L923.3,1217.1L923.6,1219.5L924.0,1220.2L924.3,1223.4L924.6,1223.6L925.0,1225.9L925.3,1227.1L925.6,1230.7L925.9,1231.2L926.2,1233.3L926.4,1235.2L926.7,1236.9L927.0,1238.4L927.2,1241.7L927.4,1241.5L927.6,1243.4L927.7,1244.3L927.9,1247.0L928.0,1248.4L928.2,1250.9L928.3,1250.5L928.4,1254.1L928.5,1253.9L928.6,1256.0L928.7,1258.9L928.8,1260.4L928.9,1262.2L929.0,1262.2L929.0,1263.8L929.1,1265.8L929.2,1267.4L929.3,1269.6L929.4,1270.0L929.5,1272.7L929.7,1273.0L929.8,1275.2L929.9,1277.2L930.1,1278.0L930.3,1280.4L930.4,1281.8L930.7,1283.3L930.9,1284.6L931.1,1286.1L931.3,1288.0L931.5,1290.4L931.8,1292.3L932.0,1292.2L932.2,1295.1L932.5,1296.4L932.8,1297.4L933.1,1298.7L933.5,1300.8L933.8,1302.6L934.3,1302.9L934.7,1303.2L935.3,1305.7L936.0,1306.3L936.8,1307.6L937.6,1310.0L938.5,1310.6L939.5,1313.0L940.5,1313.4L941.5,1315.6L942.6,1315.0L943.7,1318.2L944.9,1318.7L946.0,1318.3L947.1,1319.8L948.2,1322.2L949.4,1322.9L950.6,1322.2L951.9,1324.7L953.2,1324.8L954.5,1325.7L955.8,1327.4L957.1,1326.7L958.4,1328.5L959.7,1328.5L961.0,1330.4L962.5,1331.2L963.9,1331.9L965.3,1330.8L966.8,1331.2L968.3,1332.5L969.7,1332.3L971.2,1332.9L972.7,1333.9L974.2,1334.7L975.7,1334.5L977.1,1335.5L978.8,1334.9L980.5,1335.2L982.2,1334.1L983.9,1333.1L985.6,1333.9L987.3,1332.6L988.9,1332.2L990.5,1330.8L991.9,1330.4L993.2,1330.1L995.0,1330.6L996.6,1331.3L998.1,1332.0L1000.0,1333.3L1001.2,1332.9L1002.4,1333.1L1003.8,1333.6L1005.2,1334.3L1006.7,1335.3L1008.2,1336.0L1009.8,1334.8L1011.5,1335.6L1013.2,1336.0L1014.9,1336.9L1016.6,1336.7L1018.3,1336.7L1020.1,1338.6L1021.8,1337.6L1023.2,1338.8L1024.6,1338.8L1026.0,1337.7L1027.5,1338.4L1028.9,1339.2L1030.4,1339.8L1031.9,1340.5L1033.5,1339.0L1035.0,1338.9L1036.5,1340.7L1038.1,1341.1L1039.6,1339.5L1041.2,1340.3L1042.8,1340.0L1044.3,1340.3L1045.9,1340.5L1047.4,1340.8L1049.0,1340.9L1050.5,1340.6L1052.1,1340.7L1053.6,1341.4L1055.1,1341.1L1056.6,1341.2L1058.1,1340.4L1059.7,1341.0L1061.2,1341.6L1062.7,1340.2L1064.2,1339.8L1065.7,1340.3L1067.2,1339.5L1068.8,1339.5L1070.3,1339.4L1071.8,1340.7L1073.3,1339.9L1074.8,1339.3L1076.3,1339.5L1077.9,1339.1L1079.4,1339.4L1080.9,1339.5L1082.4,1338.7L1083.9,1338.8L1085.4,1340.4L1086.9,1340.1L1088.4,1339.7L1090.0,1340.3L1091.5,1339.7L1093.0,1339.8L1094.5,1341.5L1096.0,1340.8L1097.5,1341.6L1099.0,1342.8L1100.6,1342.6L1102.1,1342.8L1103.6,1343.3L1105.1,1343.2L1106.6,1344.6L1108.1,1344.0L1109.6,1345.4L1111.1,1345.9L1112.6,1346.0L1114.2,1346.3L1115.7,1345.5L1117.2,1347.6L1118.7,1346.8L1120.2,1348.1L1121.7,1347.2L1123.2,1348.4L1124.7,1347.6L1126.3,1347.9L1127.8,1347.9L1129.3,1349.2L1130.8,1348.9L1132.3,1348.6L1133.8,1348.1L1135.3,1350.2L1136.9,1348.5L1138.4,1349.4L1139.9,1349.4L1141.4,1350.5L1142.9,1349.6L1144.4,1351.0L1146.0,1351.2L1147.5,1350.6L1149.0,1350.9L1150.5,1350.9L1152.0,1350.9L1153.5,1350.8L1155.0,1350.1L1156.4,1350.0L1157.9,1351.1L1159.4,1350.1L1160.8,1351.3L1162.3,1351.2L1163.8,1351.6L1165.2,1350.7L1166.7,1350.6L1168.2,1350.4L1169.7,1350.7L1171.2,1351.1L1172.8,1351.5L1174.3,1350.0L1175.9,1351.4L1177.5,1351.5L1179.1,1350.7L1180.8,1350.8L1182.2,1351.7L1183.6,1350.9L1185.1,1350.1L1186.6,1351.6L1188.1,1350.6L1189.6,1350.2L1191.1,1351.5L1192.7,1350.7L1194.2,1352.0L1195.8,1350.9L1197.4,1350.7L1199.0,1350.5L1200.6,1351.8L1202.2,1350.7L1203.9,1350.6L1205.5,1351.2L1207.1,1352.0L1208.7,1352.7L1210.3,1352.7L1211.9,1352.3L1213.5,1352.6L1215.1,1352.0L1216.7,1351.9L1218.2,1351.7L1219.7,1353.2L1221.3,1353.0L1222.8,1351.3L1224.2,1351.8L1225.7,1353.6L1227.1,1353.6L1228.5,1354.0L1230.2,1352.6L1231.8,1353.2L1233.4,1354.2L1235.0,1353.1L1236.5,1354.1L1238.1,1353.4L1239.6,1353.7L1241.1,1354.5L1242.6,1355.6L1244.1,1354.3L1245.5,1355.6L1247.0,1355.0L1248.5,1355.6L1249.9,1357.3L1251.4,1357.7L1252.9,1356.0L1254.3,1356.5L1255.8,1356.6L1257.3,1356.9L1258.8,1357.2L1260.3,1356.8L1261.8,1358.0L1263.3,1357.6L1264.8,1358.2L1266.3,1358.7L1267.7,1359.0L1269.2,1358.8L1270.6,1356.9L1272.1,1358.7L1273.6,1356.9L1275.0,1358.0L1276.5,1358.2L1278.0,1357.4L1279.5,1358.2L1281.0,1357.7L1282.5,1358.4L1284.1,1356.9L1285.6,1357.4L1287.2,1357.3L1288.8,1356.6L1290.4,1357.6L1292.1,1358.1L1293.5,1357.6L1294.9,1356.9L1296.4,1356.8L1297.9,1356.5L1299.4,1358.0L1300.9,1357.6L1302.4,1356.0L1304.0,1355.7L1305.5,1356.5L1307.1,1357.5L1308.7,1355.9L1310.3,1357.0L1311.9,1357.2L1313.5,1356.0L1315.1,1356.6L1316.8,1356.6L1318.4,1355.3L1320.0,1356.6L1321.6,1355.6L1323.2,1355.0L1324.8,1355.5L1326.4,1357.0L1327.9,1355.0L1329.5,1355.3L1331.0,1356.2L1332.6,1355.3L1334.1,1356.3L1335.5,1356.5L1337.0,1356.0L1338.4,1356.4L1339.8,1356.6L1341.5,1356.6L1343.1,1357.3L1344.7,1355.8L1346.3,1355.5L1347.8,1356.1L1349.4,1357.7L1350.9,1356.6L1352.4,1357.0L1353.9,1357.3L1355.4,1357.6L1356.9,1356.3L1358.3,1357.7L1359.8,1356.7L1361.3,1357.9L1362.7,1357.0L1364.2,1357.5L1365.6,1358.7L1367.1,1358.6L1368.6,1358.3L1370.1,1359.8L1371.6,1358.6L1373.1,1358.7L1374.6,1359.1L1376.1,1359.7L1377.5,1360.2L1378.9,1361.3L1380.4,1360.3L1381.8,1361.6L1383.2,1361.8L1384.7,1361.8L1386.1,1361.3L1387.5,1361.5L1389.0,1363.4L1390.5,1362.6L1392.0,1363.7L1393.5,1362.5L1395.1,1364.5L1396.6,1362.9L1398.3,1363.6L1399.9,1364.4L1401.6,1365.2L1403.4,1365.7L1404.7,1364.0L1406.0,1364.0L1407.3,1364.7L1408.6,1365.2L1409.9,1365.5L1411.3,1366.2L1412.7,1366.3L1414.1,1366.0L1415.6,1366.7L1417.0,1366.6L1418.5,1364.9L1420.0,1365.6L1421.5,1365.0L1423.0,1365.6L1424.5,1366.2L1426.0,1366.3L1427.6,1366.9L1429.1,1367.2L1430.7,1366.7L1432.2,1366.5L1433.8,1365.6L1435.4,1366.0L1437.0,1367.6L1438.6,1367.7L1440.2,1367.5L1441.8,1367.5L1443.4,1367.5L1445.0,1366.1L1446.6,1366.8L1448.2,1365.9L1449.8,1367.7L1451.4,1367.7L1453.0,1367.8L1454.6,1367.4L1456.1,1366.6L1457.7,1366.9L1459.3,1366.0L1460.9,1366.6L1462.4,1367.6L1463.9,1367.0L1465.5,1366.5L1467.0,1368.0L1468.5,1367.0L1470.0,1367.1L1471.5,1366.5L1473.1,1367.0L1474.6,1368.3L1476.1,1367.0L1477.6,1366.4L1479.1,1368.0L1480.6,1367.6L1482.1,1366.1L1483.7,1366.0L1485.2,1366.7L1486.7,1366.8L1488.2,1367.7L1489.7,1365.9L1491.2,1367.4L1492.7,1366.8L1494.3,1366.2L1495.8,1365.9L1497.3,1366.6L1498.8,1365.9L1500.3,1365.6L1501.8,1367.7L1503.3,1367.0L1504.9,1366.9L1506.4,1367.0L1507.9,1365.5L1509.4,1366.9L1510.9,1365.7L1512.4,1366.3L1513.9,1366.1L1515.5,1365.2L1517.0,1367.0L1518.5,1366.7L1520.0,1366.3L1521.5,1365.9L1523.0,1365.0L1524.5,1365.0L1526.1,1364.8L1527.6,1366.5L1529.1,1366.7L1530.6,1366.2L1532.1,1365.1L1533.7,1366.4L1535.2,1366.7L1536.8,1364.6L1538.4,1365.8L1540.0,1364.9L1541.6,1365.5L1543.3,1364.7L1544.9,1365.9L1546.6,1366.0L1548.2,1366.0L1549.9,1365.4L1551.5,1365.7L1553.2,1364.8L1554.8,1366.6L1556.5,1366.0L1558.2,1365.7L1559.8,1366.0L1561.5,1366.6L1563.1,1365.0L1564.7,1365.3L1566.4,1365.1L1568.0,1365.2L1569.6,1366.4L1571.1,1365.7L1572.7,1364.9L1574.2,1365.5L1575.8,1365.5L1577.3,1366.5L1578.8,1366.5L1580.2,1366.1L1581.6,1364.7L1583.0,1366.2L1584.4,1366.2L1585.8,1365.2L1587.1,1364.6L1588.4,1365.0L1589.6,1365.5L1590.8,1365.6L1592.0,1364.0L1593.1,1365.7L1594.2,1364.0L1596.2,1364.3L1598.1,1363.6L1599.9,1365.0L1601.6,1363.6L1603.2,1362.7L1604.7,1362.3L1606.2,1361.7L1607.7,1361.6L1609.1,1362.6L1610.5,1360.8L1611.9,1362.0L1613.3,1361.6L1614.9,1360.4L1616.4,1360.0L1617.9,1358.5L1619.3,1359.1L1620.8,1358.3L1622.1,1357.3L1623.5,1356.7L1624.8,1355.9L1626.0,1355.3L1627.9,1355.7L1629.6,1357.2L1631.3,1356.7L1633.0,1357.4L1634.3,1356.7L1635.5,1359.2L1636.8,1359.3L1638.2,1359.7L1640.0,1359.8L1641.0,1359.7L1642.1,1360.8L1643.2,1360.7L1644.4,1361.7L1645.8,1362.1L1647.1,1361.4L1648.6,1362.3L1650.1,1360.4L1651.6,1362.2L1653.2,1361.4L1654.8,1362.4L1656.4,1362.1L1658.1,1361.2L1659.8,1361.7L1661.5,1360.6L1663.2,1360.5L1664.9,1361.9L1666.6,1361.1L1668.3,1360.8L1670.0,1362.0L1671.7,1360.2L1673.3,1360.0L1674.8,1360.9L1676.2,1360.9L1677.7,1361.9L1679.2,1361.3L1680.8,1360.3L1682.3,1361.6L1683.9,1361.1L1685.4,1362.1L1687.0,1360.6L1688.6,1360.3L1690.2,1360.5L1691.8,1360.4L1693.4,1361.3L1695.0,1360.9L1696.6,1361.1L1698.1,1361.1L1699.7,1361.7L1701.3,1361.0L1702.9,1360.1L1704.5,1360.2L1706.0,1360.4L1707.6,1360.8L1709.1,1362.0L1710.7,1361.0L1712.2,1360.9L1713.7,1360.4L1715.1,1360.0L1716.6,1360.0L1718.2,1360.4L1719.8,1360.5L1721.4,1361.3L1723.1,1361.5L1724.7,1360.5L1726.3,1361.4L1727.9,1360.1L1729.4,1361.1L1731.0,1360.1L1732.6,1359.6L1734.1,1361.1L1735.7,1361.2L1737.2,1359.8L1738.7,1360.4L1740.2,1360.0L1741.6,1359.4L1743.1,1359.3L1744.5,1358.8L1745.9,1359.4L1747.2,1359.8L1748.5,1359.0L1749.8,1360.4L1751.6,1358.8L1753.3,1360.0L1755.0,1359.9L1756.6,1360.4L1758.2,1360.4L1759.7,1359.5L1761.2,1360.2L1762.7,1361.5L1764.2,1361.8L1765.7,1360.2L1767.1,1361.2L1768.5,1359.2L1770.0,1359.9L1771.4,1357.9L1772.9,1357.3L1774.3,1357.5L1775.6,1356.4L1777.0,1355.6L1778.2,1354.3L1779.4,1352.8L1780.6,1352.7L1781.6,1351.2L1782.6,1349.2L1783.5,1348.0L1784.4,1347.4L1785.1,1345.2L1785.8,1345.3L1786.5,1342.7L1787.1,1342.2L1787.7,1340.0L1788.2,1337.9L1788.8,1335.9L1789.2,1336.3L1789.5,1333.3L1789.8,1332.8L1790.1,1331.4L1790.4,1330.9L1790.7,1328.2L1790.9,1326.2L1791.1,1325.3L1791.3,1323.8L1791.5,1321.8L1791.7,1320.9L1791.9,1318.1L1792.1,1316.4L1792.2,1315.9L1792.4,1315.0L1792.6,1313.5L1792.8,1310.7L1792.9,1309.7L1793.1,1307.3L1793.2,1305.4L1793.4,1305.4L1793.5,1303.2L1793.6,1302.8L1793.8,1300.3L1793.9,1298.8L1794.0,1297.7L1794.1,1295.4L1794.2,1294.3L1794.3,1293.6L1794.4,1290.9L1794.5,1288.6L1794.6,1288.0L1794.7,1286.5L1794.8,1284.9L1794.9,1284.1L1795.0,1281.8L1795.0,1280.2L1795.1,1277.3L1795.2,1276.0L1795.3,1275.6L1795.4,1272.9L1795.5,1271.2L1795.6,1270.9L1795.7,1268.4L1795.8,1266.4L1795.9,1266.3L1796.0,1263.9L1796.1,1263.2L1796.2,1262.2L1796.3,1258.6L1796.4,1256.9L1796.5,1256.4L1796.6,1255.4L1796.8,1253.2L1796.9,1251.5L1797.0,1248.8L1797.1,1247.7L1797.2,1246.8L1797.3,1245.3L1797.4,1243.6L1797.5,1241.8L1797.6,1239.9L1797.7,1239.4L1797.9,1237.5L1798.0,1235.4L1798.1,1234.0L1798.3,1232.2L1798.4,1232.9L1798.6,1230.4L1798.7,1228.9L1798.9,1228.6L1799.2,1225.5L1799.5,1225.6L1799.8,1222.0L1800.1,1221.0L1800.4,1219.5L1800.8,1219.5L1801.1,1217.2L1801.5,1215.3L1802.0,1215.8L1802.8,1213.4L1803.6,1210.2L1804.5,1211.0L1805.4,1209.2L1806.3,1209.8L1807.3,1212.0L1808.2,1213.8L1809.0,1215.2L1809.5,1215.2L1809.8,1216.9L1810.2,1218.7L1810.5,1220.1L1810.8,1221.9L1811.1,1222.3L1811.4,1225.2L1811.6,1227.4L1811.9,1227.4L1812.1,1229.0L1812.2,1230.3L1812.4,1231.8L1812.5,1233.7L1812.6,1233.7L1812.8,1235.2L1812.9,1237.2L1813.0,1238.3L1813.1,1241.8L1813.3,1242.5L1813.4,1242.9L1813.5,1246.3L1813.6,1247.9L1813.7,1247.9L1813.8,1250.9L1813.9,1250.9L1814.0,1252.9L1814.1,1256.1L1814.2,1257.8L1814.3,1258.3L1814.4,1260.8L1814.6,1261.2L1814.7,1262.7L1814.8,1264.5L1814.9,1264.9L1815.1,1267.1L1815.2,1268.4L1815.3,1269.9L1815.3,1273.4L1815.4,1273.5L1815.5,1276.1L1815.6,1278.3L1815.7,1280.0L1815.8,1281.5L1815.9,1283.5L1816.0,1284.1L1816.2,1285.3L1816.4,1288.0L1816.6,1287.5L1816.8,1289.5L1817.0,1291.0L1817.3,1293.0L1817.6,1292.8L1818.4,1295.4L1819.3,1295.6L1820.3,1298.3L1821.2,1298.3L1822.0,1300.1L1822.4,1302.3L1822.7,1303.5L1822.9,1304.2L1823.1,1304.9L1823.3,1306.4L1823.4,1308.8L1823.5,1311.3L1823.7,1311.7L1823.8,1313.0L1823.9,1314.6L1824.1,1317.7L1824.3,1318.0L1824.6,1320.0L1824.9,1321.3L1825.2,1322.8L1825.5,1325.5L1825.9,1327.4L1826.2,1329.3L1826.5,1330.7L1826.9,1332.1L1827.3,1333.4L1827.7,1333.9L1828.1,1335.9L1828.5,1337.8L1829.0,1339.3L1829.5,1340.4L1830.1,1341.9L1830.7,1343.2L1831.4,1344.1L1832.1,1345.1L1833.4,1346.7L1834.8,1348.1L1836.3,1348.2L1837.9,1349.9L1839.5,1350.6L1840.9,1350.3L1842.2,1349.8L1843.2,1348.0L1844.2,1348.2L1845.1,1347.1L1845.9,1346.2L1846.7,1344.1L1847.5,1342.0L1848.1,1341.1L1848.8,1338.2L1849.4,1336.5L1849.6,1336.3L1849.9,1334.9L1850.1,1333.0L1850.3,1333.4L1850.4,1331.8L1850.6,1331.0L1850.8,1328.9L1850.9,1328.8L1851.1,1326.4L1851.2,1326.5L1851.3,1323.3L1851.4,1322.6L1851.5,1321.3L1851.6,1319.8L1851.6,1319.5L1851.7,1317.7L1851.8,1316.5L1851.8,1313.8L1851.9,1313.6L1851.9,1310.8L1851.9,1308.7L1851.9,1308.7L1852.0,1307.2L1852.0,1305.7L1852.0,1302.6L1852.0,1301.7L1852.0,1300.1L1852.0,1297.4L1852.0,1295.3L1852.0,1294.5L1852.0,1292.5L1852.0,1291.4L1852.0,1288.9L1852.0,1287.7L1852.0,1285.7L1852.0,1283.6L1852.0,1283.5L1852.0,1280.2L1852.0,1278.7L1852.0,1277.1L1852.1,1276.7L1852.1,1274.4L1852.1,1273.2L1852.1,1270.2L1852.2,1268.5L1852.2,1268.5L1852.2,1264.9L1852.3,1265.3L1852.4,1263.8L1852.4,1262.4L1852.5,1260.0L1852.5,1258.7L1852.6,1256.4L1852.6,1255.1L1852.7,1253.2L1852.7,1251.4L1852.8,1250.4L1852.8,1248.3L1852.9,1247.8L1852.9,1244.9L1853.0,1244.5L1853.0,1242.0L1853.1,1241.2L1853.1,1240.3L1853.2,1237.2L1853.2,1236.0L1853.3,1235.2L1853.3,1234.1L1853.4,1231.7L1853.4,1230.3L1853.4,1227.9L1853.5,1227.0L1853.5,1224.0L1853.6,1224.2L1853.6,1221.8L1853.7,1220.3L1853.7,1219.0L1853.8,1216.9L1853.8,1215.8L1853.9,1213.1L1853.9,1212.6L1854.0,1210.2L1854.0,1208.0L1854.1,1207.6L1854.1,1206.4L1854.2,1204.8L1854.2,1202.8L1854.3,1201.7L1854.3,1199.3L1854.4,1197.5L1854.4,1196.9L1854.5,1194.0L1854.5,1193.1L1854.6,1191.2L1854.6,1191.7L1854.7,1189.4L1854.7,1188.7L1854.8,1187.0L1854.8,1185.9L1854.9,1183.9L1854.9,1183.4L1855.0,1181.6L1855.0,1180.4L1855.1,1178.2L1855.1,1177.3L1855.2,1176.0L1855.3,1173.8L1855.4,1172.9L1855.5,1170.9L1855.5,1169.5L1855.6,1165.5L1855.7,1163.5L1855.8,1162.0L1855.9,1160.4L1855.9,1158.7L1856.0,1156.1L1856.1,1154.4L1856.2,1151.7L1856.3,1150.0L1856.4,1149.0L1856.4,1146.8L1856.5,1146.1L1856.6,1145.1L1856.7,1143.6L1856.8,1143.5L1856.9,1142.4L1857.1,1142.5L1857.2,1141.9L1857.3,1142.1L1857.4,1141.9L1857.6,1141.9L1857.7,1142.5L1857.8,1142.8L1858.0,1144.2L1858.1,1145.7L1858.3,1145.5L1858.5,1147.9L1858.6,1149.0L1858.8,1149.6L1859.0,1151.1L1859.1,1153.1L1859.3,1156.4L1859.5,1157.5L1859.7,1159.8L1859.8,1161.3L1860.0,1162.7L1860.1,1164.7L1860.3,1167.6L1860.5,1168.7L1860.6,1172.7L1860.7,1174.0L1860.9,1174.8L1861.0,1177.7L1861.1,1179.1L1861.2,1179.4L1861.2,1181.9L1861.3,1182.1L1861.4,1182.8L1861.4,1185.0L1861.5,1186.6L1861.6,1187.1L1861.6,1190.3L1861.7,1190.1L1861.7,1192.7L1861.8,1193.8L1861.8,1194.7L1861.9,1196.4L1861.9,1198.2L1862.0,1199.5L1862.0,1201.0L1862.1,1204.6L1862.1,1205.0L1862.2,1205.7L1862.2,1209.2L1862.2,1209.3L1862.3,1212.0L1862.3,1213.5L1862.4,1215.4L1862.4,1216.1L1862.4,1219.2L1862.5,1220.3L1862.5,1221.0L1862.5,1222.7L1862.6,1224.4L1862.6,1226.3L1862.7,1229.5L1862.7,1230.7L1862.7,1230.9L1862.8,1233.4L1862.8,1235.2L1862.8,1236.5L1862.9,1238.8L1862.9,1239.9L1863.0,1242.2L1863.0,1242.7L1863.0,1245.5L1863.1,1245.3L1863.1,1247.8L1863.2,1249.1L1863.2,1250.0L1863.3,1252.2L1863.3,1253.1L1863.4,1255.2L1863.4,1257.2L1863.5,1258.1L1863.5,1260.3L1863.6,1259.5L1863.7,1262.4L1863.7,1262.6L1863.8,1264.8L1863.9,1266.9L1864.0,1267.4L1864.1,1270.4L1864.2,1271.8L1864.2,1275.0L1864.3,1275.9L1864.4,1279.1L1864.5,1279.5L1864.6,1283.0L1864.6,1284.7L1864.7,1287.2L1864.8,1289.1L1864.9,1289.2L1865.0,1291.8L1865.1,1293.8L1865.3,1294.2L1865.4,1294.8L1865.6,1296.8L1865.8,1298.2L1866.0,1297.7L1866.2,1299.6L1866.4,1300.2L1866.7,1300.1L1867.6,1298.6L1868.6,1296.9L1869.6,1296.4L1870.0,1295.5L1870.4,1295.7L1870.8,1296.6L1871.1,1297.7L1871.5,1299.8L1871.8,1302.0L1872.1,1303.5L1872.4,1305.9L1872.7,1307.8L1873.0,1310.2L1873.3,1311.0L1873.6,1314.4L1873.9,1315.6L1874.2,1317.4L1874.4,1317.1L1874.6,1320.1L1874.7,1321.3L1874.9,1322.8L1875.1,1325.2L1875.2,1325.5L1875.4,1327.8L1875.6,1328.5L1875.8,1331.9L1876.1,1332.2L1876.4,1333.8L1876.8,1336.1L1877.4,1336.6L1878.0,1338.5L1878.7,1339.3L1879.5,1342.3L1880.4,1342.8L1881.3,1343.9L1883.0,1342.2L1884.9,1340.9L1886.9,1341.9L1888.1,1341.1L1889.4,1343.3L1890.8,1344.9L1892.1,1346.4L1893.5,1347.9L1894.7,1347.8L1895.9,1347.9L1897.0,1347.2L1897.9,1347.6L1898.8,1345.0L1899.7,1342.3L1900.6,1341.9L1901.6,1340.0L1902.6,1340.5L1904.2,1339.6L1905.9,1340.2L1907.6,1340.3L1909.4,1340.9L1910.6,1341.8L1911.9,1343.0L1913.2,1344.3L1914.5,1346.2L1915.8,1348.3L1917.1,1349.7L1918.3,1349.5L1919.5,1350.6L1920.9,1349.0L1922.3,1348.2L1923.6,1347.3L1924.9,1345.7L1926.3,1344.6L1927.5,1343.3L1928.8,1341.7L1930.0,1342.6L1931.2,1339.4L1932.4,1338.9L1933.6,1339.3L1934.7,1340.4L1935.7,1341.2L1936.7,1342.8L1937.6,1343.6L1938.7,1344.8L1939.8,1346.4L1941.0,1346.4L1942.2,1348.3L1943.5,1349.6L1944.8,1350.4L1946.2,1351.2L1947.5,1353.1L1948.8,1352.2L1950.3,1351.8L1951.8,1351.5L1953.4,1349.9L1954.9,1349.2L1956.6,1349.4L1958.1,1349.9L1959.7,1348.7L1961.3,1349.6L1963.0,1350.7L1964.7,1351.0L1966.3,1351.8L1967.9,1353.9L1969.5,1353.0L1971.0,1354.0L1972.6,1352.1L1974.1,1353.6L1975.5,1352.8L1976.9,1352.6L1978.4,1350.7L1979.9,1349.8L1981.3,1349.4L1982.6,1348.6L1983.6,1346.5L1984.0,1344.8L1984.4,1344.4L1984.7,1342.0L1984.9,1342.4L1985.0,1340.2L1985.1,1337.4L1985.1,1337.1L1985.2,1333.8L1985.2,1332.8L1985.2,1331.4L1985.3,1329.1L1985.3,1329.1L1985.5,1327.6L1985.7,1324.3L1985.9,1324.2L1986.3,1321.7L1986.8,1320.2L1987.4,1318.2L1988.0,1316.8L1988.6,1313.7L1989.2,1312.5L1989.8,1312.0L1990.4,1311.7L1991.0,1311.1L1991.6,1312.6L1992.3,1313.4L1992.9,1316.2L1993.5,1318.2L1994.2,1320.6L1994.9,1322.6L1995.8,1323.5L1996.6,1323.3L1997.5,1324.6L1998.5,1327.4L1999.4,1328.4L2000.2,1330.1L2001.0,1331.3L2001.8,1331.6L2002.6,1333.5L2003.4,1333.4L2004.2,1336.2L2005.0,1337.1L2005.7,1338.1L2006.3,1340.3L2006.9,1342.8L2007.6,1344.4L2008.2,1345.7L2008.8,1346.6L2009.4,1347.3L2010.0,1348.9L2010.7,1350.2L2011.8,1352.7L2012.8,1353.8L2013.9,1355.4L2015.2,1356.7L2016.3,1356.3L2017.6,1354.7L2018.9,1354.8L2020.2,1352.5L2021.6,1350.2L2023.0,1349.1L2024.5,1349.1L2026.0,1347.5L2027.6,1346.4L2029.1,1345.8L2030.6,1345.1L2032.0,1345.9L2033.3,1345.0L2034.4,1346.7L2035.5,1349.2L2036.6,1349.4L2037.7,1351.4L2038.8,1354.0L2040.1,1354.7L2041.3,1355.1L2042.6,1357.6L2044.0,1357.8L2045.5,1359.4L2046.9,1359.7L2048.5,1359.3L2050.1,1360.9L2051.8,1360.5L2053.5,1361.8L2055.2,1361.9L2056.8,1361.3L2058.2,1360.9L2059.7,1359.2L2061.1,1357.6L2062.5,1357.8L2063.8,1355.9L2065.2,1356.0L2066.6,1353.8L2068.0,1354.6L2069.3,1354.4L2070.5,1354.1L2071.8,1355.1L2073.1,1356.5L2074.4,1358.2L2075.6,1359.4L2076.9,1359.7L2078.1,1361.3L2079.3,1362.4L2080.9,1362.3L2082.6,1361.3L2084.2,1360.0L2085.7,1360.2L2087.1,1356.9L2088.3,1357.4L2088.8,1355.9L2089.2,1354.1L2089.6,1353.4L2089.8,1351.6L2090.0,1350.7L2090.2,1348.1L2090.3,1346.6L2090.4,1344.7L2090.4,1343.9L2090.4,1340.8L2090.4,1339.7L2090.4,1338.3L2090.5,1337.2L2090.5,1335.4L2090.5,1331.7L2090.6,1331.1L2090.7,1328.6L2090.9,1328.6L2091.1,1327.4L2091.4,1325.0L2091.7,1324.9L2092.3,1322.7L2093.1,1319.2L2093.9,1319.0L2094.8,1316.7L2095.7,1314.8L2096.5,1314.6L2097.4,1313.7L2098.1,1311.3L2098.8,1311.5L2099.3,1313.0L2099.7,1312.8L2100.0,1313.6L2100.4,1315.8L2100.7,1317.1L2101.0,1319.2L2101.2,1320.4L2101.5,1322.9L2101.7,1324.6L2101.9,1326.7L2102.2,1327.8L2102.4,1330.4L2102.6,1330.6L2102.9,1333.9L2103.2,1334.6L2103.4,1337.4L2103.7,1338.8L2104.0,1340.0L2104.2,1342.5L2104.4,1345.2L2104.7,1345.8L2104.9,1346.6L2105.2,1348.5L2105.4,1349.5L2105.6,1350.8L2105.9,1351.4L2106.1,1350.6L2106.3,1350.8L2106.5,1349.3L2106.7,1348.8L2106.9,1347.5L2107.1,1345.6L2107.3,1345.3L2107.5,1343.8L2107.6,1342.4L2107.8,1340.1L2108.0,1336.6L2108.2,1334.7L2108.5,1332.8L2108.7,1330.6L2108.9,1329.8L2109.1,1328.0L2109.3,1325.6L2109.5,1324.9L2109.8,1322.7L2110.0,1321.9L2110.3,1319.0L2110.6,1318.4L2110.9,1315.7L2111.2,1314.5L2111.5,1311.1L2111.8,1310.2L2112.1,1306.8L2112.4,1305.7L2112.8,1303.2L2113.1,1301.7L2113.4,1302.0L2113.7,1300.6L2114.1,1300.0L2114.4,1298.8L2114.7,1297.8L2115.0,1298.0L2115.3,1298.7L2115.7,1300.2L2116.0,1300.8L2116.3,1303.5L2116.6,1304.4L2117.0,1306.7L2117.3,1307.8L2117.6,1309.9L2117.9,1310.8L2118.2,1314.8L2118.5,1316.6L2118.8,1318.0L2119.1,1319.4L2119.4,1320.8L2119.7,1323.7L2119.9,1324.3L2120.1,1325.2L2120.3,1327.8L2120.5,1328.4L2120.7,1331.5L2120.9,1332.7L2121.1,1333.2L2121.3,1335.0L2121.5,1338.5L2121.7,1338.9L2122.0,1341.5L2122.3,1341.4L2122.6,1343.7L2122.9,1343.6L2123.4,1346.9L2124.0,1348.6L2124.5,1349.8L2125.1,1351.5L2125.8,1352.4L2126.6,1355.0L2127.6,1356.0L2129.0,1354.7L2130.6,1355.4L2132.4,1352.7L2134.1,1353.0L2135.8,1351.9L2137.0,1354.3L2138.2,1355.1L2139.4,1357.1L2140.6,1358.6L2141.7,1358.8L2142.9,1361.0L2144.0,1361.2L2145.2,1362.6L2146.4,1361.9L2147.6,1362.0L2148.9,1360.6L2150.1,1358.2L2151.3,1357.5L2152.5,1354.9L2153.6,1355.1L2154.6,1353.1L2155.3,1350.8L2155.9,1349.6L2156.5,1348.7L2157.0,1347.3L2157.5,1344.4L2158.0,1343.2L2158.4,1340.8L2158.9,1338.1L2159.3,1337.3L2159.7,1335.8L2160.2,1334.5L2160.6,1333.2L2161.1,1333.5L2161.6,1332.2L2162.3,1332.4L2162.9,1333.4L2163.6,1334.8L2164.2,1337.6L2164.9,1337.5L2165.6,1339.6L2166.2,1342.0L2166.9,1343.9L2167.5,1345.8L2168.1,1348.0L2168.7,1350.1L2169.2,1351.8L2169.7,1352.8L2170.4,1353.3L2171.2,1354.9L2172.2,1357.2L2173.5,1357.2L2175.2,1356.4L2177.0,1356.8L2178.8,1356.6L2180.7,1354.5L2182.4,1354.8L2183.9,1353.6L2185.2,1353.9L2186.4,1352.1L2187.5,1350.3L2188.5,1348.9L2189.4,1348.1L2190.2,1346.1L2191.0,1343.5L2191.4,1342.6L2191.8,1341.5L2192.0,1340.0L2192.3,1339.6L2192.5,1337.0L2192.7,1336.0L2192.8,1334.0L2193.0,1332.1L2193.1,1330.1L2193.2,1330.0L2193.2,1327.9L2193.3,1325.2L2193.4,1325.0L2193.5,1322.5L2193.7,1321.5L2193.8,1319.4L2194.0,1316.7L2194.2,1316.6L2194.5,1315.8L2194.9,1314.2L2195.4,1311.2L2195.9,1308.9L2196.5,1307.3L2197.0,1305.2L2197.6,1303.1L2198.1,1301.5L2198.7,1302.7L2199.2,1300.8L2199.6,1301.2L2199.9,1301.4L2200.3,1303.8L2200.6,1303.9L2200.9,1304.9L2201.3,1307.2L2201.6,1307.7L2201.9,1310.1L2202.3,1312.0L2202.6,1314.1L2202.9,1316.2L2203.3,1318.3L2203.6,1319.3L2204.0,1322.7L2204.3,1323.0L2204.7,1325.8L2205.1,1326.0L2205.6,1328.9L2206.1,1331.5L2206.7,1332.7L2207.2,1335.0L2207.8,1335.7L2208.3,1338.2L2208.9,1339.7L2209.4,1342.1L2210.0,1342.6L2210.4,1342.7L2210.9,1343.9L2211.4,1343.4L2211.8,1342.7L2212.1,1341.4L2212.5,1338.3L2212.8,1337.1L2213.2,1335.9L2213.6,1332.2L2214.0,1331.4L2214.5,1330.2L2215.1,1326.9L2215.9,1326.5L2216.6,1323.0L2217.4,1322.7L2218.2,1319.5L2219.0,1318.4L2219.7,1318.2L2220.2,1318.6L2220.7,1320.6L2221.2,1320.8L2221.6,1321.9L2222.1,1323.8L2222.5,1324.9L2223.0,1328.0L2223.5,1330.9L2223.9,1330.9L2224.5,1332.8L2225.0,1336.5L2225.6,1338.0L2226.2,1337.7L2227.0,1339.2L2227.9,1341.7L2228.7,1343.4L2229.7,1345.0L2230.6,1346.6L2231.6,1347.9L2232.5,1347.8L2233.5,1348.2L2234.4,1349.9L2235.4,1352.4L2236.3,1352.3L2237.2,1354.0L2238.1,1355.6L2239.1,1356.3L2240.2,1357.9L2241.5,1358.9L2242.9,1359.8L2244.5,1360.1L2246.1,1360.5L2247.9,1358.8L2249.7,1360.1L2251.4,1358.6L2253.0,1358.6L2254.4,1357.0L2255.6,1356.2L2256.8,1356.1L2257.8,1354.7L2258.8,1353.6L2259.7,1351.5L2260.7,1351.1L2261.6,1349.6L2262.6,1348.3L2263.6,1346.8L2264.7,1344.7L2265.7,1343.7L2266.7,1342.3L2267.7,1340.5L2268.7,1339.3L2269.8,1338.6L2270.8,1337.3L2271.8,1338.9L2272.9,1337.9L2274.0,1339.1L2275.0,1340.2L2276.1,1343.1L2277.1,1343.2L2278.1,1345.8L2279.0,1345.9L2279.8,1348.1L2280.4,1350.2L2281.0,1350.3L2281.5,1353.7L2282.0,1353.3L2282.6,1354.8L2283.3,1358.1L2284.0,1358.5L2284.9,1360.1L2286.0,1360.0L2287.2,1361.3L2288.6,1362.7L2289.9,1362.3L2291.4,1364.2L2292.8,1363.8L2294.2,1365.5L2295.5,1365.8L2297.2,1365.6L2298.8,1366.1L2300.4,1368.0L2302.1,1367.1L2303.7,1368.8L2305.1,1368.6L2306.4,1366.8L2307.8,1364.6L2309.2,1364.4L2310.6,1362.5L2311.9,1361.3L2313.1,1361.1L2314.2,1363.3L2315.3,1363.5L2316.3,1365.7L2317.2,1365.5L2318.2,1368.6L2319.1,1368.0L2320.1,1370.4"/>
<path stroke="#00b066" d="M178.2,1725.5L179.7,1724.7L181.2,1726.7L182.6,1725.0L184.0,1726.4L185.4,1726.7L186.8,1726.6L188.3,1725.8L189.7,1726.0L191.1,1726.9L192.5,1727.5L194.0,1727.0L195.4,1726.8L196.9,1726.5L198.5,1726.7L200.0,1727.4L201.7,1726.8L203.3,1727.1L205.0,1727.4L206.8,1727.4L208.0,1726.1L209.3,1726.5L210.6,1727.6L212.0,1727.2L213.4,1727.8L214.8,1726.1L216.3,1726.4L217.8,1727.0L219.3,1727.5L220.8,1726.3L222.4,1727.5L224.0,1726.6L225.6,1726.4L227.2,1727.5L228.8,1725.8L230.5,1727.6L232.1,1726.1L233.8,1726.2L235.5,1725.8L237.2,1726.3L238.8,1727.0L240.5,1725.6L242.2,1726.2L243.8,1725.9L245.5,1725.5L247.1,1725.1L248.8,1726.2L250.4,1725.5L252.0,1725.6L253.6,1725.8L255.2,1724.6L256.7,1726.1L258.2,1726.1L259.7,1724.6L261.2,1725.8L262.6,1725.4L264.0,1724.5L265.4,1724.3L266.7,1723.8L268.0,1724.5L269.2,1724.5L270.4,1724.5L272.2,1724.3L273.9,1724.3L275.5,1723.2L277.1,1723.3L278.6,1723.8L280.0,1723.5L281.4,1722.6L282.8,1722.7L284.2,1724.0L285.5,1723.5L286.9,1723.1L288.3,1722.2L289.7,1722.2L291.2,1722.7L292.6,1722.3L294.2,1722.4L295.8,1721.0L297.2,1722.4L298.6,1721.3L300.0,1721.6L301.4,1722.1L302.9,1723.1L304.4,1721.9L305.8,1722.6L307.3,1721.7L308.9,1723.4L310.4,1722.0L311.9,1722.7L313.5,1723.2L315.0,1723.3L316.6,1722.9L318.1,1723.5L319.7,1722.2L321.3,1724.4L322.9,1723.6L324.5,1723.8L326.0,1723.1L327.6,1723.7L329.2,1724.1L330.8,1723.7L332.4,1723.1L334.0,1723.2L335.5,1724.7L337.0,1723.2L338.6,1723.9L340.1,1724.2L341.7,1723.1L343.3,1724.3L344.9,1723.5L346.5,1724.4L348.2,1722.6L349.8,1723.0L351.5,1722.7L353.1,1722.4L354.8,1722.6L356.4,1722.5L358.0,1722.3L359.6,1723.2L361.3,1721.9L362.8,1721.2L364.4,1722.6L366.0,1721.9L367.5,1720.9L369.0,1722.4L370.5,1722.3L371.9,1722.1L373.3,1722.5L374.7,1721.3L376.0,1722.6L377.3,1721.6L378.5,1722.8L380.2,1723.3L381.8,1722.6L383.2,1722.6L384.6,1723.6L385.9,1723.9L387.2,1723.8L388.5,1723.3L389.8,1724.3L391.1,1725.4L392.6,1724.2L394.1,1725.4L395.8,1726.8L397.6,1726.6L398.7,1725.7L399.8,1725.5L401.0,1726.5L402.3,1726.7L403.6,1726.0L404.9,1726.5L406.3,1727.6L407.7,1726.9L409.1,1726.7L410.6,1725.6L412.1,1726.5L413.7,1725.5L415.2,1727.6L416.8,1726.6L418.4,1726.7L420.1,1726.9L421.7,1725.4L423.4,1727.1L425.1,1726.8L426.7,1725.4L428.4,1727.1L430.1,1727.0L431.8,1727.2L433.5,1725.1L435.2,1726.9L436.9,1726.5L438.6,1725.3L440.2,1724.8L441.9,1726.0L443.5,1724.6L445.2,1725.6L446.8,1726.0L448.3,1725.0L449.9,1724.8L451.4,1724.9L452.9,1724.2L454.4,1724.0L455.8,1725.0L457.2,1725.4L458.6,1725.7L459.9,1723.7L461.2,1724.1L463.0,1725.1L464.7,1723.8L466.4,1724.8L468.0,1725.0L469.6,1724.7L471.2,1724.1L472.8,1724.2L474.3,1724.4L475.8,1722.7L477.3,1723.0L478.8,1723.7L480.2,1723.0L481.7,1723.5L483.1,1723.8L484.5,1723.1L485.9,1722.6L487.4,1722.7L488.8,1723.0L490.2,1720.9L491.6,1720.6L493.0,1721.9L494.6,1721.8L496.1,1720.9L497.7,1720.1L499.2,1719.2L500.8,1720.3L502.3,1719.2L503.8,1719.3L505.2,1718.0L506.7,1718.0L508.2,1716.1L509.7,1716.7L511.1,1714.9L512.6,1715.0L514.0,1714.9L515.5,1714.7L516.9,1715.5L518.4,1714.6L520.0,1713.3L521.6,1714.9L523.1,1714.9L524.6,1715.2L526.1,1715.6L527.6,1715.5L529.1,1715.2L530.6,1715.8L532.2,1714.7L533.7,1715.7L535.4,1716.0L537.1,1716.9L538.8,1715.5L540.7,1716.0L542.0,1716.1L543.3,1716.0L544.6,1716.6L546.0,1717.7L547.5,1716.2L548.9,1715.5L550.4,1715.4L552.0,1716.9L553.5,1716.0L555.1,1717.2L556.7,1715.5L558.3,1717.0L559.9,1715.4L561.6,1716.8L563.2,1716.5L564.9,1715.2L566.5,1714.4L568.2,1715.5L569.8,1715.3L571.5,1715.3L573.1,1714.1L574.7,1715.5L576.3,1714.3L577.9,1714.2L579.5,1713.6L581.1,1713.4L582.6,1714.3L584.1,1713.5L585.6,1713.9L587.0,1714.8L588.4,1714.9L590.1,1714.2L591.7,1713.8L593.3,1714.7L594.9,1714.3L596.4,1715.7L598.0,1715.4L599.5,1715.7L601.0,1714.5L602.5,1715.8L604.0,1715.2L605.4,1715.0L606.9,1714.8L608.4,1715.8L609.8,1716.3L611.3,1715.5L612.8,1715.3L614.2,1716.5L615.7,1716.5L617.2,1717.0L618.7,1717.4L620.2,1715.9L621.7,1717.7L623.2,1716.2L624.7,1717.2L626.3,1716.1L627.8,1717.3L629.3,1716.4L630.8,1716.8L632.3,1717.6L633.8,1717.3L635.4,1717.3L636.9,1717.6L638.4,1716.5L639.9,1716.1L641.4,1717.3L642.9,1716.6L644.5,1715.9L646.0,1717.3L647.5,1717.0L649.0,1716.6L650.5,1715.7L652.0,1716.3L653.5,1715.1L655.0,1714.6L656.6,1715.5L658.1,1714.7L659.6,1714.6L661.1,1712.8L662.6,1713.3L664.1,1712.7L665.6,1711.4L667.1,1712.7L668.7,1711.4L670.2,1711.0L671.7,1710.8L673.2,1710.5L674.7,1709.0L676.2,1708.8L677.7,1708.2L679.2,1709.0L680.8,1707.7L682.3,1708.6L683.8,1708.6L685.3,1708.4L686.8,1708.8L688.3,1707.6L689.8,1707.6L691.3,1707.6L692.9,1707.6L694.4,1707.4L695.9,1706.8L697.4,1707.8L698.9,1707.9L700.4,1707.0L702.0,1706.5L703.5,1707.6L705.0,1706.9L706.5,1707.2L708.0,1708.4L709.5,1708.3L711.1,1708.8L712.6,1708.0L714.1,1708.4L715.6,1707.4L717.1,1708.4L718.6,1708.3L720.1,1707.7L721.6,1708.8L723.0,1709.0L724.5,1708.2L726.0,1709.7L727.4,1708.8L728.9,1710.4L730.4,1709.2L731.8,1710.8L733.3,1710.7L734.8,1709.9L736.3,1709.8L737.9,1710.7L739.4,1710.6L740.9,1711.2L742.5,1711.1L744.1,1710.1L745.7,1710.7L747.4,1711.3L748.8,1711.6L750.2,1710.6L751.7,1711.2L753.2,1710.3L754.8,1711.4L756.5,1711.0L758.1,1710.1L759.8,1709.6L761.5,1711.2L763.2,1709.3L765.0,1709.9L766.7,1708.8L768.5,1708.8L770.2,1708.4L772.0,1709.7L773.7,1708.6L775.4,1707.5L777.1,1707.1L778.8,1708.1L780.4,1707.0L782.0,1708.0L783.5,1707.4L785.0,1707.3L786.4,1706.0L787.8,1705.9L789.1,1706.9L790.3,1707.2L791.4,1705.9L792.5,1705.7L793.4,1705.6L794.3,1704.6L795.1,1704.7L797.0,1704.3L798.4,1704.2L800.0,1704.5L801.3,1703.7L802.7,1705.1L804.2,1704.2L805.9,1704.1L807.6,1701.4L809.2,1702.4L810.9,1701.6L812.5,1700.7L813.9,1698.3L815.2,1699.5L816.4,1698.6L817.6,1696.9L818.9,1696.0L820.0,1693.8L821.1,1694.1L822.2,1691.3L823.2,1691.1L824.1,1690.4L825.0,1687.8L825.6,1686.9L826.2,1686.1L826.8,1683.3L827.2,1682.4L827.7,1682.3L828.1,1681.2L828.4,1677.9L828.8,1676.4L829.1,1674.6L829.4,1674.6L829.7,1673.4L829.9,1669.7L830.2,1669.7L830.5,1667.5L830.7,1665.5L830.9,1665.1L831.1,1663.3L831.3,1661.3L831.4,1659.9L831.6,1658.6L831.7,1656.7L831.9,1655.9L832.0,1655.1L832.1,1652.2L832.2,1651.6L832.3,1651.0L832.4,1648.4L832.5,1646.1L832.6,1646.0L832.7,1644.6L832.7,1641.4L832.8,1641.3L832.9,1639.9L833.0,1637.9L833.1,1636.8L833.2,1634.8L833.3,1633.1L833.4,1630.4L833.5,1630.6L833.6,1629.0L833.7,1626.4L833.8,1625.3L833.8,1624.2L833.9,1621.5L834.0,1620.2L834.1,1618.4L834.2,1618.4L834.2,1615.6L834.3,1613.6L834.4,1613.7L834.4,1611.8L834.5,1609.1L834.6,1607.1L834.7,1606.4L834.7,1605.9L834.8,1602.7L834.9,1601.8L835.0,1599.2L835.0,1598.5L835.1,1597.3L835.2,1596.2L835.2,1593.4L835.3,1592.1L835.4,1590.7L835.5,1588.4L835.6,1588.5L835.6,1586.9L835.7,1583.9L835.8,1583.0L835.9,1582.4L836.0,1580.8L836.0,1578.8L836.1,1576.2L836.2,1574.6L836.3,1573.7L836.4,1572.5L836.4,1570.5L836.5,1569.6L836.6,1568.2L836.7,1564.8L836.8,1565.1L836.8,1562.7L836.9,1561.3L837.0,1559.7L837.1,1558.5L837.1,1556.6L837.2,1555.2L837.3,1554.1L837.4,1551.8L837.4,1550.4L837.5,1548.4L837.6,1548.7L837.7,1546.2L837.8,1545.1L837.8,1543.3L837.9,1541.8L838.0,1539.1L838.1,1539.2L838.2,1536.2L838.2,1536.1L838.3,1534.5L838.4,1533.3L838.5,1531.8L838.5,1529.7L838.6,1528.7L838.7,1525.6L838.8,1524.9L838.8,1523.8L838.9,1521.5L839.0,1519.6L839.0,1519.0L839.1,1517.2L839.1,1515.0L839.2,1513.7L839.3,1512.3L839.3,1512.1L839.4,1508.9L839.4,1507.5L839.5,1507.1L839.5,1504.4L839.6,1502.7L839.7,1502.5L839.7,1500.8L839.8,1499.4L839.8,1496.5L839.9,1495.6L840.0,1493.5L840.0,1492.9L840.1,1490.9L840.2,1490.1L840.3,1487.6L840.4,1485.8L840.5,1484.5L840.6,1484.5L840.7,1481.3L840.8,1479.7L840.9,1478.5L841.0,1476.3L841.1,1476.3L841.2,1473.4L841.4,1473.6L841.5,1470.9L841.6,1468.6L841.7,1467.4L841.9,1466.1L842.0,1464.4L842.1,1464.3L842.3,1462.2L842.5,1460.1L842.6,1458.5L842.8,1457.5L843.0,1455.4L843.1,1454.0L843.3,1451.3L843.5,1451.3L843.7,1448.3L843.8,1448.1L844.0,1446.6L844.2,1443.2L844.4,1442.4L844.6,1440.9L844.8,1438.5L845.0,1437.9L845.2,1436.3L845.4,1435.1L845.6,1432.1L845.8,1430.3L846.0,1429.4L846.2,1428.0L846.5,1426.9L846.7,1426.0L847.0,1425.4L847.5,1421.7L848.1,1420.0L848.7,1420.1L849.3,1419.3L849.9,1419.4L850.4,1421.6L851.0,1421.5L851.5,1424.7L852.0,1426.2L852.3,1427.4L852.5,1429.1L852.7,1431.5L852.9,1431.5L853.1,1433.5L853.3,1434.3L853.4,1436.7L853.6,1437.8L853.7,1440.8L853.8,1442.4L854.0,1443.2L854.1,1446.3L854.2,1447.7L854.3,1448.3L854.3,1450.4L854.4,1450.5L854.5,1452.4L854.5,1453.7L854.6,1455.0L854.6,1457.0L854.7,1457.3L854.7,1459.2L854.8,1460.2L854.8,1462.6L854.9,1463.4L854.9,1465.9L854.9,1468.1L855.0,1468.3L855.0,1469.5L855.1,1473.1L855.1,1472.9L855.1,1475.9L855.2,1477.9L855.2,1478.5L855.2,1480.7L855.3,1481.8L855.3,1483.2L855.3,1485.3L855.4,1486.9L855.4,1488.4L855.5,1490.0L855.5,1490.7L855.5,1494.3L855.6,1494.4L855.6,1496.7L855.7,1499.3L855.7,1499.2L855.7,1502.0L855.7,1503.4L855.8,1506.4L855.8,1508.8L855.8,1510.8L855.9,1511.8L855.9,1513.4L855.9,1516.4L855.9,1518.9L856.0,1521.1L856.0,1522.5L856.0,1523.1L856.1,1526.9L856.1,1528.4L856.1,1530.5L856.2,1530.6L856.2,1532.3L856.3,1533.5L856.3,1534.9L856.4,1537.2L856.4,1538.2L856.5,1538.6L856.5,1540.4L856.6,1540.5L856.7,1540.4L856.7,1542.0L856.8,1542.6L856.9,1541.9L857.1,1541.2L857.3,1541.9L857.5,1539.7L857.7,1538.5L857.9,1536.4L858.1,1534.9L858.4,1532.5L858.6,1531.0L858.8,1528.0L859.0,1526.8L859.2,1524.3L859.4,1523.4L859.6,1521.9L859.7,1520.0L859.9,1519.7L860.1,1517.6L860.3,1515.4L860.5,1513.5L860.6,1512.7L860.8,1510.2L861.0,1509.3L861.1,1508.1L861.2,1506.9L861.3,1505.7L861.4,1503.3L861.4,1502.1L861.5,1500.4L861.6,1499.4L861.6,1499.8L861.7,1497.4L861.7,1496.7L861.8,1495.2L861.8,1492.8L861.9,1491.5L861.9,1490.9L862.0,1489.7L862.0,1488.1L862.1,1486.4L862.1,1483.1L862.2,1482.8L862.2,1480.7L862.2,1478.0L862.3,1478.4L862.3,1476.4L862.4,1474.2L862.4,1472.2L862.5,1469.0L862.5,1469.5L862.6,1467.1L862.6,1465.6L862.6,1464.5L862.7,1463.0L862.7,1462.7L862.7,1462.2L862.8,1460.9L862.8,1458.0L862.8,1457.9L862.9,1454.8L862.9,1454.7L862.9,1452.0L862.9,1452.1L863.0,1449.8L863.0,1449.4L863.0,1446.7L863.1,1445.0L863.1,1443.3L863.1,1442.9L863.1,1441.0L863.2,1439.1L863.2,1437.6L863.2,1436.0L863.3,1433.0L863.3,1433.1L863.3,1429.8L863.4,1428.7L863.4,1426.6L863.4,1425.4L863.4,1423.1L863.5,1421.7L863.5,1420.0L863.5,1418.5L863.6,1415.8L863.6,1414.2L863.6,1412.2L863.7,1411.1L863.7,1410.6L863.7,1406.9L863.8,1406.6L863.8,1404.8L863.8,1403.6L863.9,1400.3L863.9,1399.5L863.9,1396.8L864.0,1395.6L864.0,1395.5L864.0,1391.7L864.1,1392.2L864.1,1389.7L864.2,1388.7L864.2,1385.7L864.2,1385.7L864.3,1382.5L864.3,1381.4L864.4,1380.6L864.4,1379.0L864.5,1376.3L864.5,1374.9L864.6,1373.8L864.6,1372.4L864.7,1371.5L864.7,1370.7L864.8,1369.8L864.8,1367.5L864.9,1366.0L864.9,1366.1L865.0,1364.1L865.0,1363.6L865.1,1360.9L865.1,1360.4L865.2,1358.5L865.3,1358.1L865.4,1356.1L865.5,1352.7L865.7,1352.6L865.8,1349.9L865.9,1347.9L866.0,1347.9L866.1,1345.9L866.2,1344.0L866.4,1342.2L866.5,1339.7L866.6,1340.2L866.8,1338.7L866.9,1336.2L867.1,1334.1L867.2,1333.9L867.4,1332.2L867.6,1331.2L867.8,1330.5L868.0,1329.5L868.3,1326.4L868.7,1324.0L869.1,1322.3L869.5,1320.4L869.9,1318.5L870.3,1317.3L870.7,1315.9L871.1,1314.5L871.5,1314.4L871.9,1316.4L872.3,1317.2L872.7,1316.8L873.1,1318.5L873.5,1321.4L873.9,1322.3L874.3,1324.4L874.7,1326.4L875.0,1329.4L875.2,1331.0L875.4,1331.4L875.6,1331.7L875.7,1332.9L875.9,1335.8L876.0,1337.3L876.2,1337.7L876.3,1339.4L876.4,1340.2L876.5,1342.9L876.6,1344.2L876.8,1346.2L876.9,1348.4L877.0,1349.4L877.1,1351.5L877.2,1351.6L877.3,1354.9L877.4,1355.8L877.6,1356.6L877.7,1359.4L877.8,1360.6L877.9,1361.4L878.0,1363.0L878.1,1364.8L878.2,1366.0L878.3,1367.7L878.4,1368.9L878.5,1369.3L878.6,1371.3L878.7,1373.0L878.8,1374.5L878.9,1375.1L879.0,1376.5L879.1,1378.7L879.2,1379.8L879.3,1381.9L879.4,1384.3L879.5,1385.8L879.6,1386.3L879.7,1387.1L879.8,1390.6L879.9,1392.4L880.0,1392.6L880.1,1394.1L880.2,1395.4L880.3,1398.1L880.4,1399.3L880.4,1400.7L880.5,1403.0L880.6,1405.4L880.7,1407.0L880.8,1406.6L880.9,1408.6L881.0,1409.8L881.1,1413.1L881.2,1412.9L881.3,1415.7L881.3,1416.7L881.4,1418.1L881.5,1419.3L881.6,1421.3L881.6,1423.1L881.7,1424.5L881.8,1425.5L881.8,1428.1L881.9,1427.8L882.0,1430.5L882.0,1431.3L882.1,1434.2L882.1,1434.8L882.2,1436.1L882.2,1438.6L882.3,1439.6L882.3,1441.4L882.4,1443.8L882.4,1443.8L882.4,1446.6L882.4,1447.0L882.5,1448.9L882.5,1451.7L882.5,1453.0L882.6,1454.4L882.6,1455.0L882.6,1457.9L882.6,1459.3L882.7,1460.6L882.7,1461.9L882.7,1463.1L882.7,1465.5L882.8,1466.6L882.8,1466.7L882.8,1468.2L882.9,1470.8L882.9,1472.9L883.0,1474.2L883.0,1475.4L883.1,1475.6L883.2,1477.8L883.2,1478.3L883.3,1481.0L883.4,1481.1L883.5,1483.0L883.6,1484.1L883.7,1486.5L883.8,1489.0L883.9,1489.0L884.0,1491.9L884.1,1492.8L884.2,1495.1L884.3,1496.2L884.4,1497.5L884.6,1498.2L884.7,1499.6L884.9,1501.2L885.0,1504.6L885.2,1505.2L885.4,1505.2L885.6,1508.3L885.8,1509.5L886.0,1509.1L886.3,1511.0L886.7,1513.9L887.0,1515.9L887.3,1517.0L887.7,1518.6L888.1,1519.7L888.6,1521.5L889.1,1522.5L889.6,1524.5L890.2,1524.9L891.5,1524.0L893.0,1523.2L894.4,1522.6L895.1,1520.4L895.8,1519.3L896.3,1518.8L896.9,1515.8L897.4,1515.2L897.9,1512.8L898.4,1510.3L899.0,1509.7L899.7,1507.0L900.5,1505.3L901.3,1504.4L902.0,1501.9L902.7,1502.5L903.1,1503.9L903.5,1504.3L903.8,1505.2L904.2,1506.3L904.5,1507.9L904.8,1509.7L905.0,1512.5L905.3,1513.9L905.5,1515.8L905.8,1518.6L906.0,1519.9L906.2,1520.0L906.3,1522.8L906.4,1524.3L906.6,1524.9L906.7,1525.9L906.8,1527.6L906.9,1530.5L907.0,1532.0L907.1,1532.1L907.1,1534.3L907.2,1535.6L907.3,1537.7L907.4,1538.8L907.4,1541.0L907.5,1541.8L907.6,1544.9L907.7,1546.4L907.7,1547.4L907.8,1548.6L907.9,1550.8L908.0,1552.5L908.1,1552.4L908.3,1554.6L908.4,1556.4L908.5,1559.6L908.6,1560.4L908.7,1562.6L908.9,1564.3L909.0,1566.5L909.1,1568.1L909.3,1570.2L909.4,1568.9L909.6,1570.7L909.8,1569.9L910.0,1569.9L910.1,1568.1L910.3,1567.2L910.5,1564.9L910.8,1562.9L911.0,1560.9L911.2,1559.5L911.4,1558.1L911.6,1554.3L911.8,1554.0L912.0,1551.1L912.1,1550.3L912.3,1548.9L912.4,1545.7L912.6,1546.1L912.7,1543.7L912.9,1542.9L913.0,1539.7L913.1,1539.1L913.3,1536.9L913.4,1535.2L913.6,1533.7L913.7,1531.3L913.8,1531.0L914.0,1529.6L914.1,1527.2L914.3,1525.3L914.5,1523.0L914.6,1523.6L914.8,1522.0L915.0,1520.7L915.3,1517.2L915.5,1516.2L915.8,1515.1L916.0,1513.5L916.3,1512.3L916.6,1508.8L916.9,1508.2L917.3,1506.1L917.6,1506.8L918.0,1505.1L918.9,1501.7L919.8,1501.7L920.7,1499.5L921.1,1500.5L921.5,1502.3L921.8,1502.2L922.1,1504.3L922.3,1507.7L922.5,1508.3L922.8,1511.0L923.0,1512.7L923.1,1514.4L923.2,1516.2L923.4,1516.5L923.5,1518.7L923.6,1520.4L923.7,1520.8L923.8,1522.9L923.9,1525.5L923.9,1526.3L924.0,1528.5L924.1,1529.6L924.2,1531.5L924.2,1531.8L924.3,1534.3L924.4,1536.2L924.4,1538.1L924.5,1539.8L924.6,1540.3L924.6,1542.1L924.7,1544.7L924.8,1545.0L924.8,1546.5L924.9,1548.6L925.0,1550.7L925.0,1552.6L925.1,1552.7L925.1,1554.4L925.2,1556.1L925.2,1558.8L925.3,1559.4L925.3,1559.9L925.4,1561.3L925.4,1563.6L925.4,1565.5L925.5,1566.8L925.5,1567.6L925.6,1569.6L925.6,1572.0L925.6,1572.4L925.7,1574.0L925.7,1576.4L925.8,1577.3L925.8,1579.6L925.9,1579.7L925.9,1582.2L926.0,1583.5L926.0,1584.6L926.1,1587.2L926.2,1588.8L926.2,1588.5L926.3,1591.3L926.4,1592.6L926.4,1595.1L926.5,1594.8L926.6,1597.8L926.7,1599.5L926.7,1600.6L926.8,1602.9L926.9,1603.2L926.9,1605.4L927.0,1607.1L927.1,1609.4L927.1,1610.3L927.2,1611.5L927.3,1613.4L927.4,1615.5L927.5,1617.8L927.6,1618.4L927.7,1620.3L927.8,1622.1L927.9,1622.7L928.1,1624.2L928.2,1626.0L928.4,1628.2L928.5,1628.8L928.7,1629.6L928.9,1631.4L929.1,1631.8L929.4,1634.3L929.7,1637.1L930.0,1637.3L930.3,1638.9L930.6,1640.6L930.9,1642.1L931.2,1644.8L931.6,1645.8L932.0,1645.9L932.4,1648.9L932.9,1649.9L933.4,1650.0L934.0,1652.2L934.6,1653.3L935.4,1654.5L936.2,1655.6L937.1,1658.2L938.1,1659.2L939.1,1661.2L940.2,1660.4L941.2,1663.5L942.3,1664.1L943.5,1665.1L944.6,1666.7L945.7,1667.8L946.8,1668.5L947.8,1670.4L949.0,1670.5L950.1,1672.9L951.2,1672.7L952.4,1674.1L953.6,1676.3L954.7,1675.6L955.9,1677.2L957.2,1678.8L958.4,1680.2L959.6,1679.6L961.1,1681.0L962.6,1680.9L964.1,1682.0L965.7,1683.5L967.2,1684.7L968.8,1684.8L970.4,1684.6L971.9,1685.7L973.5,1684.7L975.1,1684.8L976.7,1684.8L978.3,1683.9L979.9,1683.6L981.6,1683.0L983.1,1683.1L984.6,1683.4L986.1,1681.8L987.4,1681.4L989.3,1680.7L991.1,1680.2L992.7,1678.9L994.3,1678.2L995.7,1678.4L996.9,1680.5L998.3,1680.6L1000.0,1683.1L1001.0,1682.8L1002.1,1682.6L1003.3,1683.9L1004.6,1685.0L1006.0,1684.9L1007.4,1684.3L1008.9,1686.1L1010.5,1687.1L1012.0,1686.1L1013.6,1686.4L1015.3,1688.3L1016.9,1687.7L1018.6,1687.6L1020.2,1688.2L1021.8,1687.7L1023.2,1689.6L1024.6,1690.1L1026.0,1690.4L1027.5,1690.3L1028.9,1689.1L1030.4,1689.6L1031.9,1690.9L1033.4,1690.3L1035.0,1691.6L1036.5,1690.5L1038.1,1692.5L1039.6,1691.8L1041.2,1691.9L1042.8,1691.1L1044.3,1693.2L1045.9,1693.4L1047.4,1691.8L1049.0,1691.8L1050.5,1692.0L1052.1,1693.1L1053.6,1693.3L1055.1,1692.4L1056.6,1693.1L1058.1,1692.0L1059.7,1693.8L1061.2,1693.6L1062.7,1693.1L1064.2,1692.6L1065.7,1691.9L1067.3,1692.1L1068.8,1691.8L1070.3,1692.6L1071.8,1691.3L1073.3,1692.4L1074.8,1691.5L1076.4,1690.8L1077.9,1691.2L1079.4,1690.7L1080.9,1690.0L1082.4,1691.4L1083.9,1692.1L1085.4,1690.4L1086.9,1692.0L1088.3,1692.8L1089.8,1692.4L1091.2,1693.0L1092.7,1692.1L1094.1,1693.3L1095.6,1693.9L1097.0,1694.5L1098.4,1693.8L1099.9,1694.5L1101.3,1695.6L1102.8,1695.8L1104.2,1695.6L1105.6,1696.8L1107.1,1697.8L1108.5,1698.6L1110.0,1698.0L1111.4,1698.2L1112.9,1698.3L1114.3,1699.5L1115.8,1700.7L1117.2,1699.8L1118.7,1700.5L1120.2,1701.2L1121.7,1700.9L1123.2,1702.4L1124.7,1701.4L1126.3,1703.4L1127.8,1703.4L1129.3,1703.0L1130.8,1703.0L1132.3,1704.8L1133.8,1704.5L1135.3,1705.6L1136.9,1706.2L1138.4,1705.1L1139.9,1706.5L1141.4,1706.6L1142.9,1705.7L1144.4,1706.0L1146.0,1707.6L1147.5,1707.5L1149.0,1707.3L1150.5,1707.1L1152.0,1707.4L1153.5,1706.6L1154.9,1707.0L1156.4,1707.8L1157.9,1706.8L1159.3,1705.8L1160.8,1705.6L1162.3,1706.3L1163.7,1706.0L1165.2,1706.3L1166.7,1705.5L1168.2,1704.8L1169.7,1705.3L1171.2,1704.6L1172.8,1706.2L1174.3,1705.1L1175.9,1703.8L1177.5,1705.8L1179.1,1704.9L1180.8,1703.7L1182.2,1704.3L1183.6,1703.8L1185.1,1704.9L1186.6,1705.4L1188.1,1705.3L1189.6,1705.4L1191.1,1705.7L1192.7,1704.9L1194.2,1706.1L1195.8,1705.2L1197.4,1705.9L1199.0,1705.8L1200.6,1706.0L1202.2,1705.7L1203.8,1707.5L1205.5,1705.7L1207.1,1706.4L1208.7,1707.6L1210.3,1708.0L1211.9,1707.1L1213.5,1707.2L1215.1,1708.2L1216.6,1707.2L1218.2,1709.4L1219.7,1707.7L1221.3,1709.7L1222.7,1709.6L1224.2,1710.0L1225.7,1710.4L1227.1,1709.1L1228.5,1710.7L1230.2,1711.1L1231.8,1710.3L1233.4,1709.7L1235.0,1710.5L1236.5,1710.8L1238.1,1710.2L1239.6,1711.7L1241.1,1710.7L1242.6,1711.5L1244.1,1710.9L1245.5,1713.1L1247.0,1711.7L1248.5,1712.2L1249.9,1712.1L1251.4,1713.1L1252.9,1713.7L1254.3,1713.9L1255.8,1713.8L1257.3,1713.6L1258.8,1714.4L1260.3,1712.6L1261.8,1713.6L1263.3,1713.8L1264.8,1713.8L1266.3,1714.6L1267.7,1713.5L1269.2,1713.9L1270.7,1713.4L1272.1,1713.3L1273.6,1714.1L1275.1,1712.2L1276.5,1713.0L1278.0,1712.0L1279.5,1713.0L1281.0,1711.8L1282.5,1712.5L1284.1,1712.2L1285.6,1711.5L1287.2,1712.4L1288.8,1711.5L1290.4,1712.4L1292.1,1711.0L1293.5,1711.4L1294.9,1712.7L1296.4,1712.5L1297.9,1711.3L1299.4,1711.4L1300.9,1711.0L1302.4,1712.3L1304.0,1711.5L1305.5,1711.4L1307.1,1712.6L1308.7,1712.7L1310.3,1712.2L1311.9,1712.6L1313.5,1710.8L1315.1,1712.2L1316.8,1711.5L1318.4,1710.7L1320.0,1711.2L1321.6,1712.4L1323.2,1712.1L1324.8,1711.4L1326.4,1711.4L1327.9,1712.4L1329.5,1710.8L1331.0,1712.7L1332.6,1711.6L1334.1,1712.6L1335.5,1712.7L1337.0,1711.8L1338.4,1710.9L1339.8,1712.1L1341.5,1712.8L1343.1,1712.3L1344.7,1713.0L1346.3,1712.5L1347.8,1713.6L1349.4,1713.6L1350.9,1712.2L1352.4,1712.0L1353.9,1713.1L1355.4,1713.0L1356.9,1712.8L1358.3,1713.2L1359.8,1712.6L1361.3,1714.4L1362.7,1713.0L1364.2,1714.6L1365.7,1714.5L1367.1,1715.0L1368.6,1714.2L1370.1,1714.5L1371.6,1715.6L1373.1,1715.8L1374.6,1716.7L1376.1,1715.6L1377.5,1716.8L1378.9,1716.7L1380.4,1717.3L1381.8,1717.1L1383.2,1717.7L1384.7,1717.9L1386.1,1717.5L1387.5,1717.8L1389.0,1719.1L1390.5,1720.0L1392.0,1720.1L1393.5,1720.2L1395.1,1719.3L1396.6,1721.5L1398.3,1720.7L1399.9,1720.2L1401.6,1720.4L1403.4,1722.6L1404.7,1720.9L1405.9,1722.8L1407.3,1721.7L1408.6,1723.0L1409.9,1721.9L1411.3,1723.0L1412.7,1723.0L1414.1,1722.0L1415.6,1723.5L1417.0,1723.8L1418.5,1722.0L1420.0,1722.6L1421.4,1724.3L1423.0,1722.8L1424.5,1724.1L1426.0,1723.3L1427.5,1722.9L1429.1,1724.7L1430.7,1724.0L1432.2,1724.9L1433.8,1724.0L1435.4,1724.2L1437.0,1724.6L1438.6,1724.5L1440.2,1724.0L1441.8,1724.1L1443.4,1725.0L1445.0,1724.3L1446.6,1723.3L1448.2,1724.7L1449.8,1724.8L1451.4,1724.8L1453.0,1725.1L1454.6,1725.1L1456.1,1723.8L1457.7,1725.6L1459.3,1724.6L1460.9,1725.6L1462.4,1724.5L1463.9,1725.0L1465.5,1724.8L1467.0,1725.7L1468.5,1724.3L1470.0,1725.1L1471.6,1724.5L1473.1,1725.6L1474.6,1724.8L1476.2,1724.9L1477.7,1725.1L1479.2,1723.5L1480.8,1723.9L1482.3,1723.8L1483.9,1723.9L1485.4,1724.8L1487.0,1723.3L1488.5,1725.2L1490.1,1725.2L1491.6,1724.9L1493.2,1723.3L1494.7,1723.9L1496.3,1725.0L1497.8,1724.8L1499.4,1724.4L1500.9,1723.1L1502.4,1723.9L1504.0,1724.4L1505.5,1724.3L1507.0,1722.8L1508.6,1723.1L1510.1,1722.7L1511.6,1722.3L1513.1,1723.5L1514.6,1724.0L1516.1,1722.5L1517.6,1723.3L1519.1,1721.9L1520.5,1722.0L1522.0,1722.4L1523.4,1721.7L1524.9,1723.4L1526.3,1722.3L1527.8,1723.3L1529.2,1722.5L1530.6,1722.9L1532.3,1723.1L1533.9,1722.4L1535.6,1723.5L1537.2,1721.8L1538.9,1721.5L1540.5,1722.5L1542.2,1721.6L1543.8,1722.1L1545.5,1722.7L1547.1,1721.9L1548.8,1721.8L1550.4,1722.2L1552.0,1722.0L1553.6,1722.4L1555.2,1721.8L1556.8,1723.7L1558.4,1723.8L1559.9,1723.7L1561.5,1722.3L1563.0,1723.8L1564.5,1723.4L1566.0,1722.5L1567.4,1723.3L1568.9,1723.2L1570.3,1722.9L1571.7,1722.1L1573.1,1722.9L1574.4,1723.3L1575.7,1722.3L1577.0,1723.1L1578.3,1723.4L1580.0,1722.3L1581.7,1721.3L1583.3,1721.6L1584.8,1722.1L1586.3,1721.0L1587.8,1720.8L1589.2,1720.9L1590.6,1722.2L1592.0,1721.3L1593.4,1721.8L1594.8,1721.5L1596.2,1721.1L1597.7,1720.0L1599.1,1720.0L1600.6,1719.1L1602.0,1718.7L1603.5,1717.3L1605.0,1718.2L1606.5,1718.1L1608.0,1715.9L1609.6,1715.7L1611.1,1714.4L1612.7,1715.1L1614.2,1714.2L1615.7,1712.9L1617.2,1712.0L1618.6,1711.6L1620.0,1711.2L1621.4,1711.3L1622.6,1708.8L1623.8,1710.0L1625.0,1708.6L1626.0,1709.4L1628.0,1707.7L1629.7,1708.0L1631.3,1709.0L1633.0,1709.8L1634.4,1709.1L1635.7,1710.6L1637.1,1711.2L1638.6,1711.7L1640.5,1713.0L1641.5,1711.8L1642.6,1712.7L1643.8,1713.5L1645.1,1713.2L1646.4,1713.8L1647.8,1713.9L1649.2,1714.2L1650.7,1712.8L1652.3,1713.9L1653.9,1713.8L1655.5,1714.5L1657.1,1713.3L1658.8,1714.4L1660.5,1713.8L1662.2,1713.6L1663.9,1714.3L1665.5,1714.8L1667.2,1713.6L1668.9,1714.2L1670.6,1714.9L1672.2,1714.6L1673.6,1714.0L1675.1,1714.2L1676.5,1715.1L1678.0,1713.6L1679.6,1715.3L1681.1,1713.5L1682.7,1715.0L1684.2,1715.6L1685.8,1713.8L1687.4,1715.4L1689.0,1713.4L1690.6,1713.7L1692.2,1715.6L1693.8,1714.6L1695.4,1713.5L1697.0,1713.6L1698.6,1713.7L1700.1,1713.4L1701.7,1715.0L1703.2,1713.9L1704.7,1713.6L1706.2,1714.8L1707.7,1713.3L1709.1,1713.8L1710.5,1713.3L1711.8,1714.9L1713.1,1714.5L1714.4,1713.5L1716.1,1713.9L1717.8,1714.0L1719.5,1715.6L1721.1,1713.8L1722.6,1715.8L1724.2,1714.9L1725.7,1714.9L1727.1,1715.9L1728.6,1716.3L1730.0,1715.7L1731.4,1715.8L1732.8,1715.7L1734.1,1716.3L1735.5,1716.4L1737.1,1715.4L1738.6,1715.3L1740.1,1713.1L1741.6,1713.5L1743.0,1712.3L1744.4,1712.5L1745.9,1711.8L1747.3,1711.7L1748.8,1711.0L1750.3,1709.3L1751.8,1710.9L1753.3,1710.4L1754.9,1709.9L1756.5,1709.9L1758.1,1709.8L1759.7,1710.0L1761.3,1710.9L1762.9,1710.0L1764.3,1711.7L1765.8,1709.6L1767.1,1709.6L1768.5,1708.6L1769.8,1709.6L1771.0,1708.8L1772.2,1706.7L1773.4,1706.0L1774.5,1704.6L1775.6,1704.7L1776.7,1702.0L1777.7,1702.2L1778.7,1700.7L1779.6,1699.1L1780.6,1698.7L1781.5,1697.9L1782.4,1696.2L1783.2,1695.8L1784.0,1692.6L1784.8,1691.9L1785.5,1689.7L1786.1,1689.3L1786.5,1688.3L1786.9,1686.8L1787.2,1685.7L1787.5,1684.9L1787.8,1682.5L1788.0,1682.0L1788.2,1679.2L1788.4,1677.8L1788.6,1677.4L1788.8,1676.6L1788.9,1673.2L1789.1,1672.4L1789.2,1670.2L1789.3,1669.4L1789.4,1668.0L1789.5,1665.3L1789.7,1664.9L1789.8,1663.1L1789.9,1659.9L1790.0,1659.9L1790.2,1657.5L1790.3,1654.7L1790.4,1654.3L1790.5,1653.8L1790.6,1651.5L1790.7,1650.6L1790.8,1648.0L1790.9,1646.6L1791.0,1647.1L1791.1,1645.0L1791.2,1642.1L1791.3,1642.6L1791.3,1640.9L1791.4,1638.9L1791.5,1638.2L1791.6,1635.2L1791.7,1633.9L1791.7,1633.8L1791.8,1630.4L1791.9,1630.0L1791.9,1629.1L1792.0,1626.5L1792.1,1625.0L1792.2,1624.3L1792.2,1622.5L1792.3,1619.8L1792.3,1619.3L1792.4,1618.0L1792.5,1616.1L1792.5,1614.0L1792.6,1612.4L1792.7,1611.1L1792.7,1609.8L1792.8,1608.6L1792.9,1606.3L1792.9,1605.2L1793.0,1602.8L1793.1,1601.5L1793.1,1600.5L1793.2,1597.2L1793.3,1596.6L1793.4,1594.7L1793.4,1594.1L1793.5,1591.2L1793.6,1589.7L1793.7,1588.4L1793.7,1588.0L1793.8,1585.0L1793.9,1583.7L1794.0,1581.8L1794.0,1581.8L1794.1,1580.4L1794.2,1577.9L1794.3,1575.6L1794.3,1575.0L1794.4,1572.6L1794.5,1570.9L1794.6,1569.7L1794.7,1568.1L1794.7,1567.4L1794.8,1566.1L1794.9,1564.8L1795.0,1561.2L1795.0,1561.4L1795.1,1558.5L1795.2,1557.9L1795.3,1556.0L1795.4,1554.6L1795.4,1552.8L1795.5,1551.0L1795.6,1549.5L1795.7,1547.9L1795.7,1546.8L1795.8,1545.3L1795.9,1543.6L1796.0,1542.8L1796.0,1540.1L1796.1,1538.5L1796.2,1537.6L1796.3,1536.8L1796.3,1534.8L1796.4,1535.1L1796.5,1531.7L1796.6,1531.1L1796.6,1530.5L1796.7,1528.9L1796.8,1527.7L1796.9,1526.1L1797.0,1524.4L1797.1,1522.4L1797.1,1519.2L1797.2,1519.0L1797.3,1515.6L1797.3,1515.6L1797.4,1513.8L1797.5,1512.6L1797.6,1510.3L1797.6,1508.1L1797.7,1508.1L1797.8,1505.7L1797.9,1503.8L1798.0,1502.7L1798.2,1502.3L1798.3,1500.4L1798.5,1498.0L1798.6,1497.6L1798.8,1496.0L1799.1,1494.8L1799.5,1492.3L1799.8,1490.7L1800.2,1490.5L1800.6,1488.6L1801.1,1487.4L1801.5,1485.3L1802.0,1483.6L1802.7,1483.4L1803.5,1480.8L1804.3,1479.9L1805.1,1478.5L1805.8,1478.2L1806.5,1479.5L1807.2,1483.4L1807.9,1483.4L1808.5,1486.8L1808.8,1487.1L1809.2,1488.6L1809.5,1490.2L1809.8,1490.9L1810.0,1493.7L1810.3,1494.9L1810.5,1495.1L1810.8,1498.1L1811.0,1500.2L1811.2,1501.5L1811.4,1503.5L1811.5,1504.5L1811.6,1504.5L1811.7,1506.6L1811.8,1507.4L1811.9,1509.7L1812.0,1510.5L1812.1,1511.7L1812.2,1513.2L1812.3,1515.4L1812.3,1516.5L1812.4,1517.4L1812.5,1519.7L1812.5,1521.3L1812.6,1521.2L1812.6,1523.2L1812.7,1526.3L1812.7,1526.3L1812.8,1529.5L1812.8,1530.6L1812.9,1533.0L1812.9,1532.9L1813.0,1535.1L1813.0,1538.0L1813.1,1538.7L1813.1,1540.4L1813.2,1542.8L1813.3,1543.5L1813.3,1545.9L1813.4,1547.1L1813.4,1549.4L1813.5,1550.5L1813.6,1550.4L1813.6,1553.3L1813.7,1553.6L1813.7,1555.3L1813.8,1556.7L1813.8,1559.1L1813.8,1561.7L1813.9,1561.8L1813.9,1563.1L1813.9,1565.8L1813.9,1566.3L1814.0,1568.8L1814.0,1570.7L1814.0,1572.4L1814.1,1575.0L1814.1,1574.7L1814.1,1576.6L1814.2,1579.8L1814.2,1581.3L1814.3,1582.7L1814.3,1584.1L1814.4,1584.9L1814.4,1586.1L1814.5,1589.4L1814.5,1590.8L1814.6,1592.2L1814.7,1591.9L1814.8,1593.4L1814.9,1595.6L1815.0,1597.2L1815.1,1597.8L1815.3,1599.8L1815.4,1600.1L1815.5,1602.3L1815.7,1603.2L1816.0,1604.6L1816.4,1605.6L1816.8,1606.6L1817.3,1608.0L1817.7,1609.6L1818.2,1611.0L1818.7,1613.6L1819.1,1614.2L1819.5,1615.8L1819.9,1616.9L1820.1,1618.0L1820.3,1619.0L1820.5,1621.6L1820.7,1622.3L1820.9,1624.0L1821.0,1624.6L1821.2,1627.5L1821.3,1627.8L1821.5,1629.6L1821.6,1632.0L1821.8,1633.7L1821.9,1634.1L1822.0,1636.8L1822.2,1638.6L1822.3,1640.9L1822.5,1640.8L1822.6,1642.1L1822.8,1644.9L1822.9,1646.1L1823.1,1647.8L1823.3,1648.9L1823.5,1650.7L1823.7,1653.5L1823.9,1653.4L1824.1,1656.2L1824.4,1656.8L1824.6,1659.1L1824.9,1661.1L1825.2,1662.6L1825.4,1663.3L1825.7,1666.0L1825.9,1667.8L1826.2,1669.1L1826.5,1670.9L1826.8,1672.1L1827.2,1673.2L1827.5,1674.1L1827.9,1677.0L1828.3,1677.2L1828.8,1678.6L1829.3,1680.2L1829.8,1681.3L1830.4,1682.3L1831.3,1684.5L1832.2,1684.8L1833.3,1687.3L1834.4,1689.3L1835.6,1691.2L1836.7,1691.9L1837.9,1693.6L1839.0,1693.4L1840.0,1693.6L1841.0,1693.1L1841.8,1694.1L1842.7,1693.5L1843.5,1692.6L1844.3,1690.2L1845.0,1689.5L1845.7,1687.2L1846.4,1687.0L1847.1,1684.7L1847.7,1681.6L1848.3,1680.9L1848.9,1678.6L1849.4,1675.7L1849.6,1676.1L1849.8,1673.9L1850.0,1673.6L1850.2,1673.5L1850.4,1671.6L1850.5,1669.9L1850.7,1668.2L1850.8,1667.2L1850.9,1667.5L1851.0,1665.9L1851.1,1665.0L1851.2,1662.7L1851.3,1661.0L1851.4,1660.6L1851.5,1659.4L1851.5,1656.4L1851.6,1655.0L1851.6,1654.9L1851.7,1652.3L1851.7,1651.0L1851.7,1650.6L1851.7,1648.6L1851.8,1647.2L1851.8,1645.6L1851.8,1643.7L1851.8,1642.1L1851.8,1641.7L1851.8,1639.0L1851.8,1636.7L1851.7,1636.1L1851.7,1635.0L1851.7,1631.6L1851.7,1631.3L1851.7,1628.2L1851.6,1626.4L1851.6,1625.5L1851.6,1623.0L1851.6,1622.9L1851.5,1619.9L1851.5,1619.9L1851.5,1617.3L1851.5,1616.5L1851.5,1614.5L1851.4,1611.9L1851.4,1609.5L1851.4,1609.0L1851.4,1607.7L1851.4,1606.3L1851.4,1604.2L1851.4,1600.8L1851.4,1599.3L1851.4,1599.4L1851.4,1597.6L1851.4,1594.3L1851.5,1594.7L1851.5,1593.0L1851.5,1589.9L1851.6,1588.5L1851.6,1587.2L1851.6,1585.7L1851.7,1584.7L1851.7,1584.4L1851.7,1582.0L1851.8,1580.1L1851.8,1579.0L1851.8,1577.4L1851.8,1576.3L1851.9,1573.7L1851.9,1572.7L1851.9,1572.0L1852.0,1570.0L1852.0,1569.2L1852.0,1566.9L1852.1,1565.5L1852.1,1563.4L1852.1,1563.5L1852.1,1560.2L1852.2,1558.5L1852.2,1557.5L1852.2,1557.1L1852.3,1554.8L1852.3,1553.4L1852.3,1551.1L1852.4,1550.7L1852.4,1549.0L1852.4,1546.5L1852.5,1544.9L1852.5,1544.9L1852.5,1543.0L1852.5,1541.6L1852.6,1538.2L1852.6,1536.9L1852.6,1537.2L1852.7,1534.0L1852.7,1532.4L1852.7,1531.7L1852.7,1528.8L1852.8,1528.1L1852.8,1527.3L1852.8,1525.2L1852.9,1523.8L1852.9,1522.6L1852.9,1520.6L1852.9,1518.6L1853.0,1516.9L1853.0,1515.3L1853.0,1514.1L1853.1,1512.9L1853.1,1512.0L1853.1,1509.4L1853.1,1509.1L1853.2,1506.2L1853.2,1506.5L1853.2,1504.2L1853.3,1503.2L1853.3,1500.4L1853.3,1498.5L1853.3,1499.0L1853.4,1497.5L1853.4,1496.1L1853.4,1493.7L1853.5,1492.9L1853.5,1489.8L1853.5,1489.1L1853.5,1487.8L1853.6,1485.6L1853.6,1484.8L1853.6,1483.2L1853.7,1481.8L1853.7,1481.1L1853.7,1477.7L1853.8,1476.5L1853.8,1476.0L1853.8,1474.0L1853.8,1471.6L1853.9,1470.9L1853.9,1468.3L1853.9,1467.6L1854.0,1465.9L1854.0,1463.2L1854.0,1462.5L1854.0,1461.3L1854.1,1458.6L1854.1,1456.7L1854.1,1454.9L1854.2,1454.4L1854.2,1453.0L1854.2,1450.4L1854.2,1449.6L1854.3,1447.7L1854.3,1445.8L1854.3,1444.7L1854.3,1443.1L1854.4,1440.9L1854.4,1439.7L1854.4,1438.9L1854.5,1436.0L1854.5,1433.9L1854.5,1434.2L1854.5,1431.4L1854.6,1431.3L1854.6,1428.5L1854.6,1427.6L1854.7,1425.1L1854.7,1423.6L1854.7,1423.8L1854.8,1421.2L1854.8,1419.3L1854.8,1418.7L1854.9,1417.5L1854.9,1415.6L1854.9,1415.6L1855.0,1414.2L1855.0,1411.0L1855.0,1410.5L1855.1,1409.5L1855.1,1408.7L1855.2,1407.2L1855.2,1404.8L1855.3,1403.0L1855.3,1401.1L1855.4,1400.2L1855.5,1398.0L1855.5,1396.4L1855.6,1393.7L1855.7,1391.0L1855.8,1390.1L1855.9,1388.0L1855.9,1386.6L1856.0,1385.3L1856.1,1383.6L1856.2,1381.0L1856.2,1380.6L1856.3,1378.4L1856.4,1377.2L1856.5,1375.8L1856.6,1375.7L1856.6,1374.2L1856.7,1375.2L1856.8,1374.4L1856.9,1373.9L1857.0,1374.1L1857.0,1374.3L1857.1,1375.5L1857.2,1377.4L1857.3,1377.4L1857.3,1379.5L1857.4,1381.4L1857.5,1383.0L1857.6,1385.3L1857.7,1386.2L1857.7,1388.9L1857.8,1390.9L1857.9,1392.7L1858.0,1395.3L1858.0,1395.6L1858.1,1397.4L1858.2,1399.6L1858.3,1402.2L1858.3,1403.6L1858.4,1406.4L1858.5,1407.8L1858.5,1408.6L1858.5,1410.1L1858.6,1411.4L1858.6,1411.6L1858.7,1414.7L1858.7,1415.9L1858.8,1416.7L1858.8,1417.8L1858.9,1419.2L1858.9,1421.6L1859.0,1422.5L1859.0,1423.8L1859.0,1425.0L1859.1,1425.8L1859.1,1428.8L1859.2,1430.8L1859.2,1430.7L1859.2,1432.9L1859.3,1433.8L1859.3,1435.1L1859.4,1437.4L1859.4,1439.6L1859.4,1440.8L1859.5,1442.5L1859.5,1444.0L1859.6,1444.9L1859.6,1448.1L1859.6,1448.1L1859.7,1450.8L1859.7,1451.3L1859.8,1454.4L1859.8,1456.0L1859.8,1457.9L1859.9,1460.0L1859.9,1459.9L1860.0,1461.6L1860.0,1463.0L1860.0,1464.3L1860.1,1466.6L1860.1,1468.4L1860.1,1468.9L1860.1,1471.6L1860.2,1471.7L1860.2,1473.0L1860.2,1474.4L1860.3,1476.8L1860.3,1476.8L1860.3,1478.8L1860.3,1480.2L1860.4,1482.2L1860.4,1484.7L1860.4,1485.9L1860.5,1486.9L1860.5,1489.3L1860.5,1489.2L1860.5,1491.7L1860.6,1493.8L1860.6,1494.4L1860.6,1496.5L1860.6,1498.7L1860.7,1498.5L1860.7,1501.6L1860.7,1503.5L1860.8,1504.2L1860.8,1506.7L1860.8,1507.5L1860.8,1508.0L1860.9,1511.3L1860.9,1513.0L1860.9,1514.2L1860.9,1515.8L1861.0,1518.1L1861.0,1519.6L1861.0,1519.9L1861.1,1522.3L1861.1,1523.2L1861.1,1524.8L1861.1,1527.8L1861.2,1527.5L1861.2,1529.1L1861.2,1530.6L1861.3,1532.6L1861.3,1535.0L1861.3,1537.0L1861.3,1537.3L1861.4,1538.7L1861.4,1541.0L1861.4,1542.6L1861.5,1543.8L1861.5,1545.3L1861.5,1547.0L1861.6,1549.5L1861.6,1550.6L1861.6,1550.9L1861.7,1552.4L1861.7,1554.4L1861.7,1555.9L1861.8,1557.0L1861.8,1558.8L1861.8,1560.8L1861.9,1561.8L1861.9,1563.2L1861.9,1564.7L1862.0,1565.2L1862.0,1567.8L1862.0,1568.0L1862.1,1569.2L1862.1,1570.7L1862.1,1572.5L1862.2,1574.4L1862.2,1577.2L1862.2,1578.3L1862.3,1580.7L1862.3,1583.3L1862.3,1585.0L1862.3,1586.0L1862.3,1589.3L1862.3,1589.7L1862.3,1592.8L1862.3,1595.1L1862.3,1595.6L1862.3,1597.4L1862.3,1600.2L1862.3,1603.0L1862.3,1603.4L1862.3,1605.5L1862.4,1606.8L1862.4,1609.5L1862.4,1611.0L1862.5,1613.2L1862.5,1613.5L1862.6,1615.0L1862.7,1617.3L1862.7,1618.2L1862.8,1619.4L1863.0,1621.0L1863.1,1620.0L1863.2,1621.2L1863.4,1621.8L1863.6,1622.2L1863.8,1623.0L1864.0,1622.6L1864.2,1623.1L1864.8,1622.2L1865.6,1621.7L1866.4,1619.8L1867.2,1616.8L1868.0,1615.5L1868.8,1614.2L1869.5,1612.6L1869.8,1613.1L1870.0,1614.9L1870.3,1615.5L1870.5,1615.2L1870.7,1616.9L1870.9,1618.4L1871.1,1618.7L1871.3,1619.2L1871.5,1622.5L1871.6,1622.8L1871.8,1625.5L1871.9,1626.8L1872.1,1627.8L1872.2,1631.5L1872.3,1631.9L1872.4,1635.5L1872.6,1635.8L1872.7,1639.6L1872.8,1641.8L1872.9,1643.7L1873.0,1645.4L1873.1,1646.5L1873.2,1649.0L1873.3,1650.5L1873.5,1654.3L1873.6,1654.9L1873.7,1656.2L1873.8,1657.7L1873.9,1659.2L1874.1,1661.4L1874.2,1661.9L1874.4,1664.5L1874.5,1665.3L1874.7,1666.4L1875.2,1667.9L1875.7,1668.4L1876.2,1670.7L1876.8,1670.8L1877.2,1673.6L1877.7,1675.8L1878.2,1675.7L1878.7,1678.0L1879.2,1679.3L1879.8,1680.9L1880.5,1683.1L1881.3,1682.5L1882.6,1683.3L1884.0,1682.7L1885.4,1680.9L1886.9,1680.8L1887.9,1680.6L1888.9,1683.7L1890.0,1684.1L1891.0,1686.9L1892.0,1688.6L1893.1,1689.1L1894.1,1691.1L1895.0,1691.8L1895.9,1692.3L1896.7,1692.5L1897.5,1689.9L1898.2,1689.7L1898.9,1687.5L1899.6,1684.4L1900.2,1681.7L1901.0,1681.1L1901.7,1679.1L1902.6,1679.7L1903.8,1678.3L1905.2,1679.3L1906.6,1680.1L1908.0,1682.2L1909.4,1682.3L1910.5,1684.3L1911.6,1684.7L1912.8,1686.4L1913.9,1688.2L1915.1,1689.1L1916.2,1692.1L1917.4,1691.6L1918.5,1693.5L1919.5,1693.5L1920.7,1694.0L1921.9,1692.0L1923.0,1691.6L1924.1,1688.1L1925.2,1688.3L1926.3,1686.4L1927.6,1685.3L1929.0,1682.7L1930.3,1682.0L1931.7,1681.8L1933.0,1680.6L1934.0,1680.1L1935.0,1682.7L1935.9,1683.0L1936.9,1685.5L1937.8,1685.6L1938.8,1687.0L1939.8,1688.4L1940.9,1691.2L1941.9,1691.2L1943.0,1693.8L1944.1,1696.0L1945.2,1695.4L1946.4,1696.5L1947.6,1697.4L1948.8,1698.4L1950.0,1696.3L1951.3,1695.8L1952.6,1694.4L1953.9,1694.2L1955.3,1692.2L1956.6,1692.2L1958.0,1693.0L1959.5,1693.2L1960.9,1694.1L1962.4,1695.4L1963.8,1695.9L1965.3,1696.4L1966.8,1697.4L1968.3,1697.4L1969.8,1698.1L1971.3,1696.1L1972.8,1695.1L1974.2,1694.1L1975.6,1693.3L1976.9,1692.8L1978.2,1692.0L1979.5,1691.8L1980.7,1690.7L1981.7,1688.6L1982.7,1688.6L1983.6,1685.9L1984.0,1685.8L1984.3,1684.9L1984.6,1684.2L1984.8,1682.6L1984.9,1679.9L1985.1,1678.8L1985.2,1677.0L1985.2,1675.6L1985.3,1675.1L1985.3,1673.1L1985.3,1669.8L1985.3,1668.6L1985.3,1668.1L1985.3,1665.0L1985.3,1663.2L1985.4,1661.6L1985.4,1660.1L1985.5,1659.4L1985.6,1656.8L1985.7,1655.3L1985.9,1655.8L1986.2,1654.1L1986.5,1651.4L1986.8,1649.1L1987.2,1645.9L1987.6,1645.5L1987.9,1642.9L1988.3,1642.0L1988.7,1639.1L1989.2,1638.6L1989.6,1637.0L1990.0,1637.8L1990.4,1636.6L1990.9,1636.2L1991.5,1637.4L1992.0,1638.7L1992.6,1640.2L1993.2,1643.2L1993.8,1644.7L1994.3,1647.8L1994.9,1649.9L1995.4,1650.2L1995.8,1651.7L1996.3,1655.0L1996.7,1654.9L1997.1,1656.5L1997.6,1659.1L1998.1,1660.3L1998.7,1661.0L1999.4,1661.9L2000.5,1663.9L2001.8,1665.8L2003.1,1666.7L2004.4,1666.5L2005.5,1667.7L2006.0,1669.0L2006.4,1669.6L2006.8,1671.5L2007.1,1673.2L2007.4,1674.5L2007.7,1675.6L2007.9,1678.1L2008.1,1680.5L2008.4,1681.3L2008.6,1683.2L2008.8,1685.5L2009.0,1687.0L2009.3,1688.3L2009.6,1690.3L2009.9,1692.9L2010.3,1692.5L2010.7,1694.0L2011.7,1697.2L2012.8,1698.4L2013.9,1697.8L2015.2,1698.8L2016.4,1699.5L2017.7,1697.9L2019.0,1696.7L2020.4,1696.9L2021.7,1695.3L2023.0,1692.2L2024.1,1692.3L2025.1,1691.3L2026.1,1688.6L2027.0,1686.6L2028.0,1685.5L2029.0,1683.2L2029.9,1683.4L2030.9,1682.6L2031.9,1682.6L2032.9,1683.4L2033.9,1684.3L2034.9,1687.0L2035.9,1687.4L2036.9,1689.7L2037.8,1691.2L2038.8,1692.8L2039.8,1694.7L2040.7,1696.4L2041.5,1697.4L2042.4,1699.0L2043.4,1700.0L2044.4,1701.3L2045.5,1701.4L2046.8,1702.6L2048.2,1704.2L2049.7,1703.7L2051.3,1704.9L2052.9,1705.5L2054.5,1705.9L2055.8,1704.3L2057.1,1704.4L2058.4,1702.8L2059.8,1703.4L2061.2,1702.7L2062.6,1701.1L2064.0,1699.2L2065.3,1698.3L2066.7,1698.3L2068.0,1699.8L2069.2,1699.6L2070.4,1699.8L2071.5,1701.7L2072.7,1702.8L2073.9,1704.7L2075.0,1705.2L2076.2,1707.8L2077.3,1707.8L2078.4,1710.1L2079.4,1709.7L2080.5,1710.1L2081.5,1710.9L2082.8,1710.8L2084.0,1710.9L2085.3,1708.6L2086.5,1707.5L2087.6,1706.8L2088.7,1705.3L2089.7,1703.8L2090.5,1702.8L2090.9,1700.1L2091.3,1700.5L2091.6,1698.1L2091.9,1697.8L2092.1,1695.4L2092.3,1694.2L2092.4,1692.1L2092.5,1691.5L2092.6,1690.0L2092.6,1687.2L2092.7,1686.3L2092.7,1685.9L2092.7,1682.1L2092.8,1681.5L2092.8,1680.4L2092.9,1678.3L2092.9,1676.8L2093.0,1675.8L2093.1,1672.7L2093.3,1671.2L2093.5,1671.1L2093.8,1668.5L2094.1,1666.7L2094.4,1665.6L2094.7,1663.6L2095.0,1660.2L2095.4,1658.3L2095.7,1656.7L2096.1,1654.3L2096.4,1653.6L2096.8,1651.6L2097.1,1649.6L2097.5,1649.2L2097.8,1648.0L2098.2,1646.4L2098.5,1647.3L2098.8,1647.4L2099.1,1646.7L2099.4,1646.3L2099.7,1648.9L2100.0,1648.1L2100.2,1649.9L2100.5,1652.2L2100.8,1654.6L2101.0,1654.8L2101.3,1656.6L2101.5,1659.5L2101.8,1662.1L2102.0,1662.6L2102.3,1665.5L2102.5,1666.2L2102.7,1669.8L2102.9,1670.9L2103.1,1670.9L2103.2,1674.4L2103.4,1676.3L2103.5,1676.9L2103.7,1679.2L2103.8,1681.3L2103.9,1683.4L2104.0,1684.6L2104.1,1687.0L2104.2,1689.8L2104.3,1690.7L2104.4,1693.7L2104.5,1694.0L2104.6,1694.7L2104.7,1696.8L2104.9,1696.8L2105.0,1697.5L2105.1,1699.9L2105.3,1700.1L2105.4,1698.2L2105.6,1698.6L2105.7,1699.1L2105.9,1697.1L2106.0,1696.2L2106.2,1696.6L2106.4,1694.8L2106.5,1693.6L2106.7,1692.1L2106.9,1689.2L2107.1,1689.4L2107.2,1686.0L2107.4,1684.5L2107.6,1683.7L2107.8,1681.0L2108.0,1679.1L2108.2,1678.1L2108.3,1674.6L2108.5,1673.7L2108.7,1670.2L2108.9,1669.3L2109.1,1668.0L2109.3,1664.8L2109.5,1664.6L2109.6,1660.9L2109.8,1660.5L2110.0,1657.6L2110.2,1656.1L2110.4,1656.1L2110.6,1653.4L2110.8,1651.3L2110.9,1650.8L2111.1,1646.9L2111.3,1646.5L2111.5,1644.4L2111.7,1641.7L2111.9,1638.8L2112.1,1638.8L2112.3,1635.6L2112.5,1633.6L2112.7,1633.3L2112.8,1630.4L2113.0,1629.0L2113.2,1628.2L2113.4,1626.3L2113.6,1626.3L2113.9,1624.0L2114.1,1622.6L2114.3,1623.6L2114.5,1622.9L2114.7,1622.1L2115.0,1622.4L2115.3,1622.1L2115.6,1623.6L2115.9,1626.0L2116.2,1625.9L2116.5,1627.5L2116.8,1629.3L2117.1,1631.9L2117.4,1632.6L2117.7,1635.0L2118.0,1638.0L2118.3,1639.7L2118.6,1642.2L2118.9,1644.4L2119.1,1645.9L2119.4,1647.9L2119.6,1648.4L2119.8,1650.4L2119.9,1652.0L2120.1,1653.4L2120.3,1654.0L2120.4,1656.0L2120.5,1657.2L2120.7,1658.3L2120.8,1661.0L2120.9,1662.7L2121.0,1665.0L2121.1,1666.4L2121.3,1666.8L2121.4,1669.7L2121.5,1670.8L2121.7,1671.4L2121.8,1674.6L2122.0,1674.4L2122.1,1676.9L2122.3,1677.5L2122.5,1680.3L2122.7,1680.9L2122.9,1682.8L2123.2,1683.3L2123.5,1686.8L2123.7,1688.0L2124.0,1689.7L2124.2,1691.4L2124.5,1693.7L2124.9,1694.3L2125.3,1697.3L2125.7,1698.3L2126.2,1698.2L2126.9,1700.5L2127.6,1701.0L2129.0,1700.6L2130.6,1701.5L2132.4,1701.0L2134.2,1701.8L2135.8,1700.9L2136.9,1702.6L2138.0,1703.2L2139.0,1705.3L2140.0,1706.3L2141.0,1706.8L2142.0,1708.3L2143.1,1710.2L2144.1,1711.1L2145.2,1710.5L2146.5,1711.5L2147.9,1712.0L2149.4,1710.4L2150.8,1708.9L2152.2,1708.0L2153.5,1706.2L2154.6,1706.0L2155.1,1705.2L2155.6,1704.1L2156.1,1701.7L2156.5,1700.2L2156.9,1698.5L2157.3,1697.8L2157.6,1696.5L2157.9,1693.5L2158.2,1691.8L2158.4,1688.5L2158.7,1688.2L2158.9,1685.7L2159.1,1684.4L2159.3,1682.2L2159.5,1680.7L2159.7,1678.8L2160.0,1676.7L2160.2,1674.5L2160.4,1673.8L2160.7,1674.1L2161.0,1673.4L2161.3,1672.7L2161.6,1671.5L2162.1,1671.7L2162.6,1671.8L2163.2,1673.4L2163.7,1675.5L2164.3,1677.8L2164.8,1679.2L2165.4,1680.6L2165.9,1683.3L2166.5,1684.4L2167.0,1686.7L2167.5,1688.2L2168.0,1689.7L2168.4,1692.0L2168.8,1692.8L2169.2,1694.3L2169.6,1695.6L2170.0,1698.4L2170.6,1698.4L2171.3,1699.6L2172.2,1700.3L2173.5,1702.1L2175.2,1701.3L2177.0,1701.6L2178.9,1703.1L2180.7,1702.6L2182.4,1702.1L2183.9,1702.1L2185.0,1700.3L2186.0,1698.9L2186.9,1697.9L2187.7,1695.9L2188.5,1695.7L2189.1,1692.6L2189.8,1692.1L2190.4,1690.0L2191.0,1688.8L2191.3,1686.3L2191.6,1686.6L2191.8,1685.2L2192.0,1682.3L2192.2,1680.6L2192.4,1680.9L2192.5,1678.7L2192.7,1677.0L2192.8,1674.7L2192.9,1674.9L2193.0,1672.0L2193.0,1670.5L2193.1,1668.5L2193.2,1666.5L2193.2,1665.7L2193.3,1664.3L2193.3,1662.7L2193.4,1660.6L2193.5,1659.3L2193.5,1656.5L2193.6,1654.9L2193.7,1653.5L2193.8,1651.8L2194.0,1651.0L2194.1,1648.7L2194.3,1647.8L2194.5,1646.5L2194.9,1645.0L2195.2,1643.0L2195.7,1641.9L2196.1,1638.0L2196.5,1637.9L2197.0,1634.6L2197.4,1632.4L2197.9,1631.2L2198.3,1630.1L2198.8,1630.7L2199.2,1629.3L2199.5,1630.3L2199.8,1631.0L2200.0,1631.3L2200.3,1631.5L2200.6,1634.2L2200.8,1635.1L2201.1,1636.9L2201.4,1637.1L2201.6,1639.3L2201.9,1639.8L2202.2,1641.8L2202.4,1645.0L2202.7,1646.3L2203.0,1649.0L2203.2,1649.5L2203.5,1652.0L2203.7,1654.8L2203.9,1657.3L2204.2,1658.0L2204.4,1659.5L2204.6,1661.5L2204.9,1662.2L2205.1,1664.3L2205.4,1665.4L2205.6,1669.0L2205.9,1670.1L2206.1,1673.2L2206.3,1675.1L2206.6,1677.3L2206.8,1679.3L2207.0,1681.0L2207.2,1681.4L2207.5,1684.0L2207.7,1684.9L2208.0,1684.7L2208.3,1686.7L2208.6,1686.3L2209.0,1684.9L2209.4,1684.4L2209.9,1683.0L2210.3,1682.7L2210.8,1679.7L2211.2,1677.8L2211.7,1676.6L2212.2,1674.6L2212.8,1671.2L2213.3,1669.7L2213.8,1668.1L2214.4,1667.9L2215.0,1664.7L2215.6,1663.6L2216.2,1661.1L2216.8,1659.9L2217.4,1659.2L2218.0,1656.9L2218.5,1656.2L2219.1,1656.5L2219.6,1657.3L2220.1,1657.8L2220.5,1658.8L2221.0,1658.8L2221.4,1660.9L2221.9,1663.8L2222.3,1664.3L2222.8,1667.6L2223.2,1669.9L2223.6,1672.0L2224.1,1672.6L2224.5,1675.7L2225.0,1675.7L2225.5,1677.2L2225.9,1678.8L2226.4,1680.2L2226.9,1681.5L2227.3,1684.3L2227.8,1684.5L2228.3,1687.4L2228.8,1688.4L2229.3,1689.2L2229.8,1689.9L2230.3,1691.9L2230.9,1694.2L2231.4,1695.2L2232.0,1696.9L2232.5,1699.2L2233.1,1701.2L2233.6,1701.4L2234.2,1704.2L2234.7,1706.2L2235.4,1707.0L2236.0,1709.0L2236.7,1710.3L2237.4,1710.3L2238.2,1711.3L2239.1,1712.8L2240.5,1712.5L2242.0,1713.6L2243.6,1714.1L2245.2,1713.1L2246.9,1711.3L2248.5,1710.8L2249.8,1710.2L2251.2,1711.2L2252.5,1710.7L2253.9,1708.8L2255.3,1707.4L2256.6,1706.3L2257.9,1705.8L2259.1,1705.2L2260.2,1703.7L2260.9,1703.2L2261.5,1700.7L2262.0,1699.9L2262.5,1698.4L2263.0,1696.8L2263.4,1694.5L2263.8,1692.3L2264.2,1691.4L2264.6,1689.8L2265.0,1687.1L2265.3,1684.3L2265.7,1682.6L2266.0,1681.9L2266.4,1680.5L2266.8,1678.4L2267.2,1677.1L2267.6,1676.1L2268.0,1673.4L2268.5,1672.5L2269.0,1673.7L2269.6,1672.0L2270.7,1673.0L2271.9,1673.4L2273.2,1673.3L2274.5,1674.6L2275.8,1676.9L2276.9,1677.8L2277.9,1679.0L2278.5,1680.6L2279.0,1682.5L2279.5,1683.2L2279.8,1684.8L2280.1,1687.4L2280.4,1688.8L2280.7,1689.5L2280.9,1691.0L2281.2,1693.6L2281.5,1695.2L2281.8,1695.8L2282.2,1698.4L2282.6,1699.0L2283.1,1701.2L2283.6,1702.3L2284.1,1705.0L2284.6,1706.7L2285.1,1708.6L2285.7,1708.3L2286.2,1710.0L2286.8,1712.8L2287.5,1714.3L2288.1,1715.5L2288.8,1716.4L2289.6,1716.9L2290.6,1718.2L2291.7,1720.6L2292.8,1721.2L2294.0,1723.6L2295.3,1724.9L2296.5,1726.2L2297.8,1725.5L2299.0,1726.9L2300.6,1726.1L2302.3,1726.3L2304.0,1726.6L2305.6,1724.1L2307.2,1725.6L2308.7,1724.1L2310.2,1722.4L2311.6,1723.3L2313.1,1722.6L2314.5,1721.7L2315.9,1724.1L2317.3,1724.2L2318.7,1724.0L2320.1,1725.6"/>
</g>
<g font-family="Liberation Serif, Times New Roman, serif" font-size="91.5" text-anchor="middle" fill="#000">
<text x="177" y="1864.2">4000</text>
<text x="497" y="1864.2">3500</text>
<text x="817" y="1864.2">3000</text>
<text x="1137" y="1864.2">2500</text>
<text x="1457" y="1864.2">2000</text>
<text x="1777" y="1864.2">1500</text>
<text x="2097" y="1864.2">1000</text>
</g>
<g font-family="Liberation Serif, Times New Roman, serif" font-size="91" text-anchor="middle" fill="#000">
<text transform="translate(831.2,139.5) rotate(-90)">2945</text>
<text transform="translate(966.8,161) rotate(-90)">2838</text>
<text transform="translate(1824.3,159) rotate(-90)">1460</text>
<text transform="translate(1952.3,138.5) rotate(-90)">1376</text>
<text transform="translate(2300.8,686.5) rotate(-90)">720</text>
</g>
<g font-family="Liberation Serif, Times New Roman, serif" font-weight="bold" font-size="89.5" fill="#000">
<text x="282" y="338.5">PP</text>
<text x="282" y="795">PBE</text>
<text x="282" y="1048.5">PP/PBE-1</text>
<text x="282" y="1276.5">PP/PBE-2</text>
<text x="282" y="1619">PP/PBE-3</text>
</g>
<text x="791" y="2040" font-family="Liberation Serif, Times New Roman, serif" font-size="107.5" fill="#000">Wavenumbers (cm<tspan dx="-5" dy="-40" font-size="84">−</tspan><tspan dx="-6" dy="-3" font-size="74">1</tspan><tspan dy="43">)</tspan></text>
<text transform="translate(98.7,894.8) rotate(-90)" text-anchor="middle" font-family="Liberation Serif, Times New Roman, serif" font-size="106" fill="#000">Absorbance (a.u.)</text>
</svg>
</body></html>
